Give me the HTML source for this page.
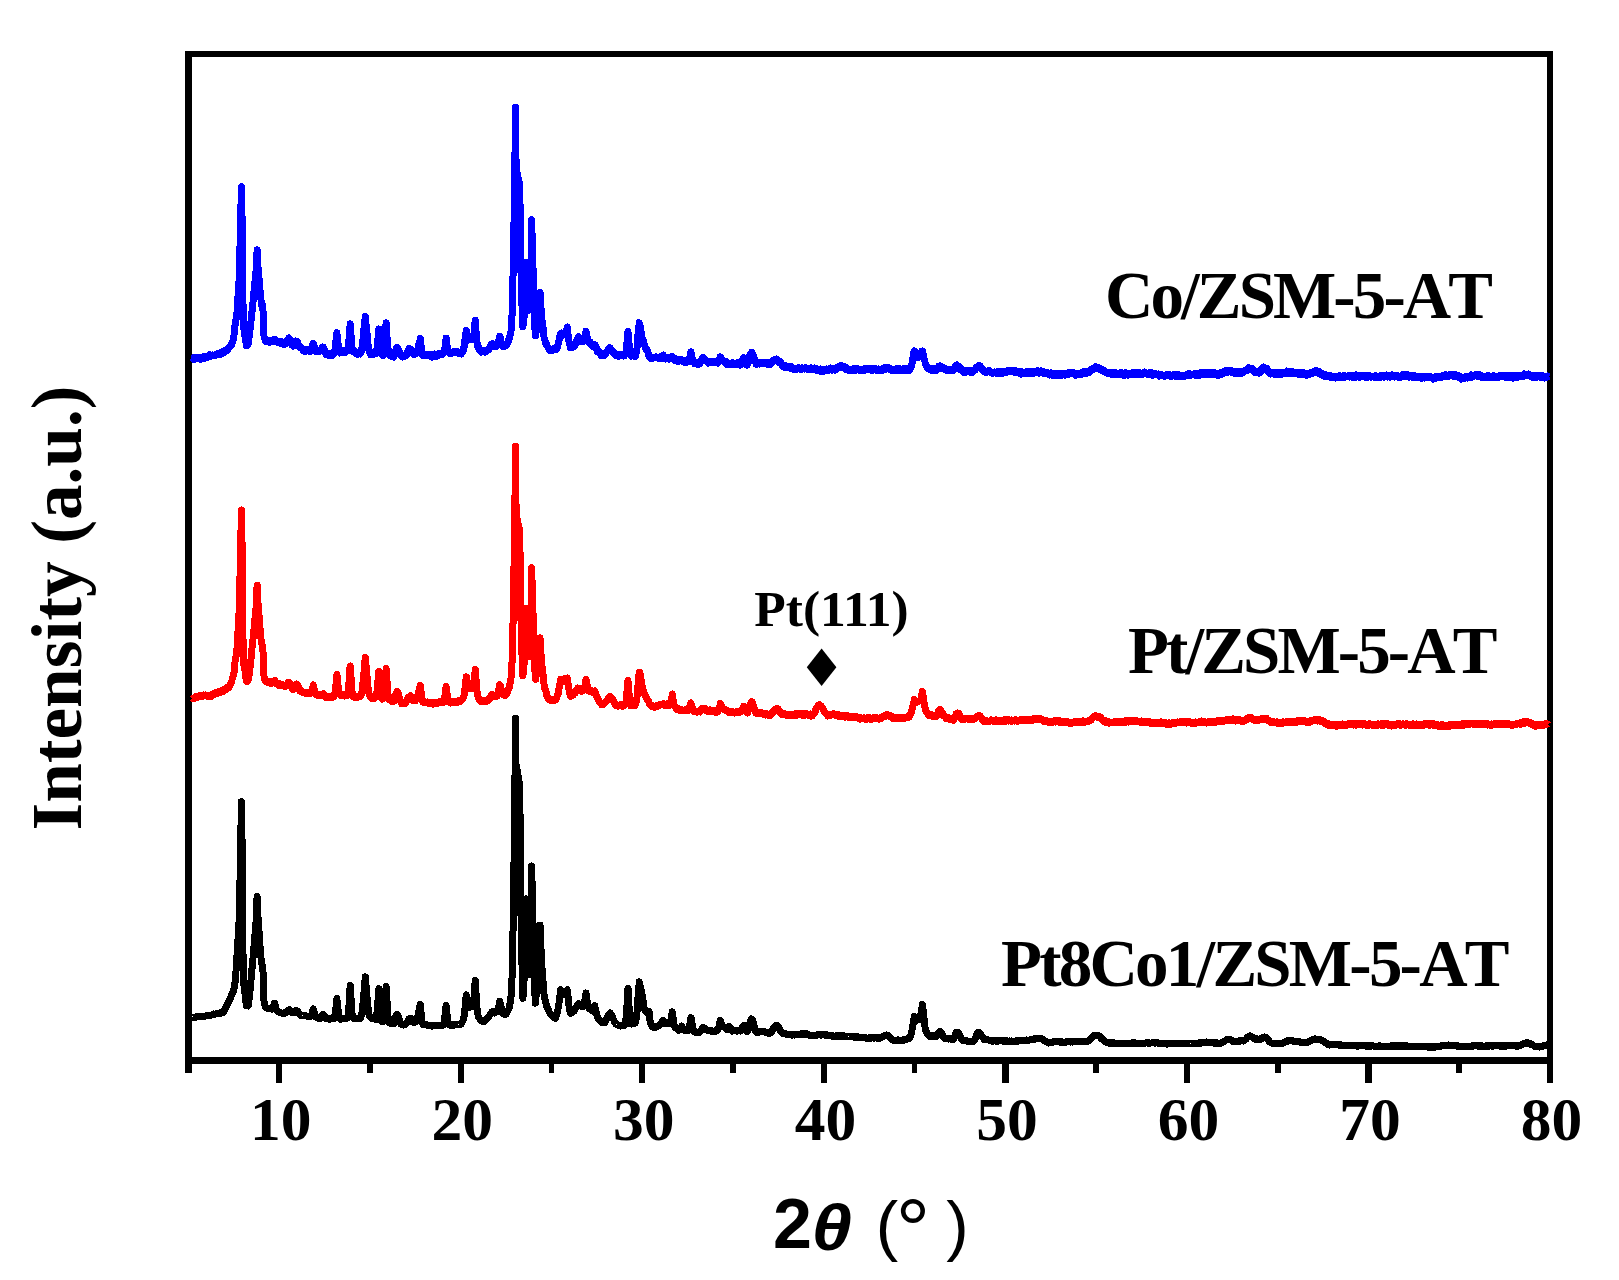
<!DOCTYPE html>
<html lang="en"><head><meta charset="utf-8"><title>XRD patterns</title>
<style>html,body{margin:0;padding:0;background:#fff}svg{display:block}</style>
</head><body>
<svg width="1619" height="1280" viewBox="0 0 1619 1280">
<rect width="1619" height="1280" fill="#fff"/>
<g fill="#000" shape-rendering="crispEdges">
<rect x="185" y="51" width="7" height="1022"/>
<rect x="185" y="51" width="1368" height="6"/>
<rect x="1547" y="51" width="6" height="1032"/>
<rect x="185" y="1057" width="1368" height="7"/>
<rect x="276.2" y="1060" width="6.2" height="23"/>
<rect x="367.2" y="1060" width="5.6" height="13"/>
<rect x="457.7" y="1060" width="6.2" height="23"/>
<rect x="548.8" y="1060" width="5.6" height="13"/>
<rect x="639.2" y="1060" width="6.2" height="23"/>
<rect x="730.3" y="1060" width="5.6" height="13"/>
<rect x="820.8" y="1060" width="6.2" height="23"/>
<rect x="911.8" y="1060" width="5.6" height="13"/>
<rect x="1002.3" y="1060" width="6.2" height="23"/>
<rect x="1093.4" y="1060" width="5.6" height="13"/>
<rect x="1183.8" y="1060" width="6.2" height="23"/>
<rect x="1274.9" y="1060" width="5.6" height="13"/>
<rect x="1365.4" y="1060" width="6.2" height="23"/>
<rect x="1456.4" y="1060" width="5.6" height="13"/>
</g>
<path d="M192.5 358.5 L192.9 358.4 L193.3 358.0 L193.7 359.5 L194.1 359.5 L194.5 358.1 L194.9 357.8 L195.3 359.1 L195.7 358.5 L196.1 358.1 L196.5 358.0 L196.9 358.0 L197.3 358.5 L197.7 358.1 L198.1 358.6 L198.5 357.5 L198.9 358.2 L199.3 358.5 L199.7 358.0 L200.1 359.1 L200.5 359.5 L200.9 359.0 L201.3 358.3 L201.7 357.5 L202.1 358.2 L202.5 357.6 L202.9 357.1 L203.3 357.7 L203.7 357.1 L204.1 357.8 L204.5 358.2 L204.9 356.5 L205.3 357.3 L205.7 356.4 L206.1 356.4 L206.5 357.1 L206.9 357.8 L207.3 356.4 L207.7 356.9 L208.1 356.0 L208.5 357.0 L208.9 355.5 L209.3 356.0 L209.7 354.8 L210.1 355.5 L210.5 356.0 L210.9 356.4 L211.3 356.2 L211.7 355.5 L212.1 355.0 L212.5 355.2 L212.9 355.3 L213.3 355.2 L213.7 355.3 L214.1 355.4 L214.5 355.7 L214.9 355.1 L215.3 355.4 L215.7 355.1 L216.1 354.2 L216.5 354.7 L216.9 353.9 L217.3 354.5 L217.7 354.8 L218.1 354.9 L218.5 354.8 L218.9 354.3 L219.3 353.7 L219.7 353.0 L220.1 353.5 L220.5 354.2 L220.9 353.1 L221.3 352.4 L221.7 353.4 L222.1 353.9 L222.5 352.5 L222.9 351.9 L223.3 351.5 L223.7 352.2 L224.1 352.9 L224.5 351.5 L224.9 352.1 L225.3 350.5 L225.7 350.1 L226.1 350.5 L226.5 350.9 L226.9 350.2 L227.3 350.3 L227.7 349.3 L228.1 348.9 L228.5 348.8 L228.9 347.4 L229.3 346.9 L229.7 346.7 L230.1 346.9 L230.5 345.6 L230.9 344.8 L231.3 345.8 L231.7 344.5 L232.1 342.5 L232.5 341.7 L232.9 340.4 L233.3 339.2 L233.7 337.3 L234.1 334.3 L234.5 329.4 L234.9 326.0 L235.3 323.7 L235.7 321.1 L236.1 319.0 L236.5 317.9 L236.9 314.6 L237.3 307.6 L237.7 301.4 L238.1 294.7 L238.5 287.9 L238.9 283.3 L239.3 275.3 L239.7 258.3 L240.1 243.2 L240.5 226.9 L240.9 209.1 L241.3 191.2 L241.4 186.8 L241.7 200.0 L242.1 219.6 L242.5 263.4 L242.9 298.2 L243.3 317.6 L243.7 327.5 L244.1 330.2 L244.5 332.6 L244.9 335.7 L245.3 337.1 L245.7 339.9 L246.1 343.3 L246.5 345.6 L246.9 345.5 L247.3 345.5 L247.7 344.3 L248.1 343.9 L248.5 341.9 L248.9 337.9 L249.3 335.5 L249.7 333.0 L250.1 328.9 L250.5 324.9 L250.9 322.1 L251.3 317.8 L251.7 313.3 L252.1 310.9 L252.5 307.9 L252.9 302.7 L253.3 299.5 L253.7 294.4 L254.1 290.2 L254.5 285.8 L254.9 282.7 L255.3 278.6 L255.7 275.0 L256.1 270.6 L256.5 262.6 L256.9 254.6 L257.1 249.9 L257.3 253.9 L257.7 261.9 L258.1 268.0 L258.5 272.9 L258.9 276.9 L259.3 281.8 L259.7 287.0 L260.1 291.3 L260.5 295.9 L260.9 298.8 L261.3 302.4 L261.7 305.2 L262.1 304.7 L262.5 304.8 L262.9 306.4 L263.3 323.2 L263.7 331.7 L264.1 337.4 L264.5 337.3 L264.9 338.3 L265.3 340.5 L265.7 340.3 L266.1 340.1 L266.5 341.6 L266.9 340.0 L267.3 340.6 L267.7 341.6 L268.1 341.5 L268.5 341.9 L268.9 340.7 L269.3 341.0 L269.7 342.0 L270.1 340.5 L270.5 340.7 L270.9 342.0 L271.3 340.6 L271.7 341.5 L272.1 341.7 L272.5 340.6 L272.9 341.7 L273.3 341.3 L273.7 339.6 L274.1 340.7 L274.5 340.6 L274.9 340.1 L275.3 339.3 L275.7 340.9 L276.1 341.2 L276.5 341.9 L276.9 340.8 L277.3 341.5 L277.7 342.5 L278.1 342.7 L278.5 341.6 L278.9 341.6 L279.3 341.9 L279.7 342.0 L280.1 343.3 L280.5 343.6 L280.9 341.6 L281.3 342.5 L281.7 341.7 L282.1 343.2 L282.5 343.0 L282.9 343.9 L283.3 344.3 L283.7 344.6 L284.1 343.1 L284.5 342.5 L284.9 344.0 L285.3 343.7 L285.7 343.9 L286.1 342.8 L286.5 342.1 L286.9 342.0 L287.3 340.7 L287.7 339.7 L288.1 338.9 L288.5 339.3 L288.9 337.9 L289.2 338.3 L289.3 338.8 L289.7 339.7 L290.1 340.8 L290.5 341.1 L290.9 343.3 L291.3 344.1 L291.7 344.2 L292.1 345.3 L292.5 345.2 L292.9 345.9 L293.3 344.8 L293.7 346.1 L294.1 344.8 L294.5 343.2 L294.9 342.2 L295.3 341.7 L295.7 341.1 L296.1 342.1 L296.5 341.3 L296.9 342.7 L297.3 342.0 L297.7 342.2 L298.1 344.2 L298.5 345.3 L298.9 346.4 L299.3 345.5 L299.7 345.6 L300.1 347.5 L300.5 347.8 L300.9 347.3 L301.3 347.3 L301.7 347.9 L302.1 348.2 L302.5 349.2 L302.9 350.3 L303.3 348.9 L303.7 350.0 L304.1 350.0 L304.5 350.8 L304.9 351.4 L305.3 351.4 L305.7 349.7 L306.1 350.6 L306.5 350.9 L306.9 350.2 L307.3 349.2 L307.7 350.6 L308.1 350.7 L308.5 351.0 L308.9 351.2 L309.3 351.2 L309.7 349.7 L310.1 351.3 L310.5 351.6 L310.9 350.1 L311.3 350.1 L311.7 349.5 L312.1 347.3 L312.5 345.2 L312.9 344.2 L313.3 343.3 L313.7 344.2 L314.1 346.1 L314.5 348.5 L314.9 348.8 L315.3 350.8 L315.7 350.0 L316.1 350.9 L316.5 351.9 L316.9 351.2 L317.3 350.7 L317.7 350.5 L318.1 350.6 L318.5 350.7 L318.9 350.8 L319.3 350.6 L319.7 351.3 L320.1 350.8 L320.5 350.2 L320.9 350.2 L321.3 350.7 L321.7 348.9 L322.1 347.6 L322.5 348.4 L322.9 348.2 L323.1 347.0 L323.3 348.8 L323.7 348.0 L324.1 349.4 L324.5 349.8 L324.9 351.9 L325.3 352.2 L325.7 353.3 L326.1 354.6 L326.5 354.7 L326.9 354.0 L327.3 353.9 L327.7 354.5 L328.1 354.7 L328.5 355.2 L328.9 354.0 L329.3 353.8 L329.7 353.5 L330.1 355.1 L330.5 354.1 L330.9 355.0 L331.3 354.6 L331.7 355.5 L332.1 354.9 L332.5 355.2 L332.9 353.5 L333.3 354.7 L333.7 353.9 L334.1 352.2 L334.5 352.7 L334.9 350.0 L335.3 347.4 L335.7 343.0 L336.1 339.8 L336.5 336.4 L336.9 332.7 L337.3 337.0 L337.7 339.6 L338.1 344.1 L338.5 345.9 L338.9 350.1 L339.3 350.6 L339.7 351.8 L340.1 353.0 L340.5 352.6 L340.9 352.7 L341.3 351.0 L341.7 352.3 L342.1 350.6 L342.5 351.4 L342.9 351.8 L343.3 351.8 L343.7 351.8 L344.1 351.6 L344.5 352.4 L344.9 351.0 L345.3 352.1 L345.7 352.3 L346.1 351.1 L346.5 351.4 L346.9 351.4 L347.3 350.9 L347.7 350.9 L348.1 350.1 L348.5 346.1 L348.9 340.1 L349.3 335.5 L349.7 330.6 L350.1 324.8 L350.2 323.8 L350.5 328.3 L350.9 333.5 L351.3 339.2 L351.7 343.3 L352.1 348.5 L352.5 350.1 L352.9 351.2 L353.3 351.9 L353.7 352.0 L354.1 351.4 L354.5 351.6 L354.9 352.0 L355.3 352.0 L355.7 351.6 L356.1 353.1 L356.5 353.8 L356.9 353.0 L357.3 353.6 L357.7 354.2 L358.1 352.5 L358.5 353.2 L358.9 353.4 L359.3 352.5 L359.7 353.9 L360.1 354.0 L360.5 353.0 L360.9 351.8 L361.3 351.4 L361.7 348.9 L362.1 347.5 L362.5 343.9 L362.9 340.1 L363.3 336.0 L363.7 332.3 L364.1 327.3 L364.5 324.5 L364.9 319.8 L365.3 316.6 L365.7 321.2 L366.1 325.1 L366.5 327.7 L366.9 331.8 L367.3 336.8 L367.7 341.6 L368.1 344.4 L368.5 346.9 L368.9 350.7 L369.3 351.2 L369.7 352.3 L370.1 353.0 L370.5 354.6 L370.9 354.1 L371.3 352.9 L371.7 353.7 L372.1 353.4 L372.5 352.8 L372.9 353.3 L373.3 352.9 L373.7 354.3 L374.1 353.1 L374.5 353.5 L374.9 352.4 L375.3 352.7 L375.7 353.6 L376.1 352.5 L376.5 351.9 L376.9 349.2 L377.3 345.9 L377.7 341.1 L378.1 338.0 L378.5 333.5 L378.8 328.9 L378.9 331.4 L379.3 335.2 L379.7 340.3 L380.1 345.6 L380.5 350.1 L380.9 351.7 L381.3 352.7 L381.7 354.1 L382.1 354.6 L382.5 354.3 L382.9 354.8 L383.3 355.6 L383.7 352.3 L384.1 351.1 L384.5 347.5 L384.9 342.8 L385.3 337.0 L385.7 329.6 L386.1 322.9 L386.5 329.3 L386.9 335.6 L387.3 341.4 L387.7 345.9 L388.1 349.3 L388.5 353.5 L388.9 354.3 L389.3 354.7 L389.7 354.6 L390.1 355.3 L390.5 355.7 L390.9 356.2 L391.3 356.2 L391.7 356.3 L392.1 356.7 L392.5 355.7 L392.9 356.8 L393.3 356.8 L393.7 357.1 L394.1 356.3 L394.5 355.1 L394.9 354.6 L395.3 353.0 L395.7 350.1 L396.1 349.7 L396.5 348.0 L396.9 347.3 L397.0 348.4 L397.3 348.2 L397.7 347.8 L398.1 349.6 L398.5 350.3 L398.9 350.1 L399.3 351.7 L399.7 352.9 L400.1 353.5 L400.5 355.3 L400.9 355.3 L401.3 354.9 L401.7 356.4 L402.1 356.3 L402.5 356.0 L402.9 356.9 L403.3 356.7 L403.7 356.9 L404.1 355.7 L404.5 355.2 L404.9 355.1 L405.3 355.2 L405.7 355.4 L406.1 354.5 L406.5 354.4 L406.9 354.7 L407.3 353.9 L407.7 351.4 L408.1 351.0 L408.5 350.6 L408.9 348.7 L409.3 350.1 L409.7 349.8 L410.0 349.0 L410.1 348.8 L410.5 349.4 L410.9 349.2 L411.3 350.8 L411.7 351.8 L412.1 352.4 L412.5 353.3 L412.9 353.1 L413.3 354.2 L413.7 353.5 L414.1 353.3 L414.5 352.9 L414.9 354.2 L415.3 354.0 L415.7 353.8 L416.1 353.4 L416.5 353.1 L416.9 352.1 L417.3 350.4 L417.7 350.0 L418.1 348.9 L418.5 346.0 L418.9 344.0 L419.3 342.6 L419.7 342.0 L420.1 339.6 L420.3 338.4 L420.5 340.5 L420.9 344.2 L421.3 348.1 L421.7 350.6 L422.1 353.0 L422.5 355.1 L422.9 355.6 L423.3 354.4 L423.7 354.7 L424.1 353.9 L424.5 355.6 L424.9 354.5 L425.3 355.6 L425.7 354.4 L426.1 354.1 L426.5 354.4 L426.9 354.4 L427.3 354.6 L427.7 354.8 L428.1 354.9 L428.5 354.4 L428.9 355.4 L429.3 355.9 L429.7 355.1 L430.1 354.7 L430.5 354.5 L430.9 354.8 L431.3 355.6 L431.7 356.2 L432.1 357.1 L432.5 357.0 L432.9 355.4 L433.3 355.1 L433.7 354.9 L434.1 354.4 L434.5 354.1 L434.9 355.1 L435.3 356.2 L435.7 356.5 L436.1 354.5 L436.5 354.3 L436.9 354.4 L437.3 355.4 L437.7 354.0 L438.1 354.3 L438.5 355.2 L438.9 355.2 L439.3 353.9 L439.7 354.1 L440.1 354.5 L440.5 353.3 L440.9 354.5 L441.3 354.4 L441.7 353.7 L442.1 353.3 L442.5 352.6 L442.9 354.2 L443.3 352.8 L443.7 352.6 L444.1 352.1 L444.5 349.8 L444.9 348.3 L445.3 344.3 L445.7 341.9 L446.1 338.1 L446.5 341.7 L446.9 344.9 L447.3 347.3 L447.7 349.6 L448.1 351.8 L448.5 351.1 L448.9 351.8 L449.3 351.9 L449.7 352.9 L450.1 353.5 L450.5 352.3 L450.9 353.4 L451.3 352.1 L451.7 352.2 L452.1 353.1 L452.5 352.1 L452.9 353.0 L453.3 351.5 L453.7 351.5 L454.1 352.7 L454.5 352.7 L454.9 351.5 L455.3 351.9 L455.7 352.1 L456.1 351.1 L456.5 352.8 L456.9 351.4 L457.3 353.1 L457.7 353.1 L458.1 353.1 L458.5 352.5 L458.9 352.1 L459.3 352.6 L459.7 353.8 L460.1 352.3 L460.5 352.7 L460.9 353.1 L461.3 354.0 L461.7 353.1 L462.1 352.8 L462.5 351.8 L462.9 350.4 L463.3 350.4 L463.7 347.4 L464.1 347.1 L464.5 343.1 L464.9 340.1 L465.3 336.6 L465.7 334.1 L466.1 331.7 L466.3 330.4 L466.5 331.2 L466.9 332.9 L467.3 334.9 L467.7 337.3 L468.1 338.5 L468.5 339.5 L468.9 339.9 L469.3 338.5 L469.7 339.4 L470.1 337.4 L470.5 338.0 L470.9 336.8 L471.3 336.8 L471.7 339.3 L472.1 339.1 L472.5 339.2 L472.9 339.5 L473.3 337.3 L473.7 335.6 L474.1 333.0 L474.5 328.4 L474.9 323.2 L475.2 320.1 L475.3 322.9 L475.7 326.5 L476.1 332.0 L476.5 336.8 L476.9 341.0 L477.3 344.1 L477.7 345.7 L478.1 347.7 L478.5 348.7 L478.9 348.1 L479.3 348.0 L479.7 349.5 L480.1 350.2 L480.5 351.0 L480.9 350.7 L481.3 352.1 L481.7 351.7 L482.1 351.2 L482.5 350.5 L482.9 350.4 L483.3 350.6 L483.7 351.6 L484.1 351.3 L484.5 351.9 L484.9 350.9 L485.3 351.5 L485.7 351.9 L486.1 351.2 L486.5 351.1 L486.9 349.8 L487.3 349.7 L487.7 349.3 L488.1 349.1 L488.5 350.1 L488.9 348.5 L489.3 348.9 L489.7 348.1 L490.1 346.2 L490.5 345.4 L490.9 344.6 L491.3 344.2 L491.7 344.8 L492.0 344.2 L492.1 343.8 L492.5 343.9 L492.9 343.7 L493.3 343.7 L493.7 344.7 L494.1 346.1 L494.5 346.8 L494.9 345.0 L495.3 345.6 L495.7 345.9 L496.1 345.6 L496.5 346.3 L496.9 345.0 L497.3 344.0 L497.7 343.9 L498.1 342.0 L498.5 342.1 L498.9 340.5 L499.3 338.9 L499.7 336.7 L499.8 336.2 L500.1 337.1 L500.5 339.4 L500.9 341.5 L501.3 343.1 L501.7 343.6 L502.1 344.4 L502.5 345.2 L502.9 346.5 L503.3 345.8 L503.7 344.7 L504.1 345.5 L504.5 346.4 L504.9 345.2 L505.3 345.2 L505.7 345.8 L506.1 345.8 L506.5 344.4 L506.9 344.3 L507.3 343.9 L507.7 342.9 L508.1 342.4 L508.5 340.1 L508.9 339.4 L509.3 338.7 L509.7 337.2 L510.1 335.3 L510.5 334.3 L510.9 332.0 L511.3 328.6 L511.7 321.7 L512.1 313.9 L512.5 300.2 L512.9 282.5 L513.3 261.6 L513.7 239.2 L514.1 217.1 L514.5 190.6 L514.9 163.4 L515.3 125.9 L515.5 107.1 L515.7 136.8 L516.1 164.6 L516.5 168.6 L516.9 171.0 L517.3 173.7 L517.7 176.1 L518.1 177.4 L518.5 179.8 L518.9 180.4 L519.3 182.7 L519.7 184.0 L520.1 209.5 L520.5 242.0 L520.9 266.6 L521.3 288.6 L521.7 297.7 L522.1 308.7 L522.5 318.9 L522.9 326.8 L523.3 323.9 L523.7 320.8 L524.1 317.2 L524.5 310.2 L524.9 300.9 L525.3 294.0 L525.7 278.5 L526.1 262.7 L526.5 273.0 L526.9 282.8 L527.3 292.3 L527.7 302.2 L528.1 309.0 L528.5 310.0 L528.9 309.2 L529.3 310.2 L529.7 303.7 L530.1 294.8 L530.5 284.3 L530.9 265.0 L531.3 242.6 L531.6 219.8 L531.7 222.6 L532.1 236.7 L532.5 248.8 L532.9 263.7 L533.3 279.0 L533.7 294.6 L534.1 307.3 L534.5 316.8 L534.9 327.4 L535.3 335.6 L535.7 335.6 L536.1 332.1 L536.5 327.5 L536.9 323.7 L537.3 319.5 L537.7 314.9 L538.1 311.0 L538.5 307.8 L538.9 302.5 L539.3 299.1 L539.7 296.0 L540.0 292.4 L540.1 293.5 L540.5 300.3 L540.9 306.3 L541.3 311.5 L541.7 315.9 L542.1 321.0 L542.5 323.9 L542.9 326.9 L543.3 329.4 L543.7 333.1 L544.1 337.7 L544.5 339.5 L544.9 339.7 L545.3 341.9 L545.7 343.4 L546.1 343.2 L546.5 344.8 L546.9 345.6 L547.3 346.4 L547.7 346.8 L548.1 347.9 L548.5 347.4 L548.9 349.5 L549.3 348.5 L549.7 350.3 L550.1 348.9 L550.5 349.3 L550.9 349.1 L551.3 350.7 L551.7 349.7 L552.1 350.9 L552.5 349.9 L552.9 349.1 L553.3 349.4 L553.7 348.9 L554.1 349.7 L554.5 349.2 L554.9 349.3 L555.3 349.1 L555.7 349.1 L556.1 349.9 L556.5 348.6 L556.9 347.8 L557.3 347.2 L557.7 345.4 L558.1 344.6 L558.5 341.6 L558.9 340.7 L559.3 339.8 L559.7 337.7 L560.1 335.1 L560.5 334.7 L560.7 334.0 L560.9 333.2 L561.3 333.0 L561.7 333.3 L562.1 334.1 L562.5 333.9 L562.9 335.2 L563.3 334.4 L563.7 334.3 L564.1 333.5 L564.5 334.8 L564.9 334.7 L565.3 334.0 L565.7 333.5 L566.1 333.0 L566.5 331.2 L566.9 329.4 L567.3 327.0 L567.7 331.6 L568.1 334.9 L568.5 338.9 L568.9 340.9 L569.3 342.4 L569.7 343.9 L570.1 345.8 L570.5 347.7 L570.9 347.0 L571.3 347.7 L571.7 346.5 L572.1 347.6 L572.5 346.1 L572.9 345.5 L573.3 345.0 L573.7 346.2 L574.1 346.5 L574.5 345.8 L574.9 344.0 L575.3 344.2 L575.7 343.4 L576.1 341.5 L576.5 341.6 L576.9 340.8 L577.3 339.0 L577.7 338.8 L578.1 337.2 L578.3 336.8 L578.5 336.7 L578.9 338.4 L579.3 338.4 L579.7 339.4 L580.1 341.0 L580.5 340.4 L580.9 340.2 L581.3 340.7 L581.7 341.9 L582.1 341.0 L582.5 340.2 L582.9 340.0 L583.3 340.4 L583.7 341.3 L584.1 339.5 L584.5 339.0 L584.9 336.6 L585.3 335.8 L585.7 333.5 L586.0 331.1 L586.1 331.5 L586.5 333.9 L586.9 335.8 L587.3 337.9 L587.7 340.6 L588.1 340.3 L588.5 341.1 L588.9 342.5 L589.3 343.2 L589.7 343.4 L590.1 342.4 L590.5 342.3 L590.9 343.9 L591.3 344.0 L591.7 345.2 L592.1 344.0 L592.5 345.3 L592.9 345.7 L593.3 346.4 L593.7 345.0 L594.1 345.3 L594.5 345.9 L594.7 345.3 L594.9 344.7 L595.3 346.5 L595.7 346.5 L596.1 347.1 L596.5 349.6 L596.9 349.7 L597.3 351.3 L597.7 352.1 L598.1 350.9 L598.5 351.1 L598.9 352.6 L599.3 352.0 L599.7 352.0 L600.1 352.3 L600.5 354.4 L600.9 355.3 L601.3 355.8 L601.7 354.7 L602.1 354.0 L602.5 354.5 L602.9 353.5 L603.3 353.6 L603.7 355.2 L604.1 355.8 L604.5 354.7 L604.9 353.5 L605.3 353.7 L605.7 354.1 L606.1 353.2 L606.5 352.4 L606.9 352.0 L607.3 351.5 L607.7 350.4 L608.1 349.6 L608.5 349.3 L608.9 349.2 L609.3 350.1 L609.7 348.5 L610.0 347.6 L610.1 348.6 L610.5 350.0 L610.9 350.6 L611.3 349.2 L611.7 350.8 L612.1 351.6 L612.5 350.9 L612.9 350.9 L613.3 351.3 L613.7 352.5 L614.1 353.5 L614.5 353.3 L614.9 354.2 L615.3 354.8 L615.7 354.6 L616.1 355.8 L616.5 354.9 L616.9 355.3 L617.3 354.9 L617.7 354.6 L618.1 355.5 L618.5 356.2 L618.9 355.8 L619.3 354.8 L619.7 354.6 L620.1 356.0 L620.5 355.7 L620.9 354.9 L621.3 354.9 L621.7 354.4 L622.1 355.2 L622.5 354.1 L622.9 355.5 L623.3 354.6 L623.7 354.7 L624.1 356.0 L624.5 354.4 L624.9 354.6 L625.3 354.2 L625.7 353.3 L626.1 351.7 L626.5 348.4 L626.9 343.5 L627.3 339.5 L627.7 334.0 L628.0 331.6 L628.1 333.1 L628.5 336.1 L628.9 342.1 L629.3 346.3 L629.7 349.3 L630.1 351.8 L630.5 353.2 L630.9 355.6 L631.3 356.2 L631.7 355.9 L632.1 355.2 L632.5 354.9 L632.9 354.7 L633.3 354.4 L633.7 355.3 L634.1 356.0 L634.5 356.6 L634.9 356.8 L635.3 356.7 L635.7 354.5 L636.1 353.2 L636.5 351.4 L636.9 349.1 L637.3 345.0 L637.7 339.2 L638.1 332.9 L638.5 329.7 L638.9 326.8 L639.2 323.2 L639.3 322.7 L639.7 324.7 L640.1 326.0 L640.5 327.1 L640.9 330.7 L641.3 332.1 L641.7 334.4 L642.1 338.2 L642.5 338.6 L642.9 339.4 L643.3 340.2 L643.7 342.1 L644.1 344.0 L644.5 344.9 L644.9 346.1 L645.3 347.2 L645.7 347.9 L646.1 349.6 L646.5 349.9 L646.9 348.9 L647.3 350.9 L647.7 351.5 L648.1 352.8 L648.5 354.1 L648.9 355.9 L649.3 355.7 L649.7 356.6 L650.1 357.4 L650.5 357.5 L650.9 358.2 L651.3 357.9 L651.7 358.5 L652.1 358.1 L652.5 357.9 L652.9 358.4 L653.3 358.1 L653.7 357.8 L654.1 357.8 L654.5 357.7 L654.9 357.5 L655.3 357.5 L655.7 357.8 L656.1 356.9 L656.5 357.2 L656.9 357.8 L657.3 357.4 L657.7 358.1 L658.1 357.3 L658.5 357.4 L658.9 357.5 L659.3 357.3 L659.7 357.5 L660.1 358.2 L660.5 358.4 L660.9 356.4 L661.3 357.1 L661.7 356.7 L662.1 356.2 L662.5 355.4 L662.9 355.2 L663.0 355.5 L663.3 355.1 L663.7 356.8 L664.1 357.8 L664.5 358.7 L664.9 357.2 L665.3 357.2 L665.7 359.0 L666.1 358.6 L666.5 357.7 L666.9 358.3 L667.3 358.2 L667.7 358.5 L668.1 358.9 L668.5 357.6 L668.9 357.4 L669.3 358.1 L669.7 359.0 L670.1 358.3 L670.5 358.3 L670.9 357.9 L671.3 356.7 L671.7 358.2 L672.1 357.8 L672.3 356.9 L672.5 356.6 L672.9 357.5 L673.3 358.9 L673.7 359.6 L674.1 359.9 L674.5 360.5 L674.9 360.2 L675.3 359.3 L675.7 359.0 L676.1 359.9 L676.5 360.0 L676.9 359.6 L677.3 361.2 L677.7 359.8 L678.1 359.7 L678.5 359.8 L678.9 360.5 L679.3 361.2 L679.7 360.2 L680.1 359.7 L680.5 360.4 L680.9 360.6 L681.3 359.4 L681.7 359.6 L682.1 359.8 L682.5 360.0 L682.9 360.0 L683.3 360.2 L683.7 360.7 L684.1 362.2 L684.5 362.1 L684.9 362.3 L685.3 362.7 L685.7 362.8 L686.1 361.7 L686.5 361.1 L686.9 360.6 L687.3 361.8 L687.7 361.0 L688.1 361.8 L688.5 361.9 L688.9 359.5 L689.3 359.4 L689.7 357.4 L690.1 356.1 L690.5 355.4 L690.9 352.4 L691.0 351.9 L691.3 353.2 L691.7 356.1 L692.1 358.2 L692.5 358.5 L692.9 358.9 L693.3 361.4 L693.7 361.3 L694.1 362.2 L694.5 363.6 L694.9 363.6 L695.3 363.3 L695.7 363.3 L696.1 363.2 L696.5 363.3 L696.9 363.2 L697.3 363.7 L697.7 364.4 L698.1 362.6 L698.5 362.5 L698.9 363.4 L699.3 364.0 L699.7 363.6 L700.1 362.9 L700.5 361.8 L700.9 361.9 L701.3 360.0 L701.7 359.2 L702.1 359.6 L702.5 359.1 L702.9 358.9 L703.0 357.9 L703.3 357.5 L703.7 359.1 L704.1 358.2 L704.5 358.9 L704.9 359.7 L705.3 359.9 L705.7 360.1 L706.1 361.1 L706.5 361.6 L706.9 361.0 L707.3 361.6 L707.7 362.7 L708.1 363.0 L708.5 362.2 L708.9 362.5 L709.3 362.4 L709.7 361.5 L710.1 361.3 L710.5 362.7 L710.9 362.8 L711.3 362.1 L711.7 362.1 L712.1 361.7 L712.5 361.2 L712.9 361.5 L713.3 361.8 L713.7 362.0 L714.1 361.4 L714.5 362.8 L714.9 362.5 L715.3 361.5 L715.7 362.7 L716.1 361.8 L716.5 362.9 L716.9 362.8 L717.3 362.9 L717.7 362.2 L718.1 363.0 L718.5 361.5 L718.9 360.0 L719.3 360.0 L719.7 358.8 L720.1 356.7 L720.2 356.7 L720.5 357.7 L720.9 357.2 L721.3 359.1 L721.7 359.5 L722.1 360.2 L722.5 360.0 L722.9 361.2 L723.3 361.4 L723.7 361.2 L724.1 361.1 L724.5 362.2 L724.9 361.7 L725.3 361.5 L725.7 361.2 L726.1 363.1 L726.5 363.8 L726.9 364.0 L727.3 364.6 L727.7 363.7 L728.1 364.6 L728.5 364.3 L728.9 363.6 L729.3 363.6 L729.7 363.5 L730.1 363.4 L730.5 363.2 L730.9 363.3 L731.3 364.6 L731.7 363.0 L732.1 363.4 L732.5 364.1 L732.9 364.4 L733.3 362.8 L733.7 364.0 L734.1 363.3 L734.5 363.8 L734.9 363.8 L735.3 364.4 L735.7 364.8 L736.1 364.5 L736.5 363.2 L736.9 363.1 L737.3 363.1 L737.7 362.6 L738.1 362.9 L738.5 362.9 L738.9 364.6 L739.3 364.3 L739.7 364.8 L740.1 365.2 L740.5 365.0 L740.9 364.5 L741.3 362.9 L741.7 361.8 L742.1 361.1 L742.5 361.1 L742.9 359.0 L743.3 358.9 L743.7 359.2 L743.8 357.8 L744.1 358.9 L744.5 358.2 L744.9 359.3 L745.3 361.3 L745.7 362.6 L746.1 364.1 L746.5 364.4 L746.9 365.3 L747.3 365.2 L747.7 363.4 L748.1 363.4 L748.5 360.6 L748.9 360.0 L749.3 357.9 L749.7 355.7 L750.1 354.1 L750.5 353.9 L750.9 353.9 L751.3 352.6 L751.5 352.9 L751.7 352.2 L752.1 353.5 L752.5 354.5 L752.9 354.7 L753.3 355.3 L753.7 356.3 L754.1 357.4 L754.5 360.4 L754.9 361.8 L755.3 361.6 L755.7 362.1 L756.1 364.4 L756.5 364.6 L756.9 364.0 L757.3 362.7 L757.7 364.0 L758.1 363.1 L758.5 363.4 L758.9 362.8 L759.3 364.0 L759.7 363.8 L760.1 362.4 L760.5 363.4 L760.9 362.7 L761.3 363.7 L761.7 362.8 L762.1 363.1 L762.5 363.5 L762.9 363.0 L763.3 362.3 L763.7 362.8 L764.1 362.2 L764.5 363.8 L764.9 363.1 L765.3 362.3 L765.7 363.1 L766.1 363.3 L766.5 363.9 L766.9 363.6 L767.3 362.7 L767.7 362.3 L768.1 364.4 L768.5 364.2 L768.9 363.7 L769.3 363.2 L769.7 364.2 L770.1 364.7 L770.5 364.1 L770.9 362.8 L771.3 362.4 L771.7 363.3 L772.1 362.3 L772.5 362.4 L772.9 360.6 L773.3 361.0 L773.7 361.4 L774.1 361.3 L774.5 360.9 L774.9 359.6 L775.3 359.1 L775.7 359.2 L776.1 359.0 L776.5 359.3 L776.6 358.9 L776.9 360.1 L777.3 360.8 L777.7 360.0 L778.1 360.5 L778.5 361.4 L778.9 362.3 L779.3 361.8 L779.7 361.8 L780.1 361.5 L780.5 362.0 L780.9 363.4 L781.3 363.3 L781.7 364.3 L782.1 365.8 L782.5 365.4 L782.9 365.7 L783.3 366.8 L783.7 366.1 L784.1 366.7 L784.5 367.3 L784.9 366.1 L785.3 365.7 L785.7 366.8 L786.1 366.6 L786.5 366.1 L786.9 366.2 L787.3 367.1 L787.7 366.8 L788.1 367.5 L788.5 366.9 L788.9 366.8 L789.3 366.9 L789.7 368.1 L790.1 367.2 L790.5 366.9 L790.9 366.7 L791.3 367.9 L791.7 368.8 L792.1 367.8 L792.5 369.1 L792.9 368.9 L793.3 368.4 L793.7 368.3 L794.1 369.2 L794.5 368.9 L794.9 369.2 L795.3 368.1 L795.7 368.7 L796.1 369.4 L796.5 368.5 L796.9 368.3 L797.3 368.2 L797.7 368.0 L798.1 368.3 L798.5 368.2 L798.9 367.7 L799.3 368.4 L799.7 368.6 L800.1 369.1 L800.5 368.5 L800.9 369.7 L801.3 368.3 L801.7 368.6 L802.1 367.8 L802.5 368.4 L802.9 368.3 L803.3 368.5 L803.7 368.1 L804.1 368.3 L804.5 369.0 L804.9 368.4 L805.3 368.2 L805.7 367.8 L806.1 368.3 L806.5 368.0 L806.9 369.0 L807.3 368.8 L807.7 368.2 L808.1 368.9 L808.5 369.8 L808.9 369.0 L809.3 368.7 L809.7 368.9 L810.1 368.9 L810.5 369.8 L810.9 369.1 L811.3 367.9 L811.7 368.8 L812.1 369.0 L812.5 368.7 L812.9 369.1 L813.3 369.7 L813.7 369.1 L814.1 368.6 L814.5 368.0 L814.9 368.6 L815.3 369.4 L815.7 368.3 L816.1 370.1 L816.5 369.9 L816.9 369.2 L817.3 369.5 L817.7 370.1 L818.1 369.9 L818.5 369.4 L818.9 370.4 L819.3 370.5 L819.7 371.1 L820.1 370.0 L820.5 370.1 L820.9 369.1 L821.3 369.3 L821.7 370.5 L822.1 371.1 L822.5 371.2 L822.9 369.7 L823.3 369.6 L823.7 370.4 L824.1 371.1 L824.5 369.9 L824.9 369.3 L825.3 369.5 L825.7 369.6 L826.1 369.3 L826.5 368.9 L826.9 369.1 L827.3 370.5 L827.7 370.7 L828.1 370.7 L828.5 370.2 L828.9 369.9 L829.3 369.5 L829.7 369.1 L830.1 368.6 L830.5 368.1 L830.9 369.0 L831.3 369.0 L831.7 368.9 L832.1 370.1 L832.5 368.5 L832.9 368.2 L833.3 369.5 L833.7 369.2 L834.1 369.5 L834.5 369.5 L834.9 369.9 L835.3 370.2 L835.7 369.9 L836.1 369.4 L836.5 368.9 L836.9 367.7 L837.3 368.3 L837.7 368.0 L838.1 368.2 L838.5 366.6 L838.9 367.7 L839.3 367.8 L839.7 366.0 L840.1 367.2 L840.5 367.5 L840.9 365.6 L841.3 365.5 L841.7 366.1 L842.1 367.1 L842.5 367.4 L842.9 366.1 L843.3 367.3 L843.7 367.8 L844.1 366.6 L844.5 368.3 L844.9 367.7 L845.3 367.2 L845.7 368.5 L846.1 369.0 L846.5 369.9 L846.9 368.6 L847.3 368.3 L847.7 368.4 L848.1 369.9 L848.5 370.1 L848.9 370.6 L849.3 370.4 L849.7 370.7 L850.1 370.5 L850.5 369.9 L850.9 370.2 L851.3 369.8 L851.7 370.4 L852.1 368.9 L852.5 368.9 L852.9 368.8 L853.3 370.0 L853.7 368.7 L854.1 369.5 L854.5 370.6 L854.9 370.4 L855.3 370.4 L855.7 369.1 L856.1 369.4 L856.5 368.5 L856.9 369.2 L857.3 368.4 L857.7 368.8 L858.1 369.3 L858.5 369.9 L858.9 369.1 L859.3 369.9 L859.7 369.6 L860.1 369.8 L860.5 370.0 L860.9 370.6 L861.3 370.4 L861.7 370.6 L862.1 370.3 L862.5 370.2 L862.9 370.2 L863.3 368.8 L863.7 368.8 L864.1 368.9 L864.5 370.0 L864.9 370.1 L865.3 370.0 L865.7 369.1 L866.1 369.6 L866.5 369.5 L866.9 369.3 L867.3 368.4 L867.7 369.6 L868.1 368.2 L868.5 368.7 L868.9 369.3 L869.3 369.5 L869.7 369.0 L870.1 368.6 L870.5 368.7 L870.9 369.7 L871.3 370.4 L871.7 370.7 L872.1 369.7 L872.5 369.6 L872.9 368.8 L873.3 368.8 L873.7 368.5 L874.1 369.6 L874.5 369.3 L874.9 368.8 L875.3 369.3 L875.7 369.5 L876.1 368.8 L876.5 370.5 L876.9 369.2 L877.3 369.8 L877.7 370.9 L878.1 369.3 L878.5 369.1 L878.9 370.3 L879.3 370.7 L879.7 370.4 L880.1 370.5 L880.5 370.2 L880.9 370.3 L881.3 369.1 L881.7 369.9 L882.1 370.3 L882.5 368.8 L882.9 369.3 L883.3 368.0 L883.7 368.2 L884.1 369.5 L884.5 369.0 L884.9 367.9 L885.3 368.9 L885.7 368.8 L886.1 369.0 L886.5 369.1 L886.9 367.8 L887.0 367.5 L887.3 368.0 L887.7 367.2 L888.1 367.6 L888.5 368.7 L888.9 368.2 L889.3 368.3 L889.7 368.4 L890.1 369.7 L890.5 368.9 L890.9 370.2 L891.3 370.4 L891.7 369.3 L892.1 369.7 L892.5 369.8 L892.9 370.3 L893.3 370.5 L893.7 370.6 L894.1 369.2 L894.5 370.2 L894.9 369.5 L895.3 369.9 L895.7 369.0 L896.1 370.7 L896.5 369.2 L896.9 368.8 L897.3 368.6 L897.7 368.5 L898.1 368.3 L898.5 370.3 L898.9 369.7 L899.3 369.6 L899.7 370.5 L900.1 368.7 L900.5 369.6 L900.9 369.1 L901.3 369.7 L901.7 369.4 L902.1 370.0 L902.5 370.0 L902.9 370.5 L903.3 369.1 L903.7 370.1 L904.1 369.7 L904.5 368.4 L904.9 370.1 L905.3 369.2 L905.7 368.8 L906.1 369.0 L906.5 369.8 L906.9 369.5 L907.3 369.3 L907.7 370.3 L908.1 369.5 L908.5 369.1 L908.9 369.9 L909.3 370.4 L909.7 368.6 L910.1 369.0 L910.5 367.0 L910.9 367.2 L911.3 366.1 L911.7 364.8 L912.1 363.1 L912.5 361.0 L912.9 358.0 L913.3 355.8 L913.7 353.1 L914.1 351.3 L914.3 351.5 L914.5 350.9 L914.9 353.2 L915.3 353.8 L915.7 354.2 L916.1 355.6 L916.5 356.0 L916.9 357.5 L917.3 356.0 L917.7 356.9 L918.1 356.2 L918.5 356.1 L918.9 356.9 L919.3 355.4 L919.7 357.0 L920.1 355.3 L920.5 354.8 L920.9 353.4 L921.3 352.4 L921.7 351.3 L922.1 351.9 L922.5 351.0 L922.9 352.4 L923.3 355.3 L923.7 356.4 L924.1 358.8 L924.5 359.5 L924.9 361.4 L925.3 363.2 L925.7 363.6 L926.1 365.7 L926.5 365.8 L926.9 367.4 L927.3 366.5 L927.7 367.4 L928.1 368.5 L928.5 368.6 L928.9 368.8 L929.3 368.6 L929.7 368.5 L930.1 368.4 L930.5 369.4 L930.9 370.1 L931.3 368.7 L931.7 370.2 L932.1 369.5 L932.5 368.6 L932.9 368.8 L933.3 368.4 L933.7 370.1 L934.1 370.2 L934.5 369.1 L934.9 368.7 L935.3 368.7 L935.7 369.6 L936.1 369.8 L936.5 370.4 L936.9 370.2 L937.3 368.2 L937.7 368.3 L938.1 368.1 L938.5 367.4 L938.9 366.1 L939.3 366.3 L939.7 366.0 L940.0 367.4 L940.1 367.7 L940.5 366.9 L940.9 366.6 L941.3 367.9 L941.7 367.8 L942.1 368.7 L942.5 368.3 L942.9 368.1 L943.3 368.4 L943.7 367.7 L944.1 368.3 L944.5 368.2 L944.9 369.0 L945.3 369.9 L945.7 369.9 L946.1 369.8 L946.5 369.4 L946.9 370.5 L947.3 370.0 L947.7 370.3 L948.1 369.9 L948.5 370.7 L948.9 369.7 L949.3 369.9 L949.7 369.6 L950.1 370.3 L950.5 370.1 L950.9 369.4 L951.3 370.1 L951.7 370.4 L952.1 369.8 L952.5 369.1 L952.9 369.2 L953.3 370.5 L953.7 368.7 L954.1 368.2 L954.5 369.1 L954.9 367.3 L955.3 366.9 L955.7 365.7 L956.1 366.6 L956.5 365.5 L956.9 365.0 L957.3 366.2 L957.7 366.9 L958.1 366.9 L958.5 366.0 L958.9 366.8 L959.3 366.2 L959.7 367.6 L960.1 368.9 L960.5 369.9 L960.9 369.0 L961.3 369.0 L961.7 370.1 L962.1 371.0 L962.5 370.2 L962.9 370.5 L963.3 371.0 L963.7 372.3 L964.1 371.5 L964.5 370.7 L964.9 371.1 L965.3 370.7 L965.7 372.5 L966.1 371.1 L966.5 371.8 L966.9 371.9 L967.3 371.8 L967.7 370.9 L968.1 371.9 L968.5 371.8 L968.9 371.2 L969.3 371.5 L969.7 371.9 L970.1 371.5 L970.5 372.3 L970.9 370.6 L971.3 370.8 L971.7 370.8 L972.1 372.1 L972.5 371.1 L972.9 372.2 L973.3 370.9 L973.7 371.1 L974.1 369.8 L974.5 369.6 L974.9 370.3 L975.3 370.2 L975.7 369.0 L976.1 367.8 L976.5 367.3 L976.9 367.8 L977.3 367.2 L977.7 366.9 L978.1 366.0 L978.5 365.7 L978.9 366.5 L979.3 365.4 L979.7 365.8 L980.1 367.0 L980.5 366.3 L980.9 367.2 L981.3 367.7 L981.7 368.0 L982.1 369.7 L982.5 369.1 L982.9 369.1 L983.3 370.8 L983.7 371.4 L984.1 371.1 L984.5 371.5 L984.9 371.6 L985.3 372.2 L985.7 371.5 L986.1 371.6 L986.5 372.6 L986.9 371.9 L987.3 372.1 L987.7 372.0 L988.1 370.7 L988.5 370.4 L988.9 371.2 L989.3 371.2 L989.7 370.9 L990.1 371.1 L990.5 372.2 L990.9 372.1 L991.3 372.8 L991.7 372.8 L992.1 373.2 L992.5 373.3 L992.9 373.4 L993.3 373.3 L993.7 372.1 L994.1 372.9 L994.5 372.1 L994.9 373.0 L995.3 373.0 L995.7 372.7 L996.1 372.8 L996.5 372.1 L996.9 373.6 L997.3 373.6 L997.7 373.1 L998.1 373.8 L998.5 372.5 L998.9 371.7 L999.3 372.5 L999.7 371.7 L1000.1 371.9 L1000.5 372.7 L1000.9 373.3 L1001.3 372.0 L1001.7 373.5 L1002.1 371.9 L1002.5 371.6 L1002.9 373.1 L1003.3 372.4 L1003.7 371.3 L1004.1 372.3 L1004.5 372.1 L1004.9 371.6 L1005.3 372.8 L1005.7 372.6 L1006.1 372.0 L1006.5 372.4 L1006.9 371.3 L1007.3 370.8 L1007.7 371.4 L1008.1 371.5 L1008.5 370.4 L1008.9 370.8 L1009.3 371.8 L1009.7 371.6 L1010.1 370.6 L1010.5 370.5 L1010.9 371.8 L1011.3 370.8 L1011.7 370.6 L1012.1 370.3 L1012.5 370.5 L1012.9 371.4 L1013.3 371.3 L1013.7 371.3 L1014.1 372.0 L1014.5 370.8 L1014.9 371.3 L1015.3 371.0 L1015.7 372.0 L1016.1 371.7 L1016.5 371.0 L1016.9 372.2 L1017.3 372.1 L1017.7 372.8 L1018.1 372.0 L1018.5 371.3 L1018.9 371.7 L1019.3 373.2 L1019.7 373.8 L1020.1 372.7 L1020.5 373.5 L1020.9 373.4 L1021.3 374.0 L1021.7 372.8 L1022.1 372.0 L1022.5 372.4 L1022.9 373.4 L1023.3 373.1 L1023.7 372.8 L1024.1 372.7 L1024.5 372.1 L1024.9 372.1 L1025.3 372.0 L1025.7 373.2 L1026.1 371.9 L1026.5 373.3 L1026.9 372.8 L1027.3 373.3 L1027.7 372.5 L1028.1 373.4 L1028.5 372.4 L1028.9 371.4 L1029.3 372.0 L1029.7 372.8 L1030.1 373.3 L1030.5 373.2 L1030.9 372.0 L1031.3 372.5 L1031.7 371.9 L1032.1 372.8 L1032.5 373.4 L1032.9 373.6 L1033.3 373.2 L1033.7 373.1 L1034.1 371.7 L1034.5 372.1 L1034.9 372.7 L1035.3 372.9 L1035.7 372.6 L1036.1 372.8 L1036.5 371.6 L1036.9 372.7 L1037.3 371.1 L1037.7 370.5 L1038.0 372.2 L1038.1 371.1 L1038.5 371.4 L1038.9 372.5 L1039.3 373.0 L1039.7 372.5 L1040.1 371.7 L1040.5 371.6 L1040.9 370.9 L1041.3 372.5 L1041.7 372.5 L1042.1 371.5 L1042.5 371.2 L1042.9 371.7 L1043.3 373.1 L1043.7 372.9 L1044.1 372.1 L1044.5 373.1 L1044.9 372.6 L1045.3 373.2 L1045.7 372.3 L1046.1 374.0 L1046.5 373.4 L1046.9 373.1 L1047.3 373.0 L1047.7 373.6 L1048.1 374.0 L1048.5 373.6 L1048.9 373.1 L1049.3 374.5 L1049.7 375.0 L1050.1 374.5 L1050.5 373.3 L1050.9 373.4 L1051.3 372.9 L1051.7 373.8 L1052.1 375.0 L1052.5 374.0 L1052.9 374.0 L1053.3 375.2 L1053.7 373.9 L1054.1 375.1 L1054.5 375.5 L1054.9 374.4 L1055.3 375.3 L1055.7 373.8 L1056.1 373.5 L1056.5 374.4 L1056.9 373.5 L1057.3 373.3 L1057.7 374.3 L1058.1 374.9 L1058.5 375.2 L1058.9 374.8 L1059.3 373.7 L1059.7 373.8 L1060.1 373.1 L1060.5 373.7 L1060.9 375.1 L1061.3 374.3 L1061.7 374.2 L1062.1 374.7 L1062.5 375.0 L1062.9 374.5 L1063.3 374.5 L1063.7 373.2 L1064.1 373.5 L1064.5 374.7 L1064.9 375.0 L1065.3 373.4 L1065.7 374.4 L1066.1 374.7 L1066.5 374.0 L1066.9 373.4 L1067.3 374.6 L1067.7 374.6 L1068.1 372.8 L1068.5 373.2 L1068.9 372.8 L1069.3 373.2 L1069.7 373.8 L1070.1 372.6 L1070.5 372.4 L1070.9 373.7 L1071.3 372.8 L1071.7 373.2 L1072.1 373.3 L1072.5 372.7 L1072.9 373.5 L1073.3 373.0 L1073.7 372.5 L1074.1 373.5 L1074.5 373.3 L1074.9 374.4 L1075.3 375.1 L1075.7 375.5 L1076.1 374.4 L1076.5 374.9 L1076.9 373.6 L1077.3 374.4 L1077.7 373.6 L1078.1 374.5 L1078.5 373.8 L1078.9 373.9 L1079.3 374.3 L1079.7 374.1 L1080.1 374.1 L1080.5 374.8 L1080.9 372.9 L1081.3 372.5 L1081.7 372.7 L1082.1 373.1 L1082.5 373.7 L1082.9 372.6 L1083.3 371.9 L1083.7 372.6 L1084.1 372.4 L1084.5 372.1 L1084.9 372.5 L1085.3 371.7 L1085.7 373.0 L1086.1 372.8 L1086.5 372.5 L1086.9 373.1 L1087.3 372.5 L1087.7 371.7 L1088.1 371.7 L1088.5 371.2 L1088.9 371.3 L1089.3 372.3 L1089.7 371.3 L1090.1 371.1 L1090.5 370.3 L1090.9 369.5 L1091.3 369.8 L1091.7 369.3 L1092.1 369.1 L1092.5 368.7 L1092.9 369.5 L1093.3 369.3 L1093.7 368.5 L1094.1 367.7 L1094.5 367.6 L1094.9 367.6 L1095.3 366.7 L1095.7 367.5 L1096.0 368.4 L1096.1 367.1 L1096.5 367.1 L1096.9 367.3 L1097.3 367.4 L1097.7 367.2 L1098.1 367.8 L1098.5 368.2 L1098.9 369.2 L1099.3 368.5 L1099.7 368.4 L1100.1 368.6 L1100.5 369.9 L1100.9 368.8 L1101.3 368.9 L1101.7 369.0 L1102.1 369.7 L1102.5 370.8 L1102.9 371.2 L1103.3 370.1 L1103.7 371.2 L1104.1 370.6 L1104.5 370.9 L1104.9 371.2 L1105.3 371.9 L1105.7 371.5 L1106.1 372.8 L1106.5 373.0 L1106.9 373.0 L1107.3 372.6 L1107.7 373.4 L1108.1 373.7 L1108.5 373.2 L1108.9 372.7 L1109.3 372.3 L1109.7 372.4 L1110.1 372.8 L1110.5 373.6 L1110.9 373.8 L1111.3 374.3 L1111.7 374.6 L1112.1 373.3 L1112.5 374.0 L1112.9 373.2 L1113.3 372.9 L1113.7 373.0 L1114.1 372.8 L1114.5 372.7 L1114.9 372.9 L1115.3 374.1 L1115.7 372.6 L1116.1 373.7 L1116.5 373.9 L1116.9 374.4 L1117.3 373.7 L1117.7 373.6 L1118.1 374.0 L1118.5 373.7 L1118.9 373.4 L1119.3 374.2 L1119.7 373.3 L1120.1 374.0 L1120.5 373.6 L1120.9 372.7 L1121.3 373.5 L1121.7 372.9 L1122.1 373.8 L1122.5 374.8 L1122.9 374.9 L1123.3 375.0 L1123.7 375.3 L1124.1 373.4 L1124.5 374.8 L1124.9 375.1 L1125.3 373.5 L1125.7 372.9 L1126.1 374.4 L1126.5 374.1 L1126.9 373.4 L1127.3 373.8 L1127.7 374.5 L1128.1 375.0 L1128.5 373.9 L1128.9 374.6 L1129.3 374.3 L1129.7 373.6 L1130.1 374.6 L1130.5 374.6 L1130.9 374.3 L1131.3 373.5 L1131.7 374.3 L1132.1 373.1 L1132.5 372.5 L1132.9 373.0 L1133.3 373.7 L1133.7 374.1 L1134.1 374.9 L1134.5 374.4 L1134.9 373.7 L1135.3 372.7 L1135.7 372.9 L1136.1 373.0 L1136.5 374.3 L1136.9 373.7 L1137.3 374.5 L1137.7 374.2 L1138.1 372.6 L1138.5 372.3 L1138.9 372.7 L1139.3 373.2 L1139.7 373.9 L1140.1 374.5 L1140.5 373.1 L1140.9 374.2 L1141.3 374.7 L1141.7 374.6 L1142.1 374.0 L1142.5 373.1 L1142.9 373.1 L1143.3 372.6 L1143.7 372.8 L1144.1 372.6 L1144.5 372.2 L1144.9 373.1 L1145.3 373.9 L1145.7 372.7 L1146.1 373.6 L1146.5 373.3 L1146.9 373.1 L1147.3 373.9 L1147.7 373.7 L1148.1 374.6 L1148.5 374.4 L1148.9 373.6 L1149.3 374.1 L1149.7 372.8 L1150.1 372.4 L1150.5 374.0 L1150.9 373.2 L1151.3 373.0 L1151.7 372.6 L1152.1 374.3 L1152.5 375.1 L1152.9 373.7 L1153.3 374.5 L1153.7 374.9 L1154.1 373.8 L1154.5 373.8 L1154.9 373.5 L1155.3 374.7 L1155.7 374.9 L1156.1 374.1 L1156.5 374.8 L1156.9 374.8 L1157.3 374.9 L1157.7 375.2 L1158.1 375.3 L1158.5 374.0 L1158.9 375.7 L1159.3 376.2 L1159.7 376.1 L1160.1 374.5 L1160.5 375.7 L1160.9 374.7 L1161.3 374.7 L1161.7 375.2 L1162.1 374.7 L1162.5 375.0 L1162.9 375.6 L1163.3 375.2 L1163.7 375.7 L1164.1 375.8 L1164.5 376.4 L1164.9 375.2 L1165.3 375.8 L1165.7 375.0 L1166.1 375.9 L1166.5 374.9 L1166.9 375.5 L1167.3 374.5 L1167.7 375.7 L1168.1 374.9 L1168.5 375.4 L1168.9 374.2 L1169.3 374.7 L1169.7 375.1 L1170.1 375.8 L1170.5 376.4 L1170.9 376.6 L1171.3 375.3 L1171.7 375.9 L1172.1 375.3 L1172.5 375.9 L1172.9 375.3 L1173.3 374.6 L1173.7 374.3 L1174.1 374.6 L1174.5 375.7 L1174.9 375.7 L1175.3 376.3 L1175.7 376.1 L1176.1 376.2 L1176.5 376.2 L1176.9 375.0 L1177.3 376.4 L1177.7 375.5 L1178.1 374.6 L1178.5 374.7 L1178.9 375.0 L1179.3 375.3 L1179.7 375.2 L1180.1 376.2 L1180.5 375.4 L1180.9 375.1 L1181.3 375.2 L1181.7 376.4 L1182.1 376.8 L1182.5 375.1 L1182.9 376.3 L1183.3 375.6 L1183.7 375.3 L1184.1 376.2 L1184.5 376.4 L1184.9 376.3 L1185.3 375.0 L1185.7 374.9 L1186.1 375.1 L1186.5 375.6 L1186.9 374.1 L1187.3 374.0 L1187.7 374.8 L1188.1 375.0 L1188.5 375.0 L1188.9 373.9 L1189.3 374.0 L1189.7 373.8 L1190.1 374.8 L1190.5 375.4 L1190.9 375.1 L1191.3 374.2 L1191.7 375.0 L1192.1 374.7 L1192.5 374.2 L1192.9 374.3 L1193.3 374.4 L1193.7 374.8 L1194.1 374.9 L1194.5 373.7 L1194.9 374.0 L1195.3 375.1 L1195.7 374.6 L1196.1 374.4 L1196.5 373.9 L1196.9 374.6 L1197.3 374.9 L1197.7 375.4 L1198.1 373.9 L1198.5 374.2 L1198.9 373.8 L1199.3 373.1 L1199.7 374.2 L1200.1 375.1 L1200.5 373.2 L1200.9 372.7 L1201.3 372.3 L1201.7 373.5 L1202.1 373.9 L1202.5 374.3 L1202.9 373.0 L1203.3 373.6 L1203.7 372.7 L1204.1 373.6 L1204.5 374.5 L1204.9 372.6 L1205.3 373.3 L1205.7 374.0 L1206.1 373.8 L1206.5 373.8 L1206.9 374.1 L1207.3 374.5 L1207.7 373.2 L1208.1 374.2 L1208.5 372.4 L1208.9 373.0 L1209.3 373.4 L1209.7 374.2 L1210.1 374.4 L1210.5 372.9 L1210.9 373.4 L1211.3 373.7 L1211.7 373.6 L1212.1 372.4 L1212.5 374.1 L1212.9 373.4 L1213.3 374.2 L1213.7 374.6 L1214.1 373.3 L1214.5 372.7 L1214.9 374.2 L1215.3 374.6 L1215.7 373.9 L1216.1 374.8 L1216.5 373.3 L1216.9 374.0 L1217.3 375.0 L1217.7 375.2 L1218.1 375.5 L1218.5 375.5 L1218.9 374.1 L1219.3 374.2 L1219.7 373.6 L1220.1 372.9 L1220.5 373.8 L1220.9 374.5 L1221.3 374.0 L1221.7 372.6 L1222.1 373.6 L1222.5 374.0 L1222.9 372.5 L1223.3 372.6 L1223.7 371.9 L1224.1 371.2 L1224.5 371.0 L1224.9 372.5 L1225.3 371.1 L1225.7 372.6 L1226.1 371.6 L1226.5 371.6 L1226.9 370.8 L1227.3 371.2 L1227.7 372.3 L1228.0 370.9 L1228.1 371.8 L1228.5 371.1 L1228.9 370.9 L1229.3 371.3 L1229.7 371.7 L1230.1 370.7 L1230.5 370.3 L1230.9 370.7 L1231.3 372.4 L1231.7 372.4 L1232.1 371.6 L1232.5 372.2 L1232.9 371.7 L1233.3 372.8 L1233.7 371.7 L1234.1 371.9 L1234.5 372.2 L1234.9 373.4 L1235.3 372.3 L1235.7 371.9 L1236.1 371.7 L1236.5 371.7 L1236.9 373.1 L1237.3 372.0 L1237.7 371.9 L1238.1 373.2 L1238.5 373.5 L1238.9 371.5 L1239.3 371.8 L1239.7 372.2 L1240.1 372.8 L1240.5 371.5 L1240.9 371.6 L1241.3 372.9 L1241.7 373.4 L1242.1 371.5 L1242.5 373.0 L1242.9 371.9 L1243.3 371.9 L1243.7 371.2 L1244.1 371.7 L1244.5 371.1 L1244.9 370.8 L1245.3 370.7 L1245.7 370.0 L1246.1 370.0 L1246.5 369.5 L1246.9 369.4 L1247.3 370.4 L1247.7 368.6 L1248.1 368.3 L1248.5 367.7 L1248.9 368.5 L1249.3 367.9 L1249.7 368.2 L1250.0 368.5 L1250.1 368.8 L1250.5 369.5 L1250.9 369.0 L1251.3 370.0 L1251.7 368.4 L1252.1 368.4 L1252.5 369.4 L1252.9 369.3 L1253.3 369.8 L1253.7 371.1 L1254.1 372.1 L1254.5 371.7 L1254.9 371.3 L1255.3 372.9 L1255.7 372.6 L1256.1 371.9 L1256.5 371.8 L1256.9 371.4 L1257.3 371.4 L1257.7 371.9 L1258.1 372.9 L1258.5 373.1 L1258.9 371.5 L1259.3 371.0 L1259.7 372.6 L1260.1 371.7 L1260.5 372.4 L1260.9 370.7 L1261.3 371.0 L1261.7 370.2 L1262.1 368.9 L1262.5 368.3 L1262.9 367.6 L1263.3 367.1 L1263.7 368.9 L1264.1 368.3 L1264.5 369.4 L1264.9 369.6 L1265.3 369.9 L1265.7 368.2 L1266.1 368.7 L1266.5 368.2 L1266.9 368.8 L1267.3 369.9 L1267.7 371.1 L1268.1 371.8 L1268.5 371.0 L1268.9 371.7 L1269.3 372.0 L1269.7 372.1 L1270.1 373.4 L1270.5 374.0 L1270.9 373.2 L1271.3 372.4 L1271.7 373.4 L1272.1 373.6 L1272.5 372.8 L1272.9 373.2 L1273.3 373.4 L1273.7 372.7 L1274.1 374.3 L1274.5 374.3 L1274.9 373.5 L1275.3 373.5 L1275.7 372.9 L1276.1 373.6 L1276.5 374.2 L1276.9 373.7 L1277.3 374.6 L1277.7 373.3 L1278.1 373.0 L1278.5 374.4 L1278.9 373.9 L1279.3 372.8 L1279.7 372.9 L1280.1 372.8 L1280.5 372.5 L1280.9 373.6 L1281.3 373.5 L1281.7 374.3 L1282.1 373.9 L1282.5 373.8 L1282.9 372.8 L1283.3 372.3 L1283.7 372.4 L1284.1 373.8 L1284.5 373.0 L1284.9 373.8 L1285.3 373.2 L1285.7 372.6 L1286.1 372.7 L1286.5 371.7 L1286.9 371.1 L1287.3 372.3 L1287.7 373.0 L1288.0 371.5 L1288.1 371.6 L1288.5 372.6 L1288.9 371.5 L1289.3 372.2 L1289.7 373.2 L1290.1 372.9 L1290.5 371.9 L1290.9 371.7 L1291.3 371.5 L1291.7 371.4 L1292.1 372.5 L1292.5 373.8 L1292.9 373.2 L1293.3 373.5 L1293.7 372.2 L1294.1 373.1 L1294.5 372.5 L1294.9 373.6 L1295.3 372.7 L1295.7 373.8 L1296.1 373.7 L1296.5 373.2 L1296.9 373.1 L1297.3 373.0 L1297.7 374.2 L1298.1 374.3 L1298.5 373.7 L1298.9 374.3 L1299.3 372.5 L1299.7 373.7 L1300.1 374.2 L1300.5 372.9 L1300.9 374.1 L1301.3 373.0 L1301.7 373.9 L1302.1 372.8 L1302.5 373.1 L1302.9 374.1 L1303.3 373.5 L1303.7 372.7 L1304.1 372.9 L1304.5 373.6 L1304.9 373.3 L1305.3 373.3 L1305.7 374.7 L1306.1 374.7 L1306.5 375.2 L1306.9 373.8 L1307.3 374.8 L1307.7 374.8 L1308.1 374.7 L1308.5 374.8 L1308.9 374.0 L1309.3 373.3 L1309.7 374.4 L1310.1 372.7 L1310.5 373.8 L1310.9 372.3 L1311.3 373.2 L1311.7 372.8 L1312.1 372.5 L1312.5 372.7 L1312.9 373.1 L1313.3 372.4 L1313.7 372.3 L1314.1 371.4 L1314.5 371.9 L1314.9 371.5 L1315.3 371.7 L1315.7 370.8 L1316.0 372.2 L1316.1 371.4 L1316.5 370.9 L1316.9 372.1 L1317.3 372.1 L1317.7 373.1 L1318.1 372.5 L1318.5 372.6 L1318.9 371.9 L1319.3 371.7 L1319.7 372.5 L1320.1 372.8 L1320.5 374.4 L1320.9 373.8 L1321.3 374.3 L1321.7 375.1 L1322.1 374.5 L1322.5 374.2 L1322.9 373.6 L1323.3 373.9 L1323.7 374.9 L1324.1 375.7 L1324.5 375.9 L1324.9 376.5 L1325.3 375.1 L1325.7 375.9 L1326.1 375.0 L1326.5 376.3 L1326.9 375.4 L1327.3 375.8 L1327.7 376.1 L1328.1 376.9 L1328.5 376.6 L1328.9 376.9 L1329.3 376.8 L1329.7 375.8 L1330.1 377.2 L1330.5 377.3 L1330.9 376.8 L1331.3 377.1 L1331.7 376.1 L1332.1 376.4 L1332.5 376.2 L1332.9 376.9 L1333.3 376.2 L1333.7 377.3 L1334.1 377.0 L1334.5 377.5 L1334.9 377.0 L1335.3 377.2 L1335.7 377.9 L1336.1 377.7 L1336.5 376.2 L1336.9 376.2 L1337.3 377.4 L1337.7 376.2 L1338.1 377.4 L1338.5 376.6 L1338.9 376.0 L1339.3 376.2 L1339.7 375.8 L1340.1 377.2 L1340.5 375.9 L1340.9 377.4 L1341.3 377.8 L1341.7 377.3 L1342.1 377.3 L1342.5 375.9 L1342.9 376.4 L1343.3 376.8 L1343.7 375.8 L1344.1 376.9 L1344.5 376.0 L1344.9 377.4 L1345.3 375.8 L1345.7 376.9 L1346.1 376.9 L1346.5 376.3 L1346.9 376.2 L1347.3 376.9 L1347.7 376.2 L1348.1 375.9 L1348.5 376.2 L1348.9 376.1 L1349.3 377.0 L1349.7 375.9 L1350.1 376.2 L1350.5 376.8 L1350.9 375.4 L1351.3 375.5 L1351.7 375.9 L1352.1 375.3 L1352.5 376.1 L1352.9 377.3 L1353.3 376.1 L1353.7 375.2 L1354.1 377.0 L1354.5 377.3 L1354.9 377.5 L1355.3 376.7 L1355.7 375.5 L1356.1 375.0 L1356.5 375.5 L1356.9 376.2 L1357.3 375.4 L1357.7 375.8 L1358.1 376.8 L1358.5 376.4 L1358.9 376.7 L1359.3 377.2 L1359.7 375.9 L1360.1 375.4 L1360.5 377.0 L1360.9 376.3 L1361.3 375.3 L1361.7 375.7 L1362.1 376.2 L1362.5 375.9 L1362.9 375.3 L1363.3 375.4 L1363.7 376.6 L1364.1 376.6 L1364.5 376.6 L1364.9 377.0 L1365.3 376.2 L1365.7 375.2 L1366.1 375.5 L1366.5 376.8 L1366.9 377.0 L1367.3 376.8 L1367.7 377.4 L1368.1 375.8 L1368.5 375.2 L1368.9 375.5 L1369.3 375.5 L1369.7 376.8 L1370.1 376.9 L1370.5 376.6 L1370.9 376.5 L1371.3 377.1 L1371.7 376.6 L1372.1 376.2 L1372.5 376.4 L1372.9 376.4 L1373.3 376.3 L1373.7 376.9 L1374.1 376.1 L1374.5 376.3 L1374.9 376.5 L1375.3 377.1 L1375.7 375.5 L1376.1 376.5 L1376.5 376.8 L1376.9 376.7 L1377.3 377.3 L1377.7 376.5 L1378.1 376.5 L1378.5 376.4 L1378.9 376.4 L1379.3 377.3 L1379.7 376.9 L1380.1 376.9 L1380.5 377.2 L1380.9 375.4 L1381.3 376.4 L1381.7 375.2 L1382.1 376.6 L1382.5 376.8 L1382.9 375.9 L1383.3 375.7 L1383.7 376.4 L1384.1 377.0 L1384.5 375.3 L1384.9 376.2 L1385.3 375.2 L1385.7 375.8 L1386.1 375.5 L1386.5 375.0 L1386.9 375.6 L1387.3 375.7 L1387.7 375.8 L1388.1 377.0 L1388.5 376.6 L1388.9 375.7 L1389.3 375.9 L1389.7 376.2 L1390.1 377.1 L1390.5 376.0 L1390.9 376.3 L1391.3 376.1 L1391.7 376.7 L1392.1 375.6 L1392.5 374.9 L1392.9 375.4 L1393.3 376.4 L1393.7 376.3 L1394.1 375.3 L1394.5 376.0 L1394.9 376.9 L1395.3 376.0 L1395.7 375.3 L1396.1 375.1 L1396.5 375.6 L1396.9 376.2 L1397.3 375.9 L1397.7 376.5 L1398.1 376.1 L1398.5 377.0 L1398.9 377.6 L1399.3 377.8 L1399.7 376.7 L1400.1 376.1 L1400.5 375.9 L1400.9 376.5 L1401.3 375.8 L1401.7 375.4 L1402.1 375.0 L1402.5 376.1 L1402.9 375.7 L1403.3 375.6 L1403.7 374.9 L1404.1 374.5 L1404.5 376.3 L1404.9 375.8 L1405.3 376.4 L1405.7 375.4 L1406.1 376.4 L1406.5 375.3 L1406.9 374.6 L1407.3 375.5 L1407.7 376.3 L1408.1 376.9 L1408.5 377.1 L1408.9 375.2 L1409.3 376.0 L1409.7 376.5 L1410.1 376.4 L1410.5 375.9 L1410.9 375.8 L1411.3 375.8 L1411.7 375.4 L1412.1 376.8 L1412.5 377.2 L1412.9 376.4 L1413.3 376.7 L1413.7 376.4 L1414.1 375.7 L1414.5 377.3 L1414.9 376.3 L1415.3 376.0 L1415.7 377.4 L1416.1 377.8 L1416.5 376.8 L1416.9 377.8 L1417.3 377.0 L1417.7 376.6 L1418.1 376.0 L1418.5 376.0 L1418.9 376.9 L1419.3 377.5 L1419.7 376.3 L1420.1 377.1 L1420.5 377.5 L1420.9 377.6 L1421.3 377.9 L1421.7 378.2 L1422.1 377.1 L1422.5 377.9 L1422.9 377.1 L1423.3 377.5 L1423.7 376.8 L1424.1 377.3 L1424.5 376.7 L1424.9 378.0 L1425.3 376.8 L1425.7 377.1 L1426.1 377.9 L1426.5 377.2 L1426.9 376.5 L1427.3 376.8 L1427.7 377.1 L1428.1 376.3 L1428.5 376.1 L1428.9 376.5 L1429.3 377.3 L1429.7 376.6 L1430.1 376.2 L1430.5 377.7 L1430.9 377.3 L1431.3 377.4 L1431.7 377.6 L1432.1 378.0 L1432.5 377.7 L1432.9 378.6 L1433.3 379.0 L1433.7 378.2 L1434.1 378.3 L1434.5 378.1 L1434.9 378.8 L1435.3 376.9 L1435.7 377.8 L1436.1 377.9 L1436.5 377.6 L1436.9 377.8 L1437.3 376.5 L1437.7 376.9 L1438.1 376.7 L1438.5 376.5 L1438.9 377.1 L1439.3 377.1 L1439.7 377.4 L1440.1 376.8 L1440.5 377.3 L1440.9 377.7 L1441.3 376.6 L1441.7 376.7 L1442.1 375.9 L1442.5 375.7 L1442.9 376.5 L1443.3 376.0 L1443.7 376.8 L1444.1 375.8 L1444.5 375.3 L1444.9 375.3 L1445.3 375.2 L1445.7 374.5 L1446.1 375.2 L1446.5 375.9 L1446.9 376.1 L1447.3 376.6 L1447.7 375.6 L1448.1 376.1 L1448.5 376.4 L1448.9 375.9 L1449.3 375.3 L1449.7 375.8 L1450.1 374.7 L1450.5 375.6 L1450.9 375.3 L1451.3 374.4 L1451.7 374.3 L1452.1 375.3 L1452.5 375.2 L1452.9 374.7 L1453.3 375.5 L1453.7 376.5 L1454.1 375.4 L1454.5 374.9 L1454.9 374.9 L1455.3 374.9 L1455.7 374.7 L1456.1 375.8 L1456.5 376.1 L1456.9 376.5 L1457.3 376.5 L1457.7 376.1 L1458.1 375.7 L1458.5 377.3 L1458.9 376.5 L1459.3 376.0 L1459.7 376.8 L1460.1 377.2 L1460.5 376.9 L1460.9 378.4 L1461.3 379.0 L1461.7 377.7 L1462.1 378.5 L1462.5 377.9 L1462.9 378.1 L1463.3 377.2 L1463.7 377.4 L1464.1 377.5 L1464.5 378.2 L1464.9 377.8 L1465.3 377.1 L1465.7 377.6 L1466.1 376.3 L1466.5 377.7 L1466.9 377.4 L1467.3 377.9 L1467.7 376.7 L1468.1 377.0 L1468.5 376.3 L1468.9 376.9 L1469.3 377.6 L1469.7 376.5 L1470.1 377.0 L1470.5 377.6 L1470.9 375.6 L1471.3 375.0 L1471.7 376.7 L1472.1 376.5 L1472.5 377.1 L1472.9 376.1 L1473.3 376.7 L1473.7 376.0 L1474.1 375.5 L1474.5 376.1 L1474.9 375.6 L1475.3 375.1 L1475.7 375.5 L1476.1 375.6 L1476.5 374.4 L1476.9 375.6 L1477.3 375.0 L1477.7 376.1 L1478.1 376.6 L1478.5 375.1 L1478.9 374.8 L1479.3 375.4 L1479.7 376.3 L1480.1 375.5 L1480.5 375.6 L1480.9 375.1 L1481.3 376.6 L1481.7 375.6 L1482.1 377.0 L1482.5 377.8 L1482.9 376.5 L1483.3 376.7 L1483.7 377.5 L1484.1 376.0 L1484.5 376.0 L1484.9 377.3 L1485.3 377.2 L1485.7 376.7 L1486.1 377.3 L1486.5 377.9 L1486.9 377.7 L1487.3 376.0 L1487.7 375.5 L1488.1 377.0 L1488.5 376.4 L1488.9 375.9 L1489.3 376.3 L1489.7 376.8 L1490.1 377.7 L1490.5 376.8 L1490.9 376.8 L1491.3 377.0 L1491.7 377.7 L1492.1 376.1 L1492.5 376.1 L1492.9 375.9 L1493.3 377.2 L1493.7 377.5 L1494.1 376.1 L1494.5 376.0 L1494.9 376.6 L1495.3 376.7 L1495.7 377.0 L1496.1 377.1 L1496.5 377.2 L1496.9 377.5 L1497.3 376.5 L1497.7 376.9 L1498.1 376.9 L1498.5 376.5 L1498.9 376.0 L1499.3 377.2 L1499.7 376.6 L1500.1 376.2 L1500.5 375.5 L1500.9 375.5 L1501.3 376.1 L1501.7 376.4 L1502.1 376.8 L1502.5 375.4 L1502.9 375.7 L1503.3 375.6 L1503.7 376.4 L1504.1 375.4 L1504.5 377.0 L1504.9 377.3 L1505.3 377.3 L1505.7 375.9 L1506.1 376.5 L1506.5 376.8 L1506.9 376.1 L1507.3 376.4 L1507.7 377.3 L1508.1 377.0 L1508.5 377.1 L1508.9 375.7 L1509.3 377.0 L1509.7 377.2 L1510.1 375.9 L1510.5 375.5 L1510.9 376.9 L1511.3 377.0 L1511.7 376.5 L1512.1 377.7 L1512.5 377.3 L1512.9 377.5 L1513.3 378.0 L1513.7 376.1 L1514.1 375.6 L1514.5 376.5 L1514.9 376.9 L1515.3 377.3 L1515.7 376.3 L1516.1 376.8 L1516.5 376.1 L1516.9 376.5 L1517.3 376.7 L1517.7 376.3 L1518.1 377.3 L1518.5 375.8 L1518.9 376.7 L1519.3 376.4 L1519.7 376.3 L1520.1 375.4 L1520.5 375.5 L1520.9 376.8 L1521.3 375.3 L1521.7 376.3 L1522.1 376.4 L1522.5 376.5 L1522.9 376.7 L1523.3 375.0 L1523.7 375.0 L1524.1 374.0 L1524.5 374.6 L1524.9 375.2 L1525.3 374.7 L1525.7 375.2 L1526.1 375.4 L1526.5 374.5 L1526.9 374.3 L1527.0 375.4 L1527.3 374.5 L1527.7 374.2 L1528.1 374.8 L1528.5 374.1 L1528.9 375.3 L1529.3 375.2 L1529.7 375.0 L1530.1 376.0 L1530.5 375.7 L1530.9 376.9 L1531.3 376.9 L1531.7 376.2 L1532.1 375.5 L1532.5 376.0 L1532.9 377.3 L1533.3 377.6 L1533.7 376.5 L1534.1 375.7 L1534.5 375.5 L1534.9 377.2 L1535.3 377.2 L1535.7 377.8 L1536.1 377.4 L1536.5 377.1 L1536.9 376.2 L1537.3 376.3 L1537.7 376.0 L1538.1 375.5 L1538.5 376.7 L1538.9 375.6 L1539.3 375.8 L1539.7 376.5 L1540.1 376.0 L1540.5 377.3 L1540.9 376.8 L1541.3 375.8 L1541.7 376.1 L1542.1 375.6 L1542.5 376.5 L1542.9 376.8 L1543.3 377.4 L1543.7 377.8 L1544.1 378.1 L1544.5 378.1 L1544.9 377.4 L1545.3 377.5 L1545.7 377.4 L1546.1 377.5 L1546.5 376.7 L1546.9 377.4 L1547.3 376.0 L1547.7 376.7" fill="none" stroke="#0000ff" stroke-width="7.0" stroke-linejoin="round" stroke-linecap="butt" shape-rendering="crispEdges"/>
<path d="M192.5 698.3 L192.9 698.7 L193.3 698.1 L193.7 698.8 L194.1 698.2 L194.5 697.4 L194.9 697.4 L195.3 696.8 L195.7 697.6 L196.1 696.7 L196.5 697.2 L196.9 696.8 L197.3 697.4 L197.7 696.5 L198.1 697.0 L198.5 697.1 L198.9 696.4 L199.3 695.9 L199.7 696.1 L200.1 696.5 L200.5 695.9 L200.9 695.3 L201.3 695.8 L201.7 696.4 L202.1 695.5 L202.5 696.5 L202.9 696.0 L203.3 695.3 L203.7 695.0 L204.1 695.4 L204.5 695.7 L204.9 695.3 L205.3 695.1 L205.7 695.7 L206.1 695.6 L206.5 695.9 L206.9 696.0 L207.3 696.5 L207.7 696.4 L208.1 695.9 L208.5 695.6 L208.9 696.6 L209.3 695.6 L209.7 695.4 L210.1 695.1 L210.5 696.2 L210.9 695.9 L211.3 696.3 L211.7 695.8 L212.1 695.0 L212.5 694.8 L212.9 695.0 L213.3 694.2 L213.7 694.6 L214.1 694.0 L214.5 693.1 L214.9 693.2 L215.3 693.4 L215.7 692.7 L216.1 693.6 L216.5 693.8 L216.9 693.2 L217.3 693.5 L217.7 693.1 L218.1 692.7 L218.5 691.9 L218.9 692.8 L219.3 692.9 L219.7 692.1 L220.1 691.7 L220.5 691.0 L220.9 691.5 L221.3 692.0 L221.7 691.3 L222.1 690.8 L222.5 691.1 L222.9 691.4 L223.3 690.4 L223.7 690.1 L224.1 690.3 L224.5 689.2 L224.9 690.0 L225.3 689.2 L225.7 689.6 L226.1 688.9 L226.5 688.1 L226.9 687.4 L227.3 687.2 L227.7 687.2 L228.1 687.8 L228.5 687.9 L228.9 687.4 L229.3 686.2 L229.7 686.0 L230.1 685.6 L230.5 684.0 L230.9 682.8 L231.3 682.6 L231.7 681.3 L232.1 679.6 L232.5 678.4 L232.9 676.5 L233.3 676.2 L233.7 674.0 L234.1 671.7 L234.5 667.6 L234.9 662.4 L235.3 661.0 L235.7 658.7 L236.1 655.8 L236.5 653.8 L236.9 650.9 L237.3 643.0 L237.7 636.0 L238.1 629.2 L238.5 623.2 L238.9 616.5 L239.3 606.9 L239.7 589.9 L240.1 572.5 L240.5 555.5 L240.9 535.9 L241.3 515.4 L241.4 509.9 L241.7 526.0 L242.1 546.2 L242.5 594.9 L242.9 633.2 L243.3 653.5 L243.7 663.5 L244.1 665.7 L244.5 668.0 L244.9 670.4 L245.3 673.3 L245.7 675.9 L246.1 679.4 L246.5 681.1 L246.9 681.5 L247.3 680.8 L247.7 680.3 L248.1 680.4 L248.5 678.1 L248.9 676.9 L249.3 673.5 L249.7 670.5 L250.1 666.4 L250.5 662.6 L250.9 659.9 L251.3 656.3 L251.7 651.4 L252.1 647.0 L252.5 643.6 L252.9 640.1 L253.3 635.6 L253.7 631.9 L254.1 628.4 L254.5 623.1 L254.9 619.7 L255.3 615.7 L255.7 611.7 L256.1 607.0 L256.5 598.5 L256.9 590.0 L257.1 585.1 L257.3 590.9 L257.7 599.4 L258.1 604.4 L258.5 608.9 L258.9 613.5 L259.3 617.9 L259.7 624.2 L260.1 629.6 L260.5 635.6 L260.9 638.4 L261.3 640.6 L261.7 642.9 L262.1 645.0 L262.5 646.1 L262.9 647.1 L263.3 663.1 L263.7 671.7 L264.1 676.9 L264.5 677.8 L264.9 680.0 L265.3 680.6 L265.7 680.4 L266.1 681.0 L266.5 682.1 L266.9 681.3 L267.3 681.1 L267.7 681.7 L268.1 682.6 L268.5 682.1 L268.9 681.9 L269.3 682.7 L269.7 681.9 L270.1 682.1 L270.5 682.7 L270.9 683.3 L271.3 683.6 L271.7 682.8 L272.1 682.4 L272.5 682.3 L272.9 681.6 L273.3 681.3 L273.7 681.7 L274.1 681.8 L274.5 680.4 L274.9 680.3 L275.3 681.8 L275.7 682.9 L276.1 683.4 L276.5 683.2 L276.9 684.0 L277.3 684.5 L277.7 684.7 L278.1 684.5 L278.5 685.3 L278.9 685.3 L279.3 684.4 L279.7 684.5 L280.1 684.0 L280.5 684.4 L280.9 685.2 L281.3 685.0 L281.7 685.0 L282.1 685.5 L282.5 684.6 L282.9 684.9 L283.3 685.2 L283.7 685.4 L284.1 685.9 L284.5 686.5 L284.9 686.5 L285.3 686.1 L285.7 685.8 L286.1 685.3 L286.5 685.6 L286.9 684.6 L287.3 683.9 L287.7 683.0 L288.1 682.4 L288.5 682.8 L288.9 682.2 L289.2 682.8 L289.3 682.9 L289.7 683.7 L290.1 683.9 L290.5 684.9 L290.9 685.7 L291.3 686.0 L291.7 687.6 L292.1 688.9 L292.5 689.3 L292.9 689.5 L293.3 688.5 L293.7 689.0 L294.1 688.0 L294.5 687.5 L294.9 687.5 L295.3 686.2 L295.7 685.1 L296.1 684.2 L296.5 684.0 L296.9 684.4 L297.3 684.8 L297.7 685.7 L298.1 686.2 L298.5 686.9 L298.9 687.7 L299.3 689.5 L299.7 690.8 L300.1 691.3 L300.5 691.5 L300.9 690.9 L301.3 691.9 L301.7 691.2 L302.1 691.0 L302.5 691.6 L302.9 692.5 L303.3 691.9 L303.7 692.6 L304.1 692.1 L304.5 692.9 L304.9 692.9 L305.3 693.1 L305.7 693.3 L306.1 693.2 L306.5 692.1 L306.9 692.4 L307.3 692.5 L307.7 692.9 L308.1 692.3 L308.5 692.8 L308.9 692.5 L309.3 692.4 L309.7 692.9 L310.1 693.7 L310.5 693.4 L310.9 692.8 L311.3 691.9 L311.7 691.1 L312.1 690.0 L312.5 687.8 L312.9 686.4 L313.3 684.9 L313.7 686.5 L314.1 688.7 L314.5 691.2 L314.9 692.6 L315.3 694.3 L315.7 694.7 L316.1 694.2 L316.5 694.6 L316.9 694.9 L317.3 695.4 L317.7 695.2 L318.1 694.4 L318.5 694.8 L318.9 695.3 L319.3 695.7 L319.7 695.4 L320.1 695.0 L320.5 694.4 L320.9 694.8 L321.3 695.2 L321.7 694.1 L322.1 694.3 L322.5 694.5 L322.9 694.5 L323.1 693.9 L323.3 693.7 L323.7 693.7 L324.1 694.3 L324.5 695.8 L324.9 695.8 L325.3 697.0 L325.7 697.3 L326.1 697.2 L326.5 696.9 L326.9 697.1 L327.3 697.7 L327.7 697.1 L328.1 696.7 L328.5 697.8 L328.9 697.8 L329.3 697.4 L329.7 697.3 L330.1 696.7 L330.5 697.1 L330.9 697.5 L331.3 697.1 L331.7 697.2 L332.1 697.2 L332.5 696.4 L332.9 696.6 L333.3 697.1 L333.7 696.7 L334.1 695.0 L334.5 694.5 L334.9 692.7 L335.3 690.2 L335.7 686.7 L336.1 683.1 L336.5 679.5 L336.9 674.4 L337.3 678.2 L337.7 681.3 L338.1 686.4 L338.5 688.7 L338.9 691.7 L339.3 693.8 L339.7 694.5 L340.1 694.7 L340.5 695.1 L340.9 694.8 L341.3 695.1 L341.7 695.5 L342.1 694.9 L342.5 694.9 L342.9 695.2 L343.3 695.0 L343.7 695.5 L344.1 695.8 L344.5 696.0 L344.9 694.8 L345.3 695.0 L345.7 694.5 L346.1 695.3 L346.5 695.0 L346.9 695.7 L347.3 695.3 L347.7 694.4 L348.1 692.0 L348.5 688.6 L348.9 684.1 L349.3 679.1 L349.7 672.4 L350.1 666.5 L350.2 666.0 L350.5 669.9 L350.9 675.7 L351.3 681.5 L351.7 687.5 L352.1 691.7 L352.5 694.6 L352.9 696.2 L353.3 697.0 L353.7 696.4 L354.1 696.1 L354.5 696.4 L354.9 697.1 L355.3 697.4 L355.7 696.9 L356.1 697.4 L356.5 697.4 L356.9 696.3 L357.3 696.9 L357.7 697.4 L358.1 696.3 L358.5 696.5 L358.9 697.0 L359.3 696.9 L359.7 697.0 L360.1 696.3 L360.5 695.8 L360.9 695.7 L361.3 694.2 L361.7 693.2 L362.1 690.1 L362.5 686.3 L362.9 683.0 L363.3 679.1 L363.7 675.3 L364.1 671.1 L364.5 665.6 L364.9 661.5 L365.3 657.6 L365.7 662.4 L366.1 666.3 L366.5 670.8 L366.9 675.2 L367.3 679.8 L367.7 684.2 L368.1 687.9 L368.5 691.4 L368.9 693.5 L369.3 695.1 L369.7 695.8 L370.1 696.6 L370.5 696.7 L370.9 697.9 L371.3 698.2 L371.7 697.7 L372.1 697.5 L372.5 697.0 L372.9 698.0 L373.3 698.0 L373.7 697.1 L374.1 697.5 L374.5 698.2 L374.9 697.3 L375.3 697.2 L375.7 697.1 L376.1 696.0 L376.5 694.5 L376.9 692.2 L377.3 688.2 L377.7 684.2 L378.1 679.3 L378.5 675.1 L378.8 671.5 L378.9 673.1 L379.3 677.4 L379.7 683.5 L380.1 689.0 L380.5 692.5 L380.9 695.0 L381.3 696.3 L381.7 698.4 L382.1 699.1 L382.5 697.9 L382.9 697.9 L383.3 698.2 L383.7 696.3 L384.1 695.7 L384.5 691.9 L384.9 687.1 L385.3 679.9 L385.7 674.7 L386.1 668.6 L386.5 673.3 L386.9 679.8 L387.3 685.9 L387.7 691.0 L388.1 695.2 L388.5 698.0 L388.9 699.1 L389.3 699.2 L389.7 700.1 L390.1 700.1 L390.5 699.7 L390.9 699.6 L391.3 700.9 L391.7 701.3 L392.1 700.2 L392.5 699.9 L392.9 700.9 L393.3 700.6 L393.7 701.5 L394.1 700.9 L394.5 700.0 L394.9 697.8 L395.3 696.9 L395.7 694.5 L396.1 693.0 L396.5 692.6 L396.9 691.8 L397.0 691.5 L397.3 692.2 L397.7 692.1 L398.1 692.7 L398.5 693.8 L398.9 696.3 L399.3 697.1 L399.7 699.7 L400.1 700.9 L400.5 700.8 L400.9 702.6 L401.3 703.4 L401.7 702.8 L402.1 702.8 L402.5 703.2 L402.9 703.2 L403.3 702.9 L403.7 703.5 L404.1 702.8 L404.5 702.9 L404.9 702.2 L405.3 702.4 L405.7 703.2 L406.1 702.1 L406.5 701.3 L406.9 701.0 L407.3 700.2 L407.7 698.9 L408.1 697.9 L408.5 697.2 L408.9 696.8 L409.3 696.7 L409.7 696.5 L410.0 696.0 L410.1 696.5 L410.5 695.7 L410.9 696.3 L411.3 697.2 L411.7 698.7 L412.1 698.8 L412.5 699.6 L412.9 700.4 L413.3 700.8 L413.7 700.5 L414.1 699.7 L414.5 699.9 L414.9 700.3 L415.3 700.8 L415.7 699.5 L416.1 699.7 L416.5 699.5 L416.9 698.1 L417.3 696.6 L417.7 695.3 L418.1 694.2 L418.5 692.2 L418.9 690.9 L419.3 688.6 L419.7 687.4 L420.1 685.8 L420.3 685.5 L420.5 687.2 L420.9 689.7 L421.3 693.8 L421.7 696.9 L422.1 699.9 L422.5 701.2 L422.9 702.1 L423.3 701.1 L423.7 701.7 L424.1 701.4 L424.5 701.9 L424.9 702.1 L425.3 702.2 L425.7 702.7 L426.1 702.2 L426.5 702.4 L426.9 702.1 L427.3 702.0 L427.7 702.7 L428.1 702.2 L428.5 703.1 L428.9 702.7 L429.3 702.2 L429.7 703.2 L430.1 702.3 L430.5 702.5 L430.9 703.1 L431.3 702.4 L431.7 703.3 L432.1 703.3 L432.5 704.0 L432.9 703.1 L433.3 703.6 L433.7 704.0 L434.1 703.3 L434.5 702.4 L434.9 702.6 L435.3 703.3 L435.7 702.2 L436.1 702.8 L436.5 702.8 L436.9 703.1 L437.3 702.5 L437.7 703.2 L438.1 702.0 L438.5 702.1 L438.9 701.9 L439.3 702.2 L439.7 701.8 L440.1 701.9 L440.5 702.0 L440.9 702.8 L441.3 701.6 L441.7 701.7 L442.1 701.5 L442.5 702.4 L442.9 702.8 L443.3 701.5 L443.7 701.8 L444.1 701.4 L444.5 698.2 L444.9 695.8 L445.3 693.1 L445.7 690.4 L446.1 686.4 L446.5 689.9 L446.9 691.9 L447.3 695.1 L447.7 698.5 L448.1 701.3 L448.5 701.9 L448.9 702.3 L449.3 702.4 L449.7 701.7 L450.1 702.3 L450.5 703.0 L450.9 701.9 L451.3 701.4 L451.7 702.1 L452.1 702.6 L452.5 702.1 L452.9 701.4 L453.3 702.0 L453.7 702.2 L454.1 701.6 L454.5 702.3 L454.9 702.1 L455.3 702.3 L455.7 701.5 L456.1 701.4 L456.5 701.8 L456.9 701.9 L457.3 702.2 L457.7 702.4 L458.1 702.0 L458.5 700.8 L458.9 701.1 L459.3 701.4 L459.7 701.7 L460.1 701.0 L460.5 700.4 L460.9 701.0 L461.3 700.6 L461.7 700.3 L462.1 699.3 L462.5 699.6 L462.9 697.8 L463.3 697.5 L463.7 696.8 L464.1 695.2 L464.5 691.4 L464.9 688.9 L465.3 685.7 L465.7 681.8 L466.1 678.5 L466.3 676.7 L466.5 677.3 L466.9 679.4 L467.3 682.9 L467.7 685.2 L468.1 687.5 L468.5 688.0 L468.9 688.4 L469.3 687.4 L469.7 687.5 L470.1 687.2 L470.5 686.7 L470.9 686.9 L471.3 687.4 L471.7 687.2 L472.1 687.9 L472.5 688.2 L472.9 687.8 L473.3 687.4 L473.7 684.1 L474.1 681.1 L474.5 677.5 L474.9 673.8 L475.2 669.3 L475.3 671.0 L475.7 675.9 L476.1 680.5 L476.5 685.8 L476.9 690.2 L477.3 693.2 L477.7 695.5 L478.1 696.4 L478.5 697.7 L478.9 698.1 L479.3 699.4 L479.7 700.3 L480.1 700.8 L480.5 700.8 L480.9 701.4 L481.3 701.4 L481.7 701.3 L482.1 700.6 L482.5 700.7 L482.9 701.9 L483.3 701.8 L483.7 701.1 L484.1 701.4 L484.5 700.9 L484.9 700.6 L485.3 700.9 L485.7 700.7 L486.1 700.2 L486.5 700.7 L486.9 701.4 L487.3 700.8 L487.7 700.5 L488.1 700.2 L488.5 699.8 L488.9 699.3 L489.3 698.4 L489.7 698.1 L490.1 698.2 L490.5 696.7 L490.9 696.5 L491.3 695.6 L491.7 695.2 L492.0 694.7 L492.1 694.4 L492.5 695.2 L492.9 695.2 L493.3 695.0 L493.7 695.5 L494.1 696.0 L494.5 696.6 L494.9 696.1 L495.3 695.6 L495.7 695.4 L496.1 696.3 L496.5 696.2 L496.9 696.3 L497.3 696.0 L497.7 694.2 L498.1 693.2 L498.5 691.8 L498.9 689.5 L499.3 687.2 L499.7 685.1 L499.8 684.6 L500.1 685.2 L500.5 686.5 L500.9 688.5 L501.3 689.9 L501.7 691.5 L502.1 692.5 L502.5 693.2 L502.9 694.5 L503.3 694.4 L503.7 695.1 L504.1 694.7 L504.5 695.3 L504.9 695.0 L505.3 695.3 L505.7 694.7 L506.1 694.3 L506.5 694.1 L506.9 693.1 L507.3 691.8 L507.7 691.5 L508.1 690.6 L508.5 689.5 L508.9 687.6 L509.3 687.8 L509.7 685.7 L510.1 683.0 L510.5 681.1 L510.9 678.7 L511.3 676.4 L511.7 668.9 L512.1 660.8 L512.5 647.8 L512.9 629.9 L513.3 608.7 L513.7 585.2 L514.1 560.8 L514.5 533.3 L514.9 506.2 L515.3 468.2 L515.5 446.1 L515.7 478.4 L516.1 510.7 L516.5 517.0 L516.9 517.8 L517.3 520.1 L517.7 522.0 L518.1 523.8 L518.5 526.3 L518.9 527.1 L519.3 529.1 L519.7 532.1 L520.1 557.7 L520.5 589.2 L520.9 614.9 L521.3 636.4 L521.7 646.9 L522.1 656.9 L522.5 667.0 L522.9 675.9 L523.3 671.6 L523.7 668.1 L524.1 663.6 L524.5 656.2 L524.9 647.2 L525.3 638.8 L525.7 623.6 L526.1 608.1 L526.5 617.6 L526.9 627.3 L527.3 638.0 L527.7 648.3 L528.1 655.4 L528.5 656.0 L528.9 656.3 L529.3 656.5 L529.7 649.7 L530.1 640.2 L530.5 630.6 L530.9 612.4 L531.3 588.3 L531.6 567.8 L531.7 570.4 L532.1 583.1 L532.5 595.0 L532.9 609.5 L533.3 624.1 L533.7 639.3 L534.1 652.3 L534.5 660.5 L534.9 669.3 L535.3 678.8 L535.7 679.5 L536.1 676.3 L536.5 671.5 L536.9 668.8 L537.3 664.9 L537.7 659.9 L538.1 656.6 L538.5 652.5 L538.9 648.4 L539.3 645.1 L539.7 642.0 L540.0 637.9 L540.1 640.2 L540.5 646.8 L540.9 651.8 L541.3 658.8 L541.7 663.2 L542.1 666.9 L542.5 670.0 L542.9 673.7 L543.3 677.2 L543.7 681.4 L544.1 684.9 L544.5 687.7 L544.9 688.9 L545.3 689.1 L545.7 690.1 L546.1 691.7 L546.5 694.4 L546.9 695.9 L547.3 697.1 L547.7 698.0 L548.1 698.5 L548.5 698.6 L548.9 699.3 L549.3 699.7 L549.7 700.1 L550.1 700.4 L550.5 699.9 L550.9 699.1 L551.3 699.7 L551.7 700.0 L552.1 700.6 L552.5 700.4 L552.9 700.6 L553.3 700.8 L553.7 699.9 L554.1 700.6 L554.5 700.3 L554.9 700.0 L555.3 700.0 L555.7 699.6 L556.1 698.6 L556.5 698.1 L556.9 696.5 L557.3 695.4 L557.7 694.5 L558.1 693.8 L558.5 691.7 L558.9 689.4 L559.3 686.9 L559.7 685.1 L560.1 683.4 L560.5 680.0 L560.7 679.1 L560.9 679.3 L561.3 680.5 L561.7 681.1 L562.1 680.5 L562.5 681.8 L562.9 681.5 L563.3 680.3 L563.7 679.5 L564.1 679.0 L564.5 679.9 L564.9 680.3 L565.3 681.4 L565.7 680.4 L566.1 680.3 L566.5 680.0 L566.9 679.1 L567.3 678.0 L567.7 680.9 L568.1 683.6 L568.5 686.6 L568.9 688.9 L569.3 690.8 L569.7 693.0 L570.1 694.8 L570.5 696.3 L570.9 695.7 L571.3 694.8 L571.7 694.0 L572.1 694.3 L572.5 695.2 L572.9 695.3 L573.3 694.8 L573.7 693.7 L574.1 693.3 L574.5 692.8 L574.9 692.6 L575.3 693.0 L575.7 691.6 L576.1 691.5 L576.5 690.6 L576.9 689.3 L577.3 689.0 L577.7 688.0 L578.1 688.9 L578.3 689.4 L578.5 688.7 L578.9 689.3 L579.3 688.7 L579.7 689.3 L580.1 690.4 L580.5 690.3 L580.9 690.3 L581.3 691.3 L581.7 691.4 L582.1 690.8 L582.5 690.7 L582.9 690.5 L583.3 690.2 L583.7 689.6 L584.1 689.3 L584.5 688.0 L584.9 685.9 L585.3 682.7 L585.7 680.6 L586.0 679.5 L586.1 679.4 L586.5 682.1 L586.9 683.4 L587.3 686.7 L587.7 688.7 L588.1 689.9 L588.5 690.9 L588.9 691.1 L589.3 691.2 L589.7 690.7 L590.1 690.3 L590.5 690.2 L590.9 691.1 L591.3 691.9 L591.7 691.3 L592.1 692.3 L592.5 691.6 L592.9 692.3 L593.3 692.3 L593.7 692.2 L594.1 691.3 L594.5 691.3 L594.7 691.0 L594.9 691.6 L595.3 692.9 L595.7 693.6 L596.1 695.2 L596.5 695.7 L596.9 697.6 L597.3 697.8 L597.7 698.0 L598.1 698.6 L598.5 700.1 L598.9 701.4 L599.3 701.0 L599.7 702.5 L600.1 702.6 L600.5 703.3 L600.9 703.1 L601.3 704.5 L601.7 704.0 L602.1 703.5 L602.5 704.0 L602.9 703.2 L603.3 703.9 L603.7 704.4 L604.1 703.4 L604.5 703.3 L604.9 702.7 L605.3 702.0 L605.7 702.1 L606.1 702.0 L606.5 701.0 L606.9 700.5 L607.3 700.7 L607.7 699.9 L608.1 698.5 L608.5 698.6 L608.9 697.4 L609.3 697.9 L609.7 696.8 L610.0 696.7 L610.1 696.4 L610.5 697.4 L610.9 697.2 L611.3 698.1 L611.7 697.9 L612.1 699.2 L612.5 699.8 L612.9 700.3 L613.3 700.3 L613.7 701.9 L614.1 701.9 L614.5 702.5 L614.9 704.0 L615.3 704.8 L615.7 705.2 L616.1 705.4 L616.5 705.8 L616.9 705.9 L617.3 706.0 L617.7 706.0 L618.1 705.5 L618.5 705.9 L618.9 705.5 L619.3 705.7 L619.7 704.9 L620.1 704.9 L620.5 705.7 L620.9 705.0 L621.3 704.8 L621.7 705.9 L622.1 706.3 L622.5 706.5 L622.9 706.3 L623.3 705.4 L623.7 705.7 L624.1 705.6 L624.5 704.9 L624.9 704.8 L625.3 704.5 L625.7 703.4 L626.1 700.9 L626.5 698.1 L626.9 692.8 L627.3 688.2 L627.7 685.0 L628.0 680.7 L628.1 682.0 L628.5 686.9 L628.9 691.3 L629.3 696.1 L629.7 699.4 L630.1 703.7 L630.5 704.1 L630.9 705.8 L631.3 705.5 L631.7 705.5 L632.1 704.8 L632.5 705.8 L632.9 704.7 L633.3 705.8 L633.7 704.8 L634.1 705.1 L634.5 705.3 L634.9 705.7 L635.3 704.8 L635.7 704.2 L636.1 701.8 L636.5 699.5 L636.9 697.9 L637.3 693.5 L637.7 688.9 L638.1 683.5 L638.5 680.0 L638.9 675.6 L639.2 672.4 L639.3 672.8 L639.7 672.5 L640.1 673.9 L640.5 676.3 L640.9 678.3 L641.3 680.6 L641.7 683.3 L642.1 686.5 L642.5 687.0 L642.9 689.0 L643.3 690.6 L643.7 692.4 L644.1 693.4 L644.5 693.9 L644.9 695.1 L645.3 696.2 L645.7 696.2 L646.1 697.7 L646.5 698.2 L646.9 698.8 L647.3 699.4 L647.7 700.1 L648.1 700.5 L648.5 701.4 L648.9 701.8 L649.3 703.4 L649.7 704.3 L650.1 705.1 L650.5 704.7 L650.9 704.9 L651.3 705.7 L651.7 706.5 L652.1 706.4 L652.5 705.7 L652.9 706.9 L653.3 706.7 L653.7 707.2 L654.1 707.1 L654.5 707.3 L654.9 707.2 L655.3 707.0 L655.7 707.0 L656.1 706.6 L656.5 706.9 L656.9 706.8 L657.3 705.5 L657.7 705.6 L658.1 706.3 L658.5 706.0 L658.9 705.8 L659.3 705.4 L659.7 704.7 L660.1 704.9 L660.5 704.2 L660.9 704.2 L661.3 704.5 L661.7 704.4 L662.1 704.6 L662.5 704.5 L662.9 704.7 L663.0 704.5 L663.3 704.8 L663.7 703.7 L664.1 704.3 L664.5 705.3 L664.9 705.4 L665.3 705.6 L665.7 705.8 L666.1 704.4 L666.5 704.4 L666.9 704.9 L667.3 704.0 L667.7 704.3 L668.1 703.9 L668.5 703.7 L668.9 705.0 L669.3 705.3 L669.7 705.2 L670.1 705.0 L670.5 703.6 L670.9 702.3 L671.3 700.5 L671.7 697.8 L672.1 695.6 L672.3 694.0 L672.5 695.5 L672.9 698.8 L673.3 700.4 L673.7 703.7 L674.1 704.9 L674.5 706.4 L674.9 707.0 L675.3 707.0 L675.7 708.0 L676.1 707.8 L676.5 708.3 L676.9 709.3 L677.3 709.1 L677.7 709.0 L678.1 708.8 L678.5 708.7 L678.9 710.1 L679.3 710.0 L679.7 709.7 L680.1 710.4 L680.5 710.2 L680.9 709.7 L681.3 710.8 L681.7 710.2 L682.1 709.9 L682.5 710.9 L682.9 710.3 L683.3 710.3 L683.7 710.9 L684.1 710.8 L684.5 710.1 L684.9 709.7 L685.3 709.6 L685.7 709.7 L686.1 710.7 L686.5 710.5 L686.9 710.7 L687.3 710.4 L687.7 709.8 L688.1 710.9 L688.5 710.5 L688.9 709.6 L689.3 708.5 L689.7 706.5 L690.1 706.1 L690.5 705.2 L690.9 702.9 L691.0 703.3 L691.3 704.8 L691.7 705.1 L692.1 707.4 L692.5 707.4 L692.9 709.4 L693.3 711.1 L693.7 710.6 L694.1 711.1 L694.5 710.9 L694.9 711.5 L695.3 711.0 L695.7 711.6 L696.1 711.3 L696.5 711.3 L696.9 712.1 L697.3 711.6 L697.7 711.3 L698.1 711.4 L698.5 711.5 L698.9 712.0 L699.3 712.0 L699.7 711.9 L700.1 712.0 L700.5 710.9 L700.9 711.0 L701.3 709.6 L701.7 708.8 L702.1 709.0 L702.5 709.1 L702.9 708.3 L703.0 709.3 L703.3 708.2 L703.7 709.1 L704.1 709.0 L704.5 709.1 L704.9 709.1 L705.3 708.8 L705.7 709.5 L706.1 710.3 L706.5 710.8 L706.9 711.2 L707.3 710.6 L707.7 710.9 L708.1 710.5 L708.5 710.8 L708.9 710.8 L709.3 711.4 L709.7 710.4 L710.1 710.0 L710.5 710.9 L710.9 711.4 L711.3 710.4 L711.7 711.1 L712.1 710.5 L712.5 711.5 L712.9 711.4 L713.3 710.7 L713.7 710.8 L714.1 711.6 L714.5 712.0 L714.9 710.7 L715.3 711.0 L715.7 710.6 L716.1 711.9 L716.5 712.3 L716.9 711.6 L717.3 712.0 L717.7 710.9 L718.1 711.2 L718.5 709.6 L718.9 708.6 L719.3 708.0 L719.7 706.7 L720.1 704.8 L720.2 703.7 L720.5 703.9 L720.9 704.8 L721.3 705.7 L721.7 707.1 L722.1 707.3 L722.5 708.5 L722.9 708.7 L723.3 708.4 L723.7 708.9 L724.1 709.7 L724.5 709.2 L724.9 709.8 L725.3 710.1 L725.7 710.7 L726.1 710.8 L726.5 710.0 L726.9 711.2 L727.3 710.7 L727.7 711.3 L728.1 710.8 L728.5 711.9 L728.9 712.5 L729.3 712.7 L729.7 712.5 L730.1 712.8 L730.5 712.3 L730.9 712.7 L731.3 711.9 L731.7 711.4 L732.1 711.5 L732.5 711.7 L732.9 712.5 L733.3 712.7 L733.7 712.0 L734.1 712.6 L734.5 713.0 L734.9 712.3 L735.3 712.6 L735.7 712.1 L736.1 712.1 L736.5 711.8 L736.9 711.8 L737.3 711.5 L737.7 711.8 L738.1 712.6 L738.5 711.8 L738.9 711.6 L739.3 712.7 L739.7 712.1 L740.1 711.7 L740.5 711.5 L740.9 711.0 L741.3 711.5 L741.7 710.8 L742.1 710.2 L742.5 709.3 L742.9 707.7 L743.3 707.8 L743.7 706.4 L743.8 706.7 L744.1 707.4 L744.5 706.8 L744.9 708.6 L745.3 710.2 L745.7 710.3 L746.1 710.8 L746.5 711.5 L746.9 712.2 L747.3 712.6 L747.7 712.9 L748.1 711.2 L748.5 710.0 L748.9 709.6 L749.3 708.2 L749.7 705.6 L750.1 705.0 L750.5 704.0 L750.9 703.0 L751.3 702.5 L751.5 701.6 L751.7 702.2 L752.1 702.1 L752.5 703.6 L752.9 704.1 L753.3 704.9 L753.7 706.1 L754.1 708.0 L754.5 709.0 L754.9 710.6 L755.3 711.4 L755.7 712.6 L756.1 712.4 L756.5 712.3 L756.9 713.5 L757.3 713.5 L757.7 713.1 L758.1 713.9 L758.5 712.7 L758.9 713.2 L759.3 712.7 L759.7 712.8 L760.1 712.8 L760.5 713.1 L760.9 712.6 L761.3 712.7 L761.7 713.6 L762.1 713.1 L762.5 713.4 L762.9 714.3 L763.3 714.3 L763.7 713.3 L764.1 714.0 L764.5 714.1 L764.9 714.1 L765.3 714.5 L765.7 715.0 L766.1 714.2 L766.5 714.8 L766.9 714.0 L767.3 714.4 L767.7 715.1 L768.1 715.2 L768.5 714.6 L768.9 715.3 L769.3 715.0 L769.7 715.5 L770.1 715.5 L770.5 714.6 L770.9 714.0 L771.3 713.2 L771.7 714.0 L772.1 712.8 L772.5 712.1 L772.9 712.0 L773.3 711.3 L773.7 711.0 L774.1 711.3 L774.5 709.7 L774.9 710.1 L775.3 709.5 L775.7 709.9 L776.1 709.9 L776.5 708.9 L776.6 709.1 L776.9 709.5 L777.3 708.9 L777.7 708.7 L778.1 710.1 L778.5 709.3 L778.9 710.4 L779.3 710.7 L779.7 712.3 L780.1 712.7 L780.5 713.0 L780.9 713.2 L781.3 714.2 L781.7 713.5 L782.1 714.5 L782.5 714.2 L782.9 714.0 L783.3 714.6 L783.7 714.3 L784.1 714.5 L784.5 714.7 L784.9 713.8 L785.3 714.1 L785.7 714.2 L786.1 715.0 L786.5 715.2 L786.9 714.7 L787.3 714.6 L787.7 715.2 L788.1 715.4 L788.5 714.3 L788.9 715.3 L789.3 715.7 L789.7 714.9 L790.1 715.3 L790.5 715.2 L790.9 714.8 L791.3 714.3 L791.7 715.0 L792.1 715.4 L792.5 715.1 L792.9 715.3 L793.3 714.6 L793.7 715.4 L794.1 715.5 L794.5 715.1 L794.9 714.3 L795.3 713.9 L795.7 714.3 L796.1 714.2 L796.5 713.8 L796.9 714.1 L797.3 715.1 L797.7 714.8 L798.1 714.9 L798.5 714.5 L798.9 714.2 L799.3 713.9 L799.7 714.4 L800.1 714.7 L800.5 714.6 L800.9 714.4 L801.3 714.6 L801.7 714.0 L802.1 715.0 L802.5 715.2 L802.9 714.1 L803.3 714.9 L803.7 714.9 L804.1 713.8 L804.5 714.7 L804.9 715.0 L805.3 714.3 L805.7 714.0 L806.1 714.4 L806.5 713.8 L806.9 713.8 L807.3 714.8 L807.7 714.6 L808.1 714.6 L808.5 715.4 L808.9 715.6 L809.3 714.8 L809.7 714.3 L810.1 714.1 L810.5 715.1 L810.9 715.3 L811.3 716.1 L811.7 715.6 L812.1 715.7 L812.5 715.7 L812.9 714.9 L813.3 714.2 L813.7 713.5 L814.1 713.1 L814.5 713.0 L814.9 712.2 L815.3 711.2 L815.7 709.9 L816.1 709.3 L816.5 708.3 L816.9 707.6 L817.3 707.3 L817.7 706.1 L818.1 705.4 L818.5 705.3 L818.9 705.1 L819.3 704.6 L819.7 705.5 L820.1 705.7 L820.5 706.0 L820.9 706.7 L821.3 706.0 L821.7 707.3 L822.1 708.0 L822.5 707.9 L822.9 709.1 L823.3 710.2 L823.7 709.6 L824.1 710.4 L824.5 712.3 L824.9 712.3 L825.3 712.4 L825.7 712.9 L826.1 713.4 L826.5 714.6 L826.9 714.9 L827.3 715.0 L827.7 715.9 L828.1 715.0 L828.5 715.1 L828.9 715.6 L829.3 715.8 L829.7 715.0 L830.1 714.6 L830.5 714.8 L830.9 714.7 L831.3 714.7 L831.7 714.6 L832.1 714.1 L832.5 713.9 L832.9 714.5 L833.3 714.2 L833.7 714.6 L834.1 714.0 L834.5 714.5 L834.9 714.3 L835.3 714.9 L835.7 715.7 L836.1 714.9 L836.5 714.8 L836.9 715.0 L837.3 715.0 L837.7 714.8 L838.1 714.7 L838.5 715.7 L838.9 716.3 L839.3 715.2 L839.7 716.0 L840.1 716.4 L840.5 716.4 L840.9 716.5 L841.3 715.5 L841.7 715.5 L842.1 716.4 L842.5 716.2 L842.9 716.5 L843.3 715.8 L843.7 716.6 L844.1 716.9 L844.5 715.9 L844.9 716.5 L845.3 717.1 L845.7 715.8 L846.1 715.8 L846.5 716.9 L846.9 716.9 L847.3 716.4 L847.7 716.0 L848.1 717.0 L848.5 716.0 L848.9 717.2 L849.3 716.1 L849.7 716.2 L850.1 716.6 L850.5 716.8 L850.9 717.3 L851.3 716.8 L851.7 717.5 L852.1 716.7 L852.5 716.6 L852.9 717.6 L853.3 716.9 L853.7 717.0 L854.1 716.4 L854.5 717.4 L854.9 717.3 L855.3 717.9 L855.7 717.9 L856.1 717.5 L856.5 716.9 L856.9 717.3 L857.3 717.7 L857.7 717.7 L858.1 717.9 L858.5 717.7 L858.9 717.6 L859.3 718.8 L859.7 719.0 L860.1 718.4 L860.5 719.0 L860.9 717.9 L861.3 718.5 L861.7 718.1 L862.1 718.0 L862.5 718.3 L862.9 718.5 L863.3 718.1 L863.7 717.9 L864.1 718.1 L864.5 718.8 L864.9 719.2 L865.3 719.3 L865.7 719.0 L866.1 719.3 L866.5 718.0 L866.9 718.9 L867.3 718.3 L867.7 717.7 L868.1 717.7 L868.5 718.8 L868.9 718.8 L869.3 717.8 L869.7 717.9 L870.1 718.9 L870.5 719.3 L870.9 719.3 L871.3 719.2 L871.7 719.2 L872.1 719.1 L872.5 718.4 L872.9 717.9 L873.3 718.2 L873.7 717.4 L874.1 718.0 L874.5 717.8 L874.9 717.6 L875.3 717.9 L875.7 718.4 L876.1 718.3 L876.5 717.7 L876.9 718.9 L877.3 718.1 L877.7 718.4 L878.1 719.0 L878.5 718.9 L878.9 718.5 L879.3 719.1 L879.7 717.9 L880.1 718.1 L880.5 717.5 L880.9 717.8 L881.3 717.5 L881.7 718.2 L882.1 717.6 L882.5 716.9 L882.9 716.5 L883.3 716.1 L883.7 716.4 L884.1 716.8 L884.5 716.9 L884.9 716.5 L885.3 715.2 L885.7 715.6 L886.1 714.9 L886.5 714.4 L886.9 714.2 L887.0 715.2 L887.3 714.3 L887.7 715.4 L888.1 714.9 L888.5 714.9 L888.9 715.8 L889.3 715.2 L889.7 715.6 L890.1 716.6 L890.5 716.7 L890.9 716.3 L891.3 716.1 L891.7 717.3 L892.1 717.6 L892.5 718.3 L892.9 717.4 L893.3 717.4 L893.7 718.0 L894.1 717.7 L894.5 718.6 L894.9 717.8 L895.3 717.3 L895.7 717.7 L896.1 717.2 L896.5 717.5 L896.9 718.5 L897.3 718.3 L897.7 717.9 L898.1 718.2 L898.5 718.5 L898.9 717.4 L899.3 718.5 L899.7 718.7 L900.1 718.0 L900.5 717.4 L900.9 718.1 L901.3 718.0 L901.7 717.3 L902.1 717.8 L902.5 717.8 L902.9 718.0 L903.3 717.1 L903.7 717.6 L904.1 717.6 L904.5 718.2 L904.9 718.1 L905.3 718.0 L905.7 717.7 L906.1 717.1 L906.5 717.8 L906.9 717.1 L907.3 717.9 L907.7 717.5 L908.1 717.1 L908.5 717.0 L908.9 717.0 L909.3 717.1 L909.7 715.8 L910.1 715.3 L910.5 714.1 L910.9 713.7 L911.3 712.1 L911.7 711.0 L912.1 709.0 L912.5 707.9 L912.9 706.0 L913.3 704.5 L913.7 702.9 L914.1 700.2 L914.3 699.3 L914.5 699.6 L914.9 700.3 L915.3 700.7 L915.7 701.3 L916.1 701.9 L916.5 701.0 L916.9 702.3 L917.3 702.3 L917.7 701.6 L918.1 701.3 L918.5 701.2 L918.9 701.0 L919.3 700.5 L919.7 700.3 L920.1 700.3 L920.5 700.0 L920.9 698.8 L921.3 697.6 L921.7 694.9 L922.1 693.5 L922.5 691.4 L922.9 694.9 L923.3 696.5 L923.7 699.8 L924.1 703.2 L924.5 704.7 L924.9 707.5 L925.3 708.7 L925.7 710.5 L926.1 710.6 L926.5 712.1 L926.9 712.0 L927.3 713.0 L927.7 713.9 L928.1 714.0 L928.5 714.7 L928.9 715.3 L929.3 715.7 L929.7 715.8 L930.1 715.6 L930.5 715.7 L930.9 715.6 L931.3 715.2 L931.7 714.7 L932.1 716.1 L932.5 715.3 L932.9 715.6 L933.3 715.4 L933.7 715.5 L934.1 715.5 L934.5 716.1 L934.9 715.7 L935.3 716.8 L935.7 716.8 L936.1 715.9 L936.5 715.2 L936.9 715.4 L937.3 715.4 L937.7 713.8 L938.1 711.8 L938.5 711.0 L938.9 710.7 L939.3 710.3 L939.7 710.5 L940.0 709.4 L940.1 710.7 L940.5 709.9 L940.9 710.8 L941.3 711.0 L941.7 712.1 L942.1 712.4 L942.5 713.1 L942.9 713.8 L943.3 715.5 L943.7 715.9 L944.1 715.9 L944.5 716.4 L944.9 716.9 L945.3 716.7 L945.7 718.0 L946.1 718.3 L946.5 718.7 L946.9 718.2 L947.3 717.4 L947.7 717.3 L948.1 717.6 L948.5 718.2 L948.9 718.2 L949.3 719.4 L949.7 719.7 L950.1 719.2 L950.5 718.9 L950.9 718.9 L951.3 719.1 L951.7 719.2 L952.1 718.7 L952.5 719.7 L952.9 719.9 L953.3 720.4 L953.7 718.8 L954.1 718.1 L954.5 718.0 L954.9 716.8 L955.3 716.6 L955.7 715.2 L956.1 713.7 L956.5 713.8 L956.9 713.3 L957.3 713.7 L957.7 713.0 L958.1 713.1 L958.5 713.4 L958.9 713.4 L959.3 714.1 L959.7 715.9 L960.1 716.4 L960.5 717.5 L960.9 718.0 L961.3 718.3 L961.7 718.3 L962.1 719.4 L962.5 718.9 L962.9 719.6 L963.3 718.5 L963.7 719.0 L964.1 719.8 L964.5 719.3 L964.9 718.9 L965.3 719.0 L965.7 718.9 L966.1 718.5 L966.5 718.8 L966.9 718.6 L967.3 718.9 L967.7 719.1 L968.1 719.2 L968.5 719.5 L968.9 718.5 L969.3 718.3 L969.7 718.7 L970.1 718.4 L970.5 719.4 L970.9 719.7 L971.3 719.0 L971.7 719.3 L972.1 719.0 L972.5 719.0 L972.9 719.6 L973.3 719.5 L973.7 718.7 L974.1 718.1 L974.5 718.6 L974.9 718.9 L975.3 718.4 L975.7 717.8 L976.1 717.3 L976.5 716.8 L976.9 716.7 L977.3 716.3 L977.7 715.9 L978.1 715.7 L978.5 715.7 L978.9 716.0 L979.3 716.0 L979.7 715.5 L980.1 716.0 L980.5 717.3 L980.9 717.2 L981.3 718.1 L981.7 718.5 L982.1 719.5 L982.5 719.4 L982.9 718.9 L983.3 719.7 L983.7 720.9 L984.1 721.5 L984.5 721.4 L984.9 720.9 L985.3 721.2 L985.7 720.5 L986.1 721.4 L986.5 721.7 L986.9 721.0 L987.3 721.6 L987.7 721.9 L988.1 722.0 L988.5 721.9 L988.9 721.6 L989.3 721.1 L989.7 721.0 L990.1 720.8 L990.5 720.5 L990.9 720.6 L991.3 720.0 L991.7 720.4 L992.1 720.9 L992.5 720.4 L992.9 721.2 L993.3 721.4 L993.7 721.6 L994.1 721.1 L994.5 721.4 L994.9 720.3 L995.3 720.1 L995.7 720.0 L996.1 720.4 L996.5 720.0 L996.9 720.4 L997.3 721.4 L997.7 721.1 L998.1 720.4 L998.5 720.9 L998.9 721.1 L999.3 721.3 L999.7 720.6 L1000.1 720.5 L1000.5 720.7 L1000.9 720.9 L1001.3 721.5 L1001.7 721.1 L1002.1 721.3 L1002.5 721.1 L1002.9 720.7 L1003.3 720.1 L1003.7 721.3 L1004.1 721.5 L1004.5 721.3 L1004.9 721.0 L1005.3 721.2 L1005.7 720.3 L1006.1 719.7 L1006.5 720.3 L1006.9 720.2 L1007.3 719.8 L1007.7 719.9 L1008.1 721.0 L1008.5 721.0 L1008.9 719.9 L1009.3 719.9 L1009.7 720.7 L1010.1 720.8 L1010.5 720.2 L1010.9 720.6 L1011.3 721.2 L1011.7 720.0 L1012.1 721.2 L1012.5 720.5 L1012.9 720.2 L1013.3 720.5 L1013.7 720.7 L1014.1 720.1 L1014.5 720.2 L1014.9 720.9 L1015.3 720.4 L1015.7 719.9 L1016.1 720.4 L1016.5 720.6 L1016.9 721.1 L1017.3 720.9 L1017.7 720.8 L1018.1 721.1 L1018.5 720.7 L1018.9 720.5 L1019.3 720.5 L1019.7 720.1 L1020.1 720.5 L1020.5 720.1 L1020.9 720.8 L1021.3 720.4 L1021.7 720.8 L1022.1 719.6 L1022.5 720.2 L1022.9 719.6 L1023.3 719.9 L1023.7 719.7 L1024.1 719.1 L1024.5 720.2 L1024.9 720.2 L1025.3 719.7 L1025.7 720.1 L1026.1 720.6 L1026.5 719.6 L1026.9 719.5 L1027.3 720.4 L1027.7 720.9 L1028.1 720.9 L1028.5 720.0 L1028.9 719.7 L1029.3 719.4 L1029.7 719.1 L1030.1 719.1 L1030.5 719.6 L1030.9 720.0 L1031.3 719.0 L1031.7 719.0 L1032.1 719.9 L1032.5 720.1 L1032.9 719.2 L1033.3 720.0 L1033.7 719.0 L1034.1 718.6 L1034.5 718.7 L1034.9 718.8 L1035.3 719.5 L1035.7 718.5 L1036.1 719.2 L1036.5 719.0 L1036.9 719.4 L1037.3 719.5 L1037.7 719.6 L1038.0 719.2 L1038.1 719.1 L1038.5 718.9 L1038.9 718.7 L1039.3 719.2 L1039.7 718.6 L1040.1 718.6 L1040.5 719.9 L1040.9 719.5 L1041.3 719.5 L1041.7 719.9 L1042.1 719.7 L1042.5 719.6 L1042.9 720.5 L1043.3 720.3 L1043.7 721.2 L1044.1 721.0 L1044.5 720.7 L1044.9 720.7 L1045.3 721.3 L1045.7 720.6 L1046.1 721.8 L1046.5 721.0 L1046.9 721.7 L1047.3 720.9 L1047.7 721.7 L1048.1 721.3 L1048.5 722.0 L1048.9 721.8 L1049.3 722.6 L1049.7 721.7 L1050.1 722.5 L1050.5 722.5 L1050.9 721.9 L1051.3 722.3 L1051.7 721.8 L1052.1 721.5 L1052.5 721.9 L1052.9 722.1 L1053.3 721.4 L1053.7 721.7 L1054.1 720.8 L1054.5 721.6 L1054.9 722.0 L1055.3 722.1 L1055.7 721.2 L1056.1 721.4 L1056.5 721.5 L1056.9 720.6 L1057.3 720.3 L1057.7 721.1 L1058.1 721.9 L1058.5 721.7 L1058.9 721.5 L1059.3 722.1 L1059.7 721.1 L1060.1 722.1 L1060.5 721.0 L1060.9 721.9 L1061.3 721.3 L1061.7 722.0 L1062.1 721.6 L1062.5 722.4 L1062.9 722.1 L1063.3 722.3 L1063.7 721.5 L1064.1 722.4 L1064.5 721.8 L1064.9 722.4 L1065.3 721.8 L1065.7 721.4 L1066.1 721.5 L1066.5 722.1 L1066.9 721.6 L1067.3 721.9 L1067.7 721.8 L1068.1 722.1 L1068.5 722.6 L1068.9 722.3 L1069.3 723.1 L1069.7 722.7 L1070.1 722.8 L1070.5 723.0 L1070.9 723.3 L1071.3 723.1 L1071.7 722.4 L1072.1 723.1 L1072.5 723.0 L1072.9 722.4 L1073.3 722.8 L1073.7 721.9 L1074.1 722.6 L1074.5 722.2 L1074.9 722.6 L1075.3 721.7 L1075.7 722.2 L1076.1 722.0 L1076.5 721.3 L1076.9 721.8 L1077.3 721.3 L1077.7 722.3 L1078.1 721.8 L1078.5 721.4 L1078.9 721.6 L1079.3 722.1 L1079.7 722.0 L1080.1 722.3 L1080.5 722.3 L1080.9 722.8 L1081.3 722.4 L1081.7 721.8 L1082.1 722.6 L1082.5 722.0 L1082.9 721.6 L1083.3 721.0 L1083.7 721.9 L1084.1 722.0 L1084.5 721.3 L1084.9 722.4 L1085.3 721.4 L1085.7 721.8 L1086.1 722.0 L1086.5 721.8 L1086.9 721.6 L1087.3 721.8 L1087.7 721.6 L1088.1 721.0 L1088.5 720.7 L1088.9 720.7 L1089.3 720.4 L1089.7 720.0 L1090.1 720.6 L1090.5 720.2 L1090.9 720.3 L1091.3 718.8 L1091.7 719.0 L1092.1 718.6 L1092.5 717.7 L1092.9 717.4 L1093.3 717.6 L1093.7 717.2 L1094.1 716.5 L1094.5 716.2 L1094.9 716.9 L1095.3 715.9 L1095.7 715.5 L1096.0 716.2 L1096.1 716.4 L1096.5 716.9 L1096.9 716.5 L1097.3 716.2 L1097.7 717.3 L1098.1 716.6 L1098.5 717.1 L1098.9 716.3 L1099.3 716.7 L1099.7 717.2 L1100.1 717.6 L1100.5 717.2 L1100.9 718.5 L1101.3 719.4 L1101.7 719.5 L1102.1 719.9 L1102.5 720.4 L1102.9 720.9 L1103.3 721.1 L1103.7 720.6 L1104.1 720.1 L1104.5 720.6 L1104.9 720.3 L1105.3 721.2 L1105.7 722.2 L1106.1 722.6 L1106.5 721.8 L1106.9 722.4 L1107.3 722.0 L1107.7 722.7 L1108.1 721.9 L1108.5 721.6 L1108.9 722.2 L1109.3 723.1 L1109.7 722.5 L1110.1 722.4 L1110.5 722.9 L1110.9 722.7 L1111.3 722.9 L1111.7 722.6 L1112.1 722.3 L1112.5 722.3 L1112.9 722.4 L1113.3 721.9 L1113.7 721.9 L1114.1 721.7 L1114.5 722.5 L1114.9 722.3 L1115.3 722.5 L1115.7 722.2 L1116.1 722.7 L1116.5 722.9 L1116.9 721.8 L1117.3 721.4 L1117.7 722.5 L1118.1 721.9 L1118.5 722.9 L1118.9 722.2 L1119.3 721.8 L1119.7 721.4 L1120.1 722.1 L1120.5 722.3 L1120.9 721.5 L1121.3 722.3 L1121.7 721.4 L1122.1 721.8 L1122.5 722.6 L1122.9 721.3 L1123.3 722.3 L1123.7 722.3 L1124.1 721.6 L1124.5 721.8 L1124.9 721.1 L1125.3 721.7 L1125.7 722.3 L1126.1 721.4 L1126.5 720.6 L1126.9 720.4 L1127.3 720.8 L1127.7 721.4 L1128.1 722.1 L1128.5 722.1 L1128.9 722.0 L1129.3 721.6 L1129.7 721.6 L1130.1 721.5 L1130.5 720.6 L1130.9 721.4 L1131.3 720.9 L1131.7 720.4 L1132.1 721.6 L1132.5 721.7 L1132.9 720.5 L1133.3 720.9 L1133.7 720.2 L1134.1 721.3 L1134.5 720.8 L1134.9 720.9 L1135.3 721.3 L1135.7 721.5 L1136.1 720.5 L1136.5 721.1 L1136.9 721.0 L1137.3 720.9 L1137.7 721.7 L1138.1 721.8 L1138.5 721.9 L1138.9 721.2 L1139.3 721.2 L1139.7 721.5 L1140.1 721.6 L1140.5 721.6 L1140.9 722.2 L1141.3 721.4 L1141.7 721.1 L1142.1 721.6 L1142.5 721.9 L1142.9 722.4 L1143.3 721.7 L1143.7 722.6 L1144.1 721.6 L1144.5 721.7 L1144.9 721.6 L1145.3 721.3 L1145.7 721.4 L1146.1 721.6 L1146.5 721.4 L1146.9 721.4 L1147.3 722.2 L1147.7 721.8 L1148.1 722.6 L1148.5 722.0 L1148.9 721.4 L1149.3 721.4 L1149.7 722.6 L1150.1 722.5 L1150.5 723.1 L1150.9 722.6 L1151.3 722.3 L1151.7 722.4 L1152.1 722.6 L1152.5 723.2 L1152.9 723.7 L1153.3 723.5 L1153.7 723.6 L1154.1 722.9 L1154.5 722.9 L1154.9 722.2 L1155.3 723.4 L1155.7 723.8 L1156.1 723.6 L1156.5 722.9 L1156.9 722.6 L1157.3 722.9 L1157.7 722.6 L1158.1 722.7 L1158.5 722.2 L1158.9 723.0 L1159.3 723.4 L1159.7 723.1 L1160.1 723.3 L1160.5 723.4 L1160.9 722.8 L1161.3 721.8 L1161.7 722.6 L1162.1 722.5 L1162.5 722.3 L1162.9 722.2 L1163.3 722.7 L1163.7 723.3 L1164.1 722.7 L1164.5 723.0 L1164.9 723.0 L1165.3 723.6 L1165.7 723.4 L1166.1 724.1 L1166.5 722.9 L1166.9 724.0 L1167.3 723.4 L1167.7 723.9 L1168.1 723.6 L1168.5 723.2 L1168.9 724.0 L1169.3 723.8 L1169.7 723.1 L1170.1 723.5 L1170.5 723.5 L1170.9 724.2 L1171.3 723.6 L1171.7 723.6 L1172.1 723.7 L1172.5 722.6 L1172.9 723.0 L1173.3 723.8 L1173.7 723.4 L1174.1 722.8 L1174.5 722.6 L1174.9 722.7 L1175.3 722.9 L1175.7 722.7 L1176.1 723.0 L1176.5 722.5 L1176.9 722.2 L1177.3 722.0 L1177.7 722.5 L1178.1 722.2 L1178.5 722.2 L1178.9 722.1 L1179.3 722.3 L1179.7 722.8 L1180.1 721.8 L1180.5 721.9 L1180.9 722.8 L1181.3 721.7 L1181.7 722.8 L1182.1 721.8 L1182.5 721.8 L1182.9 722.8 L1183.3 722.8 L1183.7 722.0 L1184.1 722.1 L1184.5 722.0 L1184.9 722.3 L1185.3 721.6 L1185.7 722.6 L1186.1 722.4 L1186.5 723.0 L1186.9 722.0 L1187.3 721.8 L1187.7 722.8 L1188.1 722.9 L1188.5 722.5 L1188.9 722.8 L1189.3 721.9 L1189.7 721.9 L1190.1 721.8 L1190.5 723.1 L1190.9 723.3 L1191.3 723.4 L1191.7 723.0 L1192.1 723.5 L1192.5 722.5 L1192.9 722.2 L1193.3 723.1 L1193.7 723.3 L1194.1 723.3 L1194.5 723.1 L1194.9 723.0 L1195.3 722.0 L1195.7 722.1 L1196.1 722.3 L1196.5 723.1 L1196.9 722.4 L1197.3 722.8 L1197.7 722.9 L1198.1 722.5 L1198.5 722.3 L1198.9 722.1 L1199.3 722.2 L1199.7 722.3 L1200.1 721.7 L1200.5 722.5 L1200.9 721.8 L1201.3 721.8 L1201.7 721.1 L1202.1 721.3 L1202.5 722.0 L1202.9 722.0 L1203.3 722.4 L1203.7 722.2 L1204.1 721.7 L1204.5 722.5 L1204.9 722.6 L1205.3 722.5 L1205.7 722.8 L1206.1 722.7 L1206.5 722.2 L1206.9 722.9 L1207.3 722.3 L1207.7 722.1 L1208.1 721.7 L1208.5 721.6 L1208.9 722.1 L1209.3 722.7 L1209.7 722.3 L1210.1 722.8 L1210.5 722.0 L1210.9 721.5 L1211.3 722.9 L1211.7 721.9 L1212.1 722.3 L1212.5 722.0 L1212.9 721.7 L1213.3 721.3 L1213.7 722.0 L1214.1 721.9 L1214.5 721.6 L1214.9 721.9 L1215.3 722.4 L1215.7 721.5 L1216.1 721.7 L1216.5 721.9 L1216.9 720.8 L1217.3 721.5 L1217.7 721.7 L1218.1 721.8 L1218.5 720.6 L1218.9 721.7 L1219.3 721.4 L1219.7 721.2 L1220.1 721.3 L1220.5 721.8 L1220.9 721.1 L1221.3 720.7 L1221.7 720.4 L1222.1 720.9 L1222.5 720.4 L1222.9 721.3 L1223.3 720.9 L1223.7 721.4 L1224.1 720.9 L1224.5 720.6 L1224.9 720.6 L1225.3 720.1 L1225.7 720.5 L1226.1 720.0 L1226.5 720.3 L1226.9 719.8 L1227.3 719.6 L1227.7 720.0 L1228.0 720.4 L1228.1 720.2 L1228.5 719.3 L1228.9 719.6 L1229.3 720.0 L1229.7 720.0 L1230.1 720.3 L1230.5 720.2 L1230.9 720.5 L1231.3 719.5 L1231.7 719.6 L1232.1 719.8 L1232.5 719.1 L1232.9 718.9 L1233.3 719.2 L1233.7 719.5 L1234.1 720.5 L1234.5 719.9 L1234.9 720.3 L1235.3 720.3 L1235.7 720.9 L1236.1 720.0 L1236.5 719.8 L1236.9 719.7 L1237.3 719.9 L1237.7 720.0 L1238.1 720.0 L1238.5 720.1 L1238.9 719.7 L1239.3 719.5 L1239.7 719.6 L1240.1 720.7 L1240.5 720.7 L1240.9 720.8 L1241.3 721.2 L1241.7 721.0 L1242.1 720.2 L1242.5 720.6 L1242.9 720.6 L1243.3 721.2 L1243.7 721.4 L1244.1 721.3 L1244.5 720.8 L1244.9 720.4 L1245.3 719.9 L1245.7 719.8 L1246.1 719.0 L1246.5 719.3 L1246.9 718.8 L1247.3 719.4 L1247.7 719.4 L1248.1 717.9 L1248.5 718.1 L1248.9 717.7 L1249.3 718.1 L1249.7 718.5 L1250.0 718.5 L1250.1 717.5 L1250.5 717.4 L1250.9 717.8 L1251.3 718.3 L1251.7 717.6 L1252.1 718.2 L1252.5 718.8 L1252.9 719.6 L1253.3 720.1 L1253.7 720.1 L1254.1 720.2 L1254.5 720.0 L1254.9 720.5 L1255.3 720.2 L1255.7 719.9 L1256.1 720.2 L1256.5 720.5 L1256.9 720.7 L1257.3 720.2 L1257.7 720.1 L1258.1 719.2 L1258.5 720.3 L1258.9 719.3 L1259.3 720.2 L1259.7 719.2 L1260.1 719.6 L1260.5 719.3 L1260.9 719.8 L1261.3 718.7 L1261.7 718.9 L1262.1 719.0 L1262.5 718.4 L1262.9 718.1 L1263.3 718.8 L1263.7 719.1 L1264.1 718.9 L1264.5 718.8 L1264.9 718.6 L1265.3 719.0 L1265.7 719.4 L1266.1 718.5 L1266.5 718.3 L1266.9 720.0 L1267.3 719.9 L1267.7 719.8 L1268.1 719.9 L1268.5 720.0 L1268.9 720.7 L1269.3 720.3 L1269.7 720.5 L1270.1 722.0 L1270.5 722.4 L1270.9 722.5 L1271.3 721.5 L1271.7 721.3 L1272.1 722.2 L1272.5 722.4 L1272.9 721.6 L1273.3 722.3 L1273.7 721.5 L1274.1 722.7 L1274.5 722.6 L1274.9 722.1 L1275.3 722.7 L1275.7 722.7 L1276.1 722.8 L1276.5 722.8 L1276.9 721.8 L1277.3 722.8 L1277.7 723.3 L1278.1 722.1 L1278.5 723.1 L1278.9 723.4 L1279.3 723.5 L1279.7 723.4 L1280.1 723.2 L1280.5 722.2 L1280.9 723.2 L1281.3 722.7 L1281.7 723.1 L1282.1 722.3 L1282.5 723.0 L1282.9 721.8 L1283.3 722.3 L1283.7 723.0 L1284.1 722.8 L1284.5 722.5 L1284.9 722.9 L1285.3 722.9 L1285.7 722.1 L1286.1 722.2 L1286.5 722.4 L1286.9 722.6 L1287.3 721.5 L1287.7 721.6 L1288.0 722.5 L1288.1 721.3 L1288.5 721.7 L1288.9 721.9 L1289.3 721.8 L1289.7 721.3 L1290.1 721.3 L1290.5 721.6 L1290.9 722.6 L1291.3 722.4 L1291.7 721.4 L1292.1 721.9 L1292.5 722.0 L1292.9 722.8 L1293.3 723.0 L1293.7 722.9 L1294.1 723.0 L1294.5 722.7 L1294.9 722.9 L1295.3 723.0 L1295.7 722.8 L1296.1 721.8 L1296.5 722.0 L1296.9 721.0 L1297.3 721.4 L1297.7 721.4 L1298.1 721.8 L1298.5 721.2 L1298.9 720.6 L1299.3 720.5 L1299.7 721.5 L1300.1 721.5 L1300.5 721.3 L1300.9 720.4 L1301.3 721.1 L1301.7 720.7 L1302.1 721.3 L1302.5 721.7 L1302.9 721.9 L1303.3 721.4 L1303.7 720.6 L1304.1 721.8 L1304.5 721.2 L1304.9 721.7 L1305.3 721.1 L1305.7 721.9 L1306.1 721.5 L1306.5 721.4 L1306.9 721.9 L1307.3 721.9 L1307.7 722.3 L1308.1 722.7 L1308.5 721.8 L1308.9 721.2 L1309.3 722.0 L1309.7 722.3 L1310.1 721.2 L1310.5 720.8 L1310.9 720.8 L1311.3 720.9 L1311.7 721.2 L1312.1 720.7 L1312.5 720.8 L1312.9 720.5 L1313.3 720.2 L1313.7 720.2 L1314.1 720.8 L1314.5 719.7 L1314.9 719.2 L1315.3 719.5 L1315.7 720.3 L1316.0 720.2 L1316.1 719.6 L1316.5 720.2 L1316.9 720.8 L1317.3 721.0 L1317.7 720.2 L1318.1 720.9 L1318.5 719.9 L1318.9 719.4 L1319.3 720.8 L1319.7 720.6 L1320.1 721.0 L1320.5 720.5 L1320.9 720.0 L1321.3 720.0 L1321.7 720.4 L1322.1 721.5 L1322.5 721.3 L1322.9 720.8 L1323.3 721.1 L1323.7 722.4 L1324.1 721.9 L1324.5 723.0 L1324.9 723.0 L1325.3 723.7 L1325.7 722.9 L1326.1 723.2 L1326.5 724.1 L1326.9 724.7 L1327.3 723.7 L1327.7 723.5 L1328.1 724.8 L1328.5 725.1 L1328.9 724.4 L1329.3 725.0 L1329.7 724.7 L1330.1 724.9 L1330.5 725.0 L1330.9 725.6 L1331.3 725.2 L1331.7 724.5 L1332.1 724.4 L1332.5 724.6 L1332.9 724.2 L1333.3 724.1 L1333.7 724.3 L1334.1 724.4 L1334.5 725.2 L1334.9 724.6 L1335.3 725.2 L1335.7 725.9 L1336.1 724.8 L1336.5 724.5 L1336.9 725.4 L1337.3 726.1 L1337.7 725.2 L1338.1 725.3 L1338.5 725.5 L1338.9 724.6 L1339.3 724.4 L1339.7 725.4 L1340.1 725.1 L1340.5 725.6 L1340.9 725.2 L1341.3 724.5 L1341.7 724.5 L1342.1 724.1 L1342.5 724.0 L1342.9 724.5 L1343.3 725.5 L1343.7 725.3 L1344.1 725.0 L1344.5 725.7 L1344.9 725.1 L1345.3 724.6 L1345.7 724.9 L1346.1 725.5 L1346.5 724.7 L1346.9 724.5 L1347.3 725.0 L1347.7 724.7 L1348.1 724.9 L1348.5 724.6 L1348.9 723.8 L1349.3 724.5 L1349.7 724.5 L1350.1 724.6 L1350.5 723.9 L1350.9 723.6 L1351.3 723.5 L1351.7 723.9 L1352.1 723.4 L1352.5 723.6 L1352.9 724.5 L1353.3 724.9 L1353.7 723.6 L1354.1 724.3 L1354.5 724.1 L1354.9 724.7 L1355.3 724.4 L1355.7 724.4 L1356.1 725.0 L1356.5 724.0 L1356.9 723.4 L1357.3 723.8 L1357.7 724.6 L1358.1 723.7 L1358.5 724.2 L1358.9 724.2 L1359.3 724.7 L1359.7 723.9 L1360.1 723.7 L1360.5 723.6 L1360.9 723.8 L1361.3 724.4 L1361.7 724.6 L1362.1 725.0 L1362.5 724.7 L1362.9 724.5 L1363.3 724.6 L1363.7 723.8 L1364.1 724.1 L1364.5 723.7 L1364.9 724.7 L1365.3 724.9 L1365.7 724.6 L1366.1 725.0 L1366.5 725.3 L1366.9 724.2 L1367.3 725.2 L1367.7 725.4 L1368.1 725.6 L1368.5 724.3 L1368.9 724.2 L1369.3 724.0 L1369.7 723.7 L1370.1 724.3 L1370.5 724.2 L1370.9 724.8 L1371.3 724.8 L1371.7 724.9 L1372.1 725.2 L1372.5 724.6 L1372.9 725.1 L1373.3 724.8 L1373.7 724.3 L1374.1 725.0 L1374.5 725.5 L1374.9 724.7 L1375.3 724.7 L1375.7 724.8 L1376.1 724.7 L1376.5 724.1 L1376.9 724.2 L1377.3 725.4 L1377.7 724.4 L1378.1 724.0 L1378.5 725.0 L1378.9 724.9 L1379.3 724.9 L1379.7 724.6 L1380.1 724.1 L1380.5 724.2 L1380.9 723.9 L1381.3 725.1 L1381.7 724.0 L1382.1 723.8 L1382.5 724.0 L1382.9 725.1 L1383.3 725.3 L1383.7 724.5 L1384.1 724.4 L1384.5 723.8 L1384.9 723.9 L1385.3 723.5 L1385.7 724.6 L1386.1 724.8 L1386.5 724.3 L1386.9 724.3 L1387.3 723.9 L1387.7 725.0 L1388.1 724.4 L1388.5 724.1 L1388.9 724.3 L1389.3 725.2 L1389.7 725.7 L1390.1 725.4 L1390.5 724.7 L1390.9 725.5 L1391.3 725.9 L1391.7 725.3 L1392.1 725.5 L1392.5 725.3 L1392.9 725.1 L1393.3 725.5 L1393.7 724.8 L1394.1 725.3 L1394.5 724.8 L1394.9 724.8 L1395.3 724.6 L1395.7 725.2 L1396.1 724.2 L1396.5 724.0 L1396.9 724.8 L1397.3 724.1 L1397.7 724.7 L1398.1 724.5 L1398.5 724.5 L1398.9 724.0 L1399.3 723.4 L1399.7 724.8 L1400.1 725.1 L1400.5 723.9 L1400.9 724.4 L1401.3 724.3 L1401.7 725.0 L1402.1 724.3 L1402.5 724.7 L1402.9 724.5 L1403.3 724.0 L1403.7 724.4 L1404.1 724.3 L1404.5 724.7 L1404.9 725.2 L1405.3 725.3 L1405.7 724.0 L1406.1 724.2 L1406.5 723.6 L1406.9 724.6 L1407.3 723.9 L1407.7 724.7 L1408.1 724.8 L1408.5 724.2 L1408.9 725.0 L1409.3 725.4 L1409.7 725.3 L1410.1 725.5 L1410.5 725.2 L1410.9 724.9 L1411.3 725.3 L1411.7 725.1 L1412.1 724.5 L1412.5 724.4 L1412.9 724.0 L1413.3 724.8 L1413.7 724.2 L1414.1 725.3 L1414.5 724.7 L1414.9 724.9 L1415.3 725.1 L1415.7 725.3 L1416.1 724.6 L1416.5 724.1 L1416.9 725.0 L1417.3 724.3 L1417.7 724.7 L1418.1 724.1 L1418.5 724.1 L1418.9 724.4 L1419.3 725.4 L1419.7 724.9 L1420.1 724.9 L1420.5 725.6 L1420.9 725.1 L1421.3 724.1 L1421.7 725.3 L1422.1 725.5 L1422.5 724.4 L1422.9 725.2 L1423.3 725.2 L1423.7 724.8 L1424.1 725.1 L1424.5 724.2 L1424.9 723.6 L1425.3 724.8 L1425.7 724.7 L1426.1 723.9 L1426.5 724.2 L1426.9 723.8 L1427.3 724.3 L1427.7 724.4 L1428.1 723.6 L1428.5 724.2 L1428.9 724.6 L1429.3 725.2 L1429.7 724.8 L1430.1 725.2 L1430.5 724.0 L1430.9 723.9 L1431.3 723.9 L1431.7 724.1 L1432.1 724.9 L1432.5 724.4 L1432.9 724.2 L1433.3 723.9 L1433.7 724.8 L1434.1 725.3 L1434.5 724.3 L1434.9 724.6 L1435.3 725.2 L1435.7 724.8 L1436.1 724.8 L1436.5 725.4 L1436.9 724.5 L1437.3 725.5 L1437.7 724.7 L1438.1 725.5 L1438.5 726.2 L1438.9 725.7 L1439.3 725.9 L1439.7 726.0 L1440.1 726.4 L1440.5 726.0 L1440.9 725.5 L1441.3 724.9 L1441.7 724.8 L1442.1 725.5 L1442.5 726.4 L1442.9 725.4 L1443.3 725.5 L1443.7 725.1 L1444.1 725.9 L1444.5 725.9 L1444.9 725.8 L1445.3 726.5 L1445.7 726.6 L1446.1 726.4 L1446.5 725.5 L1446.9 726.4 L1447.3 725.9 L1447.7 725.6 L1448.1 725.2 L1448.5 726.3 L1448.9 726.4 L1449.3 725.4 L1449.7 724.8 L1450.1 725.1 L1450.5 725.5 L1450.9 725.2 L1451.3 725.2 L1451.7 725.6 L1452.1 724.8 L1452.5 724.6 L1452.9 725.0 L1453.3 725.1 L1453.7 725.5 L1454.1 725.3 L1454.5 725.5 L1454.9 725.2 L1455.3 724.3 L1455.7 724.7 L1456.1 724.7 L1456.5 725.3 L1456.9 724.6 L1457.3 724.4 L1457.7 724.7 L1458.1 724.1 L1458.5 724.3 L1458.9 724.7 L1459.3 725.2 L1459.7 724.5 L1460.1 724.9 L1460.5 725.4 L1460.9 724.5 L1461.3 723.9 L1461.7 724.0 L1462.1 723.7 L1462.5 724.1 L1462.9 724.7 L1463.3 724.3 L1463.7 725.2 L1464.1 725.0 L1464.5 724.1 L1464.9 724.0 L1465.3 724.3 L1465.7 724.2 L1466.1 724.1 L1466.5 723.4 L1466.9 723.9 L1467.3 723.6 L1467.7 724.3 L1468.1 724.3 L1468.5 724.3 L1468.9 724.6 L1469.3 724.6 L1469.7 724.0 L1470.1 723.8 L1470.5 723.3 L1470.9 723.5 L1471.3 723.5 L1471.7 723.9 L1472.1 723.7 L1472.5 723.3 L1472.9 724.1 L1473.3 724.5 L1473.7 723.4 L1474.1 723.3 L1474.5 723.7 L1474.9 723.5 L1475.3 723.7 L1475.7 724.4 L1476.1 723.7 L1476.5 724.0 L1476.9 723.5 L1477.3 724.5 L1477.7 723.3 L1478.1 723.3 L1478.5 723.2 L1478.9 724.1 L1479.3 724.4 L1479.7 724.4 L1480.1 723.8 L1480.5 723.4 L1480.9 723.4 L1481.3 724.0 L1481.7 724.5 L1482.1 723.6 L1482.5 724.4 L1482.9 724.3 L1483.3 723.6 L1483.7 724.2 L1484.1 723.5 L1484.5 724.2 L1484.9 723.9 L1485.3 723.5 L1485.7 724.2 L1486.1 723.5 L1486.5 723.3 L1486.9 724.6 L1487.3 725.0 L1487.7 724.8 L1488.1 724.8 L1488.5 723.9 L1488.9 724.1 L1489.3 725.0 L1489.7 725.1 L1490.1 724.8 L1490.5 725.1 L1490.9 724.5 L1491.3 725.1 L1491.7 724.1 L1492.1 725.0 L1492.5 725.0 L1492.9 724.6 L1493.3 724.5 L1493.7 723.9 L1494.1 724.0 L1494.5 724.7 L1494.9 723.9 L1495.3 724.3 L1495.7 724.4 L1496.1 723.6 L1496.5 724.2 L1496.9 724.0 L1497.3 724.1 L1497.7 724.9 L1498.1 724.8 L1498.5 723.8 L1498.9 723.7 L1499.3 724.4 L1499.7 723.5 L1500.1 723.4 L1500.5 723.8 L1500.9 724.0 L1501.3 724.7 L1501.7 724.7 L1502.1 724.0 L1502.5 723.4 L1502.9 723.3 L1503.3 723.2 L1503.7 723.1 L1504.1 723.5 L1504.5 723.5 L1504.9 723.3 L1505.3 723.7 L1505.7 723.8 L1506.1 724.5 L1506.5 724.6 L1506.9 723.5 L1507.3 723.6 L1507.7 723.3 L1508.1 723.6 L1508.5 724.5 L1508.9 723.7 L1509.3 724.7 L1509.7 724.6 L1510.1 724.9 L1510.5 724.8 L1510.9 724.8 L1511.3 725.2 L1511.7 725.2 L1512.1 725.4 L1512.5 724.1 L1512.9 724.0 L1513.3 724.7 L1513.7 724.9 L1514.1 725.0 L1514.5 724.4 L1514.9 724.2 L1515.3 724.2 L1515.7 724.3 L1516.1 724.7 L1516.5 724.6 L1516.9 723.7 L1517.3 724.1 L1517.7 723.5 L1518.1 723.6 L1518.5 723.6 L1518.9 723.9 L1519.3 723.4 L1519.7 723.8 L1520.1 724.1 L1520.5 724.2 L1520.9 722.7 L1521.3 723.0 L1521.7 722.9 L1522.1 722.9 L1522.5 723.1 L1522.9 722.8 L1523.3 722.1 L1523.7 721.8 L1524.1 722.7 L1524.5 723.1 L1524.9 722.6 L1525.3 721.8 L1525.7 721.4 L1526.1 721.6 L1526.5 721.3 L1526.9 721.3 L1527.0 721.9 L1527.3 721.5 L1527.7 722.1 L1528.1 722.7 L1528.5 722.8 L1528.9 722.3 L1529.3 723.3 L1529.7 722.6 L1530.1 722.7 L1530.5 722.9 L1530.9 724.2 L1531.3 724.0 L1531.7 724.0 L1532.1 724.3 L1532.5 723.7 L1532.9 723.7 L1533.3 724.7 L1533.7 724.7 L1534.1 724.5 L1534.5 725.6 L1534.9 726.0 L1535.3 726.2 L1535.7 725.8 L1536.1 725.0 L1536.5 725.0 L1536.9 724.5 L1537.3 724.9 L1537.7 724.5 L1538.1 725.3 L1538.5 725.6 L1538.9 724.6 L1539.3 724.7 L1539.7 725.1 L1540.1 724.4 L1540.5 724.9 L1540.9 725.3 L1541.3 724.6 L1541.7 725.3 L1542.1 724.5 L1542.5 724.7 L1542.9 725.2 L1543.3 724.8 L1543.7 725.1 L1544.1 724.5 L1544.5 724.9 L1544.9 724.8 L1545.3 724.7 L1545.7 723.8 L1546.1 724.6 L1546.5 724.4 L1546.9 724.4 L1547.3 724.0 L1547.7 724.6" fill="none" stroke="#ff0000" stroke-width="7.0" stroke-linejoin="round" stroke-linecap="butt" shape-rendering="crispEdges"/>
<path d="M192.5 1017.1 L192.9 1017.4 L193.3 1017.5 L193.7 1017.5 L194.1 1017.2 L194.5 1017.3 L194.9 1017.0 L195.3 1017.2 L195.7 1017.2 L196.1 1016.9 L196.5 1016.6 L196.9 1016.7 L197.3 1016.8 L197.7 1017.0 L198.1 1016.9 L198.5 1016.5 L198.9 1016.9 L199.3 1016.6 L199.7 1016.9 L200.1 1016.7 L200.5 1016.7 L200.9 1016.9 L201.3 1016.6 L201.7 1016.5 L202.1 1016.7 L202.5 1016.8 L202.9 1016.9 L203.3 1016.8 L203.7 1016.9 L204.1 1016.6 L204.5 1016.7 L204.9 1016.2 L205.3 1016.0 L205.7 1016.1 L206.1 1015.9 L206.5 1016.0 L206.9 1015.9 L207.3 1015.8 L207.7 1015.9 L208.1 1015.7 L208.5 1015.4 L208.9 1015.3 L209.3 1015.5 L209.7 1015.6 L210.1 1015.1 L210.5 1015.3 L210.9 1015.3 L211.3 1015.0 L211.7 1014.9 L212.1 1014.6 L212.5 1014.6 L212.9 1014.5 L213.3 1014.5 L213.7 1014.1 L214.1 1014.4 L214.5 1014.2 L214.9 1014.0 L215.3 1014.1 L215.7 1013.9 L216.1 1013.8 L216.5 1013.8 L216.9 1013.3 L217.3 1013.4 L217.7 1013.3 L218.1 1013.6 L218.5 1013.6 L218.9 1013.1 L219.3 1013.0 L219.7 1012.8 L220.1 1012.8 L220.5 1013.0 L220.9 1013.1 L221.3 1012.8 L221.7 1012.6 L222.1 1012.4 L222.5 1012.6 L222.9 1012.8 L223.3 1012.3 L223.7 1012.0 L224.1 1010.9 L224.5 1010.1 L224.9 1009.4 L225.3 1008.8 L225.7 1007.9 L226.1 1007.1 L226.5 1006.5 L226.9 1005.4 L227.3 1004.9 L227.7 1003.8 L228.1 1003.2 L228.5 1002.3 L228.9 1001.4 L229.3 1000.7 L229.7 999.7 L230.1 998.7 L230.5 997.7 L230.9 996.8 L231.3 995.6 L231.7 994.6 L232.1 993.9 L232.5 993.0 L232.9 992.0 L233.3 991.2 L233.7 990.0 L234.1 987.9 L234.5 985.4 L234.9 983.4 L235.3 981.3 L235.7 976.5 L236.1 969.5 L236.5 962.8 L236.9 956.6 L237.3 950.0 L237.7 944.0 L238.1 937.8 L238.5 931.0 L238.9 924.6 L239.3 916.5 L239.7 896.1 L240.1 875.8 L240.5 856.0 L240.9 832.4 L241.3 808.1 L241.4 801.6 L241.7 820.1 L242.1 844.7 L242.5 901.2 L242.9 947.2 L243.3 971.9 L243.7 983.5 L244.1 986.9 L244.5 989.7 L244.9 993.0 L245.3 996.5 L245.7 999.6 L246.1 1003.2 L246.5 1005.6 L246.9 1005.5 L247.3 1005.5 L247.7 1005.5 L248.1 1005.9 L248.5 1003.1 L248.9 1000.2 L249.3 997.1 L249.7 994.0 L250.1 989.6 L250.5 985.6 L250.9 981.4 L251.3 977.0 L251.7 972.1 L252.1 967.6 L252.5 963.7 L252.9 959.1 L253.3 954.8 L253.7 950.1 L254.1 945.2 L254.5 940.4 L254.9 935.5 L255.3 930.7 L255.7 925.5 L256.1 920.9 L256.5 911.5 L256.9 901.4 L257.1 896.6 L257.3 902.8 L257.7 912.7 L258.1 918.3 L258.5 923.8 L258.9 929.2 L259.3 934.2 L259.7 941.1 L260.1 947.7 L260.5 954.1 L260.9 957.4 L261.3 960.3 L261.7 963.2 L262.1 964.9 L262.5 965.8 L262.9 967.2 L263.3 985.7 L263.7 995.2 L264.1 1002.5 L264.5 1004.0 L264.9 1005.6 L265.3 1006.9 L265.7 1007.0 L266.1 1007.6 L266.5 1008.0 L266.9 1008.1 L267.3 1008.2 L267.7 1008.3 L268.1 1008.2 L268.5 1008.4 L268.9 1008.2 L269.3 1008.3 L269.7 1008.5 L270.1 1008.4 L270.5 1008.6 L270.9 1009.0 L271.3 1009.1 L271.7 1008.8 L272.1 1009.0 L272.5 1008.5 L272.9 1007.4 L273.3 1006.6 L273.7 1005.4 L274.1 1004.3 L274.5 1003.1 L274.9 1004.6 L275.3 1005.6 L275.7 1007.1 L276.1 1008.4 L276.5 1009.6 L276.9 1010.1 L277.3 1011.1 L277.7 1011.6 L278.1 1011.8 L278.5 1012.1 L278.9 1012.0 L279.3 1012.2 L279.7 1012.4 L280.1 1012.4 L280.5 1012.5 L280.9 1013.0 L281.3 1013.0 L281.7 1013.0 L282.1 1013.3 L282.5 1013.1 L282.9 1013.4 L283.3 1013.2 L283.7 1013.3 L284.1 1012.9 L284.5 1013.1 L284.9 1013.2 L285.3 1012.8 L285.7 1012.9 L286.1 1012.3 L286.5 1012.0 L286.9 1011.5 L287.3 1011.1 L287.7 1010.8 L288.1 1010.1 L288.5 1010.3 L288.9 1009.9 L289.2 1009.8 L289.3 1009.9 L289.7 1009.9 L290.1 1010.0 L290.5 1010.8 L290.9 1011.4 L291.3 1011.7 L291.7 1012.3 L292.1 1012.6 L292.5 1012.5 L292.9 1012.6 L293.3 1012.5 L293.7 1012.4 L294.1 1012.4 L294.5 1012.0 L294.9 1011.7 L295.3 1011.2 L295.7 1010.4 L296.1 1010.8 L296.5 1010.8 L296.9 1010.7 L297.3 1011.4 L297.7 1011.5 L298.1 1012.2 L298.5 1013.1 L298.9 1013.4 L299.3 1014.0 L299.7 1014.7 L300.1 1015.1 L300.5 1015.3 L300.9 1015.6 L301.3 1015.6 L301.7 1015.6 L302.1 1015.3 L302.5 1015.5 L302.9 1015.5 L303.3 1015.4 L303.7 1015.3 L304.1 1015.6 L304.5 1015.5 L304.9 1015.7 L305.3 1015.9 L305.7 1015.9 L306.1 1015.9 L306.5 1016.1 L306.9 1016.1 L307.3 1016.4 L307.7 1016.3 L308.1 1016.7 L308.5 1016.8 L308.9 1016.7 L309.3 1016.4 L309.7 1016.3 L310.1 1016.8 L310.5 1016.6 L310.9 1016.2 L311.3 1015.3 L311.7 1014.1 L312.1 1012.9 L312.5 1011.7 L312.9 1010.2 L313.3 1008.8 L313.7 1010.5 L314.1 1011.8 L314.5 1013.1 L314.9 1015.0 L315.3 1016.4 L315.7 1017.2 L316.1 1017.2 L316.5 1017.4 L316.9 1017.6 L317.3 1017.8 L317.7 1018.1 L318.1 1017.9 L318.5 1018.2 L318.9 1018.0 L319.3 1018.0 L319.7 1018.3 L320.1 1018.4 L320.5 1017.9 L320.9 1017.3 L321.3 1016.6 L321.7 1015.7 L322.1 1014.9 L322.5 1014.8 L322.9 1014.8 L323.1 1014.2 L323.3 1014.3 L323.7 1014.8 L324.1 1015.2 L324.5 1016.1 L324.9 1016.6 L325.3 1017.3 L325.7 1017.8 L326.1 1018.7 L326.5 1018.5 L326.9 1018.7 L327.3 1018.9 L327.7 1018.6 L328.1 1018.7 L328.5 1018.9 L328.9 1019.1 L329.3 1018.9 L329.7 1018.8 L330.1 1018.6 L330.5 1019.0 L330.9 1018.6 L331.3 1018.5 L331.7 1018.8 L332.1 1018.8 L332.5 1018.9 L332.9 1018.7 L333.3 1018.9 L333.7 1018.5 L334.1 1017.8 L334.5 1017.2 L334.9 1015.2 L335.3 1012.8 L335.7 1009.8 L336.1 1006.2 L336.5 1002.4 L336.9 998.6 L337.3 1002.3 L337.7 1006.1 L338.1 1009.6 L338.5 1012.6 L338.9 1015.7 L339.3 1017.4 L339.7 1018.5 L340.1 1019.2 L340.5 1019.2 L340.9 1019.0 L341.3 1019.1 L341.7 1018.8 L342.1 1018.7 L342.5 1018.7 L342.9 1018.9 L343.3 1018.9 L343.7 1018.5 L344.1 1018.5 L344.5 1018.4 L344.9 1018.3 L345.3 1018.3 L345.7 1018.2 L346.1 1018.0 L346.5 1018.1 L346.9 1018.3 L347.3 1018.1 L347.7 1016.7 L348.1 1015.0 L348.5 1010.9 L348.9 1006.3 L349.3 1000.0 L349.7 993.3 L350.1 986.8 L350.2 985.4 L350.5 990.2 L350.9 996.7 L351.3 1003.3 L351.7 1008.9 L352.1 1013.9 L352.5 1015.5 L352.9 1017.2 L353.3 1018.2 L353.7 1017.9 L354.1 1017.8 L354.5 1018.2 L354.9 1018.4 L355.3 1018.0 L355.7 1018.3 L356.1 1018.1 L356.5 1018.4 L356.9 1018.4 L357.3 1018.2 L357.7 1018.1 L358.1 1018.4 L358.5 1018.3 L358.9 1018.5 L359.3 1018.3 L359.7 1018.2 L360.1 1018.5 L360.5 1017.9 L360.9 1016.6 L361.3 1015.5 L361.7 1014.5 L362.1 1012.0 L362.5 1008.5 L362.9 1004.6 L363.3 1000.4 L363.7 995.6 L364.1 990.9 L364.5 986.2 L364.9 981.5 L365.3 976.8 L365.7 981.5 L366.1 986.0 L366.5 990.6 L366.9 995.5 L367.3 1000.3 L367.7 1004.4 L368.1 1008.0 L368.5 1011.4 L368.9 1014.0 L369.3 1015.3 L369.7 1016.2 L370.1 1017.1 L370.5 1017.6 L370.9 1017.7 L371.3 1017.7 L371.7 1018.2 L372.1 1017.8 L372.5 1018.0 L372.9 1018.0 L373.3 1018.5 L373.7 1018.8 L374.1 1018.7 L374.5 1018.7 L374.9 1019.1 L375.3 1019.4 L375.7 1019.8 L376.1 1018.2 L376.5 1016.9 L376.9 1013.6 L377.3 1009.3 L377.7 1004.1 L378.1 998.7 L378.5 993.2 L378.8 988.8 L378.9 990.3 L379.3 996.7 L379.7 1003.0 L380.1 1009.6 L380.5 1014.4 L380.9 1018.6 L381.3 1020.3 L381.7 1021.4 L382.1 1021.3 L382.5 1021.7 L382.9 1021.9 L383.3 1021.7 L383.7 1020.1 L384.1 1018.7 L384.5 1013.1 L384.9 1007.2 L385.3 999.9 L385.7 993.3 L386.1 986.4 L386.5 992.6 L386.9 999.2 L387.3 1005.7 L387.7 1011.4 L388.1 1016.8 L388.5 1020.4 L388.9 1021.7 L389.3 1022.8 L389.7 1023.1 L390.1 1023.1 L390.5 1023.5 L390.9 1023.6 L391.3 1023.6 L391.7 1023.3 L392.1 1023.3 L392.5 1023.4 L392.9 1023.4 L393.3 1023.8 L393.7 1023.7 L394.1 1023.5 L394.5 1022.4 L394.9 1020.8 L395.3 1018.9 L395.7 1016.9 L396.1 1015.5 L396.5 1014.5 L396.9 1014.3 L397.0 1014.3 L397.3 1014.7 L397.7 1014.8 L398.1 1015.3 L398.5 1016.8 L398.9 1017.9 L399.3 1019.5 L399.7 1021.1 L400.1 1022.4 L400.5 1023.3 L400.9 1024.4 L401.3 1024.4 L401.7 1024.7 L402.1 1024.6 L402.5 1024.9 L402.9 1024.6 L403.3 1025.0 L403.7 1024.7 L404.1 1024.7 L404.5 1024.6 L404.9 1024.3 L405.3 1024.5 L405.7 1024.2 L406.1 1023.9 L406.5 1023.2 L406.9 1022.6 L407.3 1022.2 L407.7 1021.6 L408.1 1020.6 L408.5 1019.9 L408.9 1018.9 L409.3 1018.6 L409.7 1018.3 L410.0 1018.4 L410.1 1018.4 L410.5 1018.6 L410.9 1018.4 L411.3 1019.3 L411.7 1020.3 L412.1 1020.8 L412.5 1021.5 L412.9 1022.1 L413.3 1021.9 L413.7 1022.3 L414.1 1022.3 L414.5 1021.8 L414.9 1022.1 L415.3 1022.0 L415.7 1021.7 L416.1 1021.4 L416.5 1020.8 L416.9 1020.2 L417.3 1018.5 L417.7 1017.1 L418.1 1015.3 L418.5 1013.1 L418.9 1011.4 L419.3 1009.1 L419.7 1007.4 L420.1 1005.2 L420.3 1004.3 L420.5 1006.2 L420.9 1010.8 L421.3 1014.9 L421.7 1018.5 L422.1 1021.9 L422.5 1023.4 L422.9 1024.4 L423.3 1024.2 L423.7 1024.3 L424.1 1024.7 L424.5 1024.7 L424.9 1024.4 L425.3 1024.5 L425.7 1024.6 L426.1 1024.6 L426.5 1024.9 L426.9 1024.8 L427.3 1025.3 L427.7 1025.3 L428.1 1025.3 L428.5 1025.5 L428.9 1025.6 L429.3 1025.8 L429.7 1025.6 L430.1 1025.5 L430.5 1025.6 L430.9 1025.4 L431.3 1025.6 L431.7 1025.8 L432.1 1026.1 L432.5 1026.0 L432.9 1025.8 L433.3 1025.7 L433.7 1025.3 L434.1 1025.3 L434.5 1025.3 L434.9 1025.5 L435.3 1025.2 L435.7 1025.3 L436.1 1025.4 L436.5 1025.6 L436.9 1025.7 L437.3 1025.6 L437.7 1025.3 L438.1 1025.6 L438.5 1025.8 L438.9 1025.7 L439.3 1025.5 L439.7 1025.5 L440.1 1025.3 L440.5 1025.5 L440.9 1025.7 L441.3 1025.5 L441.7 1025.5 L442.1 1025.5 L442.5 1025.1 L442.9 1025.4 L443.3 1025.1 L443.7 1023.9 L444.1 1022.6 L444.5 1019.5 L444.9 1016.5 L445.3 1012.8 L445.7 1008.8 L446.1 1005.3 L446.5 1008.8 L446.9 1012.6 L447.3 1016.2 L447.7 1019.8 L448.1 1022.7 L448.5 1024.1 L448.9 1024.8 L449.3 1025.0 L449.7 1025.0 L450.1 1024.8 L450.5 1025.1 L450.9 1025.3 L451.3 1025.2 L451.7 1025.0 L452.1 1024.7 L452.5 1025.0 L452.9 1024.7 L453.3 1025.0 L453.7 1024.7 L454.1 1024.8 L454.5 1025.0 L454.9 1024.6 L455.3 1024.7 L455.7 1024.5 L456.1 1024.3 L456.5 1024.4 L456.9 1024.8 L457.3 1024.9 L457.7 1024.7 L458.1 1024.4 L458.5 1024.5 L458.9 1024.5 L459.3 1024.3 L459.7 1024.3 L460.1 1024.4 L460.5 1023.9 L460.9 1023.8 L461.3 1023.9 L461.7 1023.0 L462.1 1022.2 L462.5 1021.5 L462.9 1020.5 L463.3 1019.6 L463.7 1017.8 L464.1 1016.3 L464.5 1012.8 L464.9 1009.5 L465.3 1004.9 L465.7 1001.0 L466.1 996.6 L466.3 994.9 L466.5 996.3 L466.9 999.1 L467.3 1001.9 L467.7 1004.7 L468.1 1006.5 L468.5 1007.4 L468.9 1007.5 L469.3 1007.0 L469.7 1006.4 L470.1 1005.6 L470.5 1004.8 L470.9 1004.7 L471.3 1005.3 L471.7 1006.0 L472.1 1006.8 L472.5 1006.9 L472.9 1006.0 L473.3 1004.5 L473.7 1001.1 L474.1 996.0 L474.5 990.0 L474.9 984.6 L475.2 980.6 L475.3 982.1 L475.7 988.4 L476.1 994.9 L476.5 1001.0 L476.9 1006.5 L477.3 1010.8 L477.7 1013.3 L478.1 1015.5 L478.5 1017.0 L478.9 1017.6 L479.3 1018.0 L479.7 1019.0 L480.1 1019.7 L480.5 1020.2 L480.9 1020.7 L481.3 1020.8 L481.7 1020.8 L482.1 1020.8 L482.5 1021.4 L482.9 1021.6 L483.3 1021.5 L483.7 1021.7 L484.1 1021.4 L484.5 1021.2 L484.9 1020.5 L485.3 1020.4 L485.7 1019.9 L486.1 1019.7 L486.5 1018.9 L486.9 1018.8 L487.3 1018.1 L487.7 1017.9 L488.1 1017.8 L488.5 1016.9 L488.9 1016.3 L489.3 1015.7 L489.7 1015.2 L490.1 1014.3 L490.5 1014.1 L490.9 1013.5 L491.3 1012.8 L491.7 1012.3 L492.0 1012.2 L492.1 1011.8 L492.5 1011.7 L492.9 1012.2 L493.3 1012.2 L493.7 1012.5 L494.1 1012.8 L494.5 1013.0 L494.9 1012.5 L495.3 1012.0 L495.7 1011.6 L496.1 1011.8 L496.5 1012.1 L496.9 1011.8 L497.3 1011.8 L497.7 1011.2 L498.1 1010.0 L498.5 1008.2 L498.9 1006.1 L499.3 1004.1 L499.7 1001.6 L499.8 1001.2 L500.1 1002.4 L500.5 1004.6 L500.9 1006.2 L501.3 1008.0 L501.7 1010.2 L502.1 1011.5 L502.5 1012.7 L502.9 1013.3 L503.3 1013.8 L503.7 1013.6 L504.1 1013.9 L504.5 1014.3 L504.9 1014.2 L505.3 1014.1 L505.7 1014.2 L506.1 1014.2 L506.5 1013.6 L506.9 1012.6 L507.3 1011.7 L507.7 1010.8 L508.1 1010.3 L508.5 1009.6 L508.9 1008.5 L509.3 1007.2 L509.7 1005.6 L510.1 1002.9 L510.5 1000.0 L510.9 997.4 L511.3 995.1 L511.7 985.7 L512.1 975.6 L512.5 959.9 L512.9 937.6 L513.3 912.8 L513.7 884.1 L514.1 855.6 L514.5 823.4 L514.9 789.7 L515.3 743.6 L515.5 718.2 L515.7 756.7 L516.1 765.7 L516.5 765.4 L516.9 768.0 L517.3 770.8 L517.7 773.1 L518.1 775.4 L518.5 778.0 L518.9 780.2 L519.3 782.9 L519.7 785.5 L520.1 823.0 L520.5 870.4 L520.9 907.4 L521.3 938.4 L521.7 953.5 L522.1 968.1 L522.5 982.6 L522.9 998.3 L523.3 991.6 L523.7 985.5 L524.1 979.7 L524.5 969.1 L524.9 956.6 L525.3 944.2 L525.7 922.2 L526.1 898.9 L526.5 912.0 L526.9 927.7 L527.3 945.0 L527.7 962.9 L528.1 973.6 L528.5 974.0 L528.9 974.1 L529.3 974.5 L529.7 966.6 L530.1 954.8 L530.5 943.0 L530.9 920.3 L531.3 892.5 L531.6 866.0 L531.7 869.9 L532.1 884.6 L532.5 899.1 L532.9 917.7 L533.3 936.7 L533.7 955.6 L534.1 970.3 L534.5 981.1 L534.9 992.1 L535.3 1003.3 L535.7 1002.7 L536.1 995.3 L536.5 988.1 L536.9 980.8 L537.3 973.9 L537.7 966.4 L538.1 959.6 L538.5 952.3 L538.9 945.1 L539.3 938.1 L539.7 930.6 L540.0 925.1 L540.1 927.6 L540.5 936.9 L540.9 946.5 L541.3 956.2 L541.7 964.6 L542.1 969.6 L542.5 974.9 L542.9 979.8 L543.3 985.3 L543.7 990.2 L544.1 995.3 L544.5 997.6 L544.9 999.4 L545.3 1001.1 L545.7 1002.6 L546.1 1003.6 L546.5 1005.2 L546.9 1006.7 L547.3 1007.3 L547.7 1008.5 L548.1 1008.9 L548.5 1010.0 L548.9 1011.2 L549.3 1012.4 L549.7 1012.9 L550.1 1013.7 L550.5 1014.3 L550.9 1014.3 L551.3 1014.7 L551.7 1015.5 L552.1 1015.5 L552.5 1015.9 L552.9 1016.2 L553.3 1016.6 L553.7 1016.7 L554.1 1016.9 L554.5 1017.8 L554.9 1018.1 L555.3 1018.4 L555.7 1017.6 L556.1 1016.2 L556.5 1015.1 L556.9 1013.7 L557.3 1012.1 L557.7 1010.7 L558.1 1008.6 L558.5 1005.9 L558.9 1003.6 L559.3 1000.5 L559.7 997.1 L560.1 994.2 L560.5 991.3 L560.7 989.5 L560.9 990.1 L561.3 991.3 L561.7 992.6 L562.1 993.5 L562.5 994.4 L562.9 994.7 L563.3 993.9 L563.7 993.6 L564.1 992.9 L564.5 994.1 L564.9 994.6 L565.3 994.8 L565.7 994.2 L566.1 993.2 L566.5 991.9 L566.9 990.8 L567.3 989.7 L567.7 993.6 L568.1 997.2 L568.5 1001.0 L568.9 1005.0 L569.3 1008.0 L569.7 1010.4 L570.1 1011.9 L570.5 1013.5 L570.9 1013.0 L571.3 1013.0 L571.7 1012.6 L572.1 1012.2 L572.5 1011.7 L572.9 1011.5 L573.3 1011.3 L573.7 1011.2 L574.1 1011.3 L574.5 1010.7 L574.9 1009.7 L575.3 1009.0 L575.7 1008.1 L576.1 1007.6 L576.5 1006.4 L576.9 1005.6 L577.3 1005.4 L577.7 1005.0 L578.1 1004.0 L578.3 1003.8 L578.5 1003.9 L578.9 1003.8 L579.3 1003.9 L579.7 1004.3 L580.1 1005.2 L580.5 1005.6 L580.9 1005.7 L581.3 1006.2 L581.7 1006.0 L582.1 1005.9 L582.5 1006.0 L582.9 1006.4 L583.3 1006.0 L583.7 1005.5 L584.1 1004.6 L584.5 1003.0 L584.9 1000.3 L585.3 997.8 L585.7 994.9 L586.0 993.0 L586.1 993.8 L586.5 996.5 L586.9 999.4 L587.3 1002.4 L587.7 1004.8 L588.1 1006.7 L588.5 1007.4 L588.9 1008.5 L589.3 1008.3 L589.7 1008.3 L590.1 1008.4 L590.5 1008.7 L590.9 1009.1 L591.3 1009.6 L591.7 1010.4 L592.1 1010.7 L592.5 1011.0 L592.9 1010.7 L593.3 1009.5 L593.7 1008.6 L594.1 1007.5 L594.5 1005.9 L594.7 1005.5 L594.9 1006.4 L595.3 1008.5 L595.7 1010.3 L596.1 1011.8 L596.5 1013.5 L596.9 1014.8 L597.3 1016.4 L597.7 1017.3 L598.1 1017.9 L598.5 1018.8 L598.9 1019.3 L599.3 1019.9 L599.7 1020.3 L600.1 1020.7 L600.5 1021.3 L600.9 1021.9 L601.3 1022.2 L601.7 1022.5 L602.1 1022.4 L602.5 1022.3 L602.9 1022.4 L603.3 1022.5 L603.7 1022.5 L604.1 1022.7 L604.5 1022.9 L604.9 1022.1 L605.3 1021.5 L605.7 1020.4 L606.1 1019.8 L606.5 1019.0 L606.9 1018.1 L607.3 1017.2 L607.7 1016.0 L608.1 1015.2 L608.5 1014.6 L608.9 1014.2 L609.3 1013.8 L609.7 1013.4 L610.0 1012.9 L610.1 1013.2 L610.5 1014.0 L610.9 1014.3 L611.3 1014.5 L611.7 1015.0 L612.1 1015.7 L612.5 1016.8 L612.9 1018.0 L613.3 1019.2 L613.7 1020.0 L614.1 1020.9 L614.5 1021.9 L614.9 1022.6 L615.3 1023.3 L615.7 1024.0 L616.1 1024.4 L616.5 1024.5 L616.9 1024.5 L617.3 1024.9 L617.7 1025.2 L618.1 1025.0 L618.5 1025.4 L618.9 1025.1 L619.3 1025.1 L619.7 1025.5 L620.1 1025.5 L620.5 1025.5 L620.9 1025.9 L621.3 1025.5 L621.7 1025.4 L622.1 1025.4 L622.5 1025.6 L622.9 1025.4 L623.3 1025.2 L623.7 1025.4 L624.1 1025.3 L624.5 1025.1 L624.9 1025.2 L625.3 1023.7 L625.7 1022.1 L626.1 1017.5 L626.5 1012.4 L626.9 1006.5 L627.3 1000.1 L627.7 993.2 L628.0 988.3 L628.1 990.3 L628.5 996.8 L628.9 1003.8 L629.3 1010.7 L629.7 1016.0 L630.1 1021.4 L630.5 1022.9 L630.9 1024.0 L631.3 1024.1 L631.7 1024.0 L632.1 1023.9 L632.5 1023.6 L632.9 1023.4 L633.3 1023.6 L633.7 1023.6 L634.1 1023.4 L634.5 1023.4 L634.9 1023.4 L635.3 1022.9 L635.7 1021.0 L636.1 1018.7 L636.5 1016.5 L636.9 1013.6 L637.3 1008.0 L637.7 1002.8 L638.1 995.2 L638.5 990.9 L638.9 986.8 L639.2 981.9 L639.3 982.1 L639.7 983.9 L640.1 985.6 L640.5 986.8 L640.9 988.8 L641.3 991.0 L641.7 993.2 L642.1 995.0 L642.5 997.2 L642.9 999.5 L643.3 1002.4 L643.7 1006.0 L644.1 1007.9 L644.5 1009.0 L644.9 1009.9 L645.3 1010.8 L645.7 1011.4 L646.1 1012.1 L646.5 1012.3 L646.9 1012.1 L647.3 1012.0 L647.7 1011.8 L648.1 1011.2 L648.5 1011.0 L648.9 1011.0 L649.3 1013.1 L649.7 1018.7 L650.1 1020.6 L650.5 1022.5 L650.9 1023.8 L651.3 1024.9 L651.7 1025.4 L652.1 1026.6 L652.5 1026.8 L652.9 1026.9 L653.3 1026.9 L653.7 1027.3 L654.1 1027.5 L654.5 1027.0 L654.9 1027.4 L655.3 1027.0 L655.7 1026.6 L656.1 1026.6 L656.5 1026.7 L656.9 1026.8 L657.3 1026.2 L657.7 1026.0 L658.1 1025.7 L658.5 1025.8 L658.9 1025.7 L659.3 1025.6 L659.7 1025.2 L660.1 1024.9 L660.5 1024.5 L660.9 1023.5 L661.3 1022.8 L661.7 1022.2 L662.1 1021.7 L662.5 1021.5 L662.9 1020.3 L663.0 1020.3 L663.3 1021.0 L663.7 1021.4 L664.1 1021.7 L664.5 1022.4 L664.9 1022.9 L665.3 1023.9 L665.7 1023.7 L666.1 1023.6 L666.5 1023.2 L666.9 1023.0 L667.3 1022.6 L667.7 1023.1 L668.1 1023.1 L668.5 1023.5 L668.9 1023.6 L669.3 1023.7 L669.7 1023.7 L670.1 1023.3 L670.5 1022.2 L670.9 1020.0 L671.3 1017.7 L671.7 1015.7 L672.1 1013.1 L672.3 1011.7 L672.5 1013.2 L672.9 1016.3 L673.3 1019.7 L673.7 1022.1 L674.1 1024.8 L674.5 1026.2 L674.9 1027.0 L675.3 1027.8 L675.7 1027.9 L676.1 1027.9 L676.5 1028.4 L676.9 1028.8 L677.3 1029.0 L677.7 1029.1 L678.1 1029.6 L678.5 1029.9 L678.9 1030.3 L679.3 1030.0 L679.7 1029.9 L680.1 1029.6 L680.5 1028.6 L680.9 1027.6 L681.3 1026.9 L681.7 1026.0 L682.1 1026.9 L682.5 1027.9 L682.9 1029.1 L683.3 1029.6 L683.7 1030.1 L684.1 1030.0 L684.5 1030.2 L684.9 1030.7 L685.3 1030.3 L685.7 1030.6 L686.1 1030.9 L686.5 1031.0 L686.9 1031.0 L687.3 1030.8 L687.7 1030.8 L688.1 1030.3 L688.5 1029.8 L688.9 1028.4 L689.3 1026.6 L689.7 1024.9 L690.1 1022.4 L690.5 1020.3 L690.9 1017.9 L691.0 1017.7 L691.3 1019.0 L691.7 1021.5 L692.1 1023.7 L692.5 1026.1 L692.9 1027.4 L693.3 1029.4 L693.7 1030.6 L694.1 1031.1 L694.5 1031.8 L694.9 1031.8 L695.3 1031.8 L695.7 1032.3 L696.1 1032.2 L696.5 1032.1 L696.9 1032.3 L697.3 1032.6 L697.7 1032.4 L698.1 1032.6 L698.5 1032.5 L698.9 1032.5 L699.3 1032.2 L699.7 1032.0 L700.1 1031.8 L700.5 1031.3 L700.9 1030.8 L701.3 1029.8 L701.7 1029.2 L702.1 1028.4 L702.5 1028.0 L702.9 1027.7 L703.0 1027.9 L703.3 1027.5 L703.7 1027.9 L704.1 1027.7 L704.5 1027.9 L704.9 1027.9 L705.3 1028.7 L705.7 1028.9 L706.1 1029.5 L706.5 1029.5 L706.9 1029.7 L707.3 1030.2 L707.7 1030.2 L708.1 1030.4 L708.5 1030.7 L708.9 1030.9 L709.3 1030.6 L709.7 1030.5 L710.1 1030.6 L710.5 1031.0 L710.9 1030.7 L711.3 1031.0 L711.7 1031.0 L712.1 1031.1 L712.5 1031.0 L712.9 1031.2 L713.3 1031.4 L713.7 1031.5 L714.1 1031.4 L714.5 1031.2 L714.9 1031.2 L715.3 1030.9 L715.7 1031.2 L716.1 1031.2 L716.5 1031.0 L716.9 1031.0 L717.3 1030.6 L717.7 1029.9 L718.1 1029.1 L718.5 1028.2 L718.9 1026.7 L719.3 1025.7 L719.7 1023.0 L720.1 1020.9 L720.2 1020.3 L720.5 1021.1 L720.9 1022.2 L721.3 1023.5 L721.7 1024.2 L722.1 1025.2 L722.5 1025.9 L722.9 1026.2 L723.3 1026.4 L723.7 1026.9 L724.1 1027.1 L724.5 1027.2 L724.9 1027.8 L725.3 1027.7 L725.7 1028.5 L726.1 1028.6 L726.5 1028.8 L726.9 1029.4 L727.3 1029.5 L727.7 1028.7 L728.1 1027.6 L728.5 1027.2 L728.9 1026.7 L729.0 1026.8 L729.3 1026.6 L729.7 1027.2 L730.1 1027.5 L730.5 1028.1 L730.9 1029.2 L731.3 1029.7 L731.7 1030.3 L732.1 1031.0 L732.5 1030.6 L732.9 1030.6 L733.3 1030.8 L733.7 1030.5 L734.1 1030.7 L734.5 1030.9 L734.9 1030.8 L735.3 1030.6 L735.7 1030.9 L736.1 1031.0 L736.5 1031.0 L736.9 1030.9 L737.3 1031.1 L737.7 1031.1 L738.1 1030.7 L738.5 1030.7 L738.9 1030.6 L739.3 1030.5 L739.7 1030.7 L740.1 1031.0 L740.5 1031.1 L740.9 1030.5 L741.3 1029.7 L741.7 1029.0 L742.1 1028.3 L742.5 1027.1 L742.9 1026.7 L743.3 1025.8 L743.7 1025.9 L743.8 1025.5 L744.1 1025.9 L744.5 1026.6 L744.9 1027.3 L745.3 1028.0 L745.7 1029.4 L746.1 1030.3 L746.5 1030.9 L746.9 1031.7 L747.3 1031.8 L747.7 1031.4 L748.1 1029.9 L748.5 1028.8 L748.9 1027.4 L749.3 1025.3 L749.7 1023.3 L750.1 1021.7 L750.5 1020.4 L750.9 1019.6 L751.3 1018.8 L751.5 1019.0 L751.7 1019.2 L752.1 1019.6 L752.5 1020.1 L752.9 1021.2 L753.3 1022.9 L753.7 1024.5 L754.1 1026.0 L754.5 1027.5 L754.9 1028.8 L755.3 1029.8 L755.7 1031.3 L756.1 1032.1 L756.5 1032.3 L756.9 1032.1 L757.3 1032.1 L757.7 1032.0 L758.1 1032.3 L758.5 1031.9 L758.9 1032.0 L759.3 1031.7 L759.7 1031.8 L760.1 1031.6 L760.5 1031.9 L760.9 1031.6 L761.3 1031.8 L761.7 1031.8 L762.1 1031.6 L762.5 1031.9 L762.9 1031.7 L763.3 1031.9 L763.7 1031.9 L764.1 1031.9 L764.5 1031.8 L764.9 1032.0 L765.3 1032.1 L765.7 1032.3 L766.1 1032.7 L766.5 1032.6 L766.9 1032.8 L767.3 1033.0 L767.7 1032.8 L768.1 1033.0 L768.5 1032.9 L768.9 1033.4 L769.3 1033.2 L769.7 1033.2 L770.1 1033.2 L770.5 1033.0 L770.9 1032.7 L771.3 1032.0 L771.7 1031.5 L772.1 1030.7 L772.5 1030.5 L772.9 1029.4 L773.3 1028.6 L773.7 1028.0 L774.1 1027.5 L774.5 1026.9 L774.9 1026.3 L775.3 1026.3 L775.7 1026.2 L776.1 1025.5 L776.5 1025.5 L776.6 1025.4 L776.9 1025.5 L777.3 1025.9 L777.7 1026.1 L778.1 1026.6 L778.5 1027.0 L778.9 1028.0 L779.3 1028.8 L779.7 1029.6 L780.1 1030.0 L780.5 1030.9 L780.9 1031.4 L781.3 1032.0 L781.7 1032.7 L782.1 1032.7 L782.5 1033.4 L782.9 1033.5 L783.3 1033.7 L783.7 1033.5 L784.1 1033.9 L784.5 1033.6 L784.9 1033.7 L785.3 1033.6 L785.7 1033.8 L786.1 1034.1 L786.5 1033.9 L786.9 1033.9 L787.3 1034.3 L787.7 1034.4 L788.1 1034.6 L788.5 1034.4 L788.9 1034.8 L789.3 1034.8 L789.7 1034.9 L790.1 1034.6 L790.5 1034.7 L790.9 1034.5 L791.3 1035.0 L791.7 1035.2 L792.1 1035.2 L792.5 1034.7 L792.9 1034.7 L793.3 1034.8 L793.7 1034.9 L794.1 1034.6 L794.5 1035.0 L794.9 1034.8 L795.3 1034.8 L795.7 1034.6 L796.1 1034.7 L796.5 1034.5 L796.9 1034.4 L797.3 1034.6 L797.7 1034.5 L798.1 1034.8 L798.5 1034.5 L798.9 1034.5 L799.3 1034.2 L799.7 1034.2 L800.1 1034.3 L800.5 1034.3 L800.9 1034.2 L801.3 1034.4 L801.7 1033.9 L802.1 1034.2 L802.5 1033.8 L802.9 1034.1 L803.3 1033.9 L803.7 1033.8 L804.1 1033.9 L804.5 1034.1 L804.9 1034.2 L805.3 1033.9 L805.7 1033.7 L806.1 1033.7 L806.5 1034.2 L806.9 1034.4 L807.3 1034.6 L807.7 1034.4 L808.1 1034.6 L808.5 1034.5 L808.9 1034.6 L809.3 1034.9 L809.7 1035.4 L810.1 1035.5 L810.5 1035.7 L810.9 1035.3 L811.3 1035.4 L811.7 1035.3 L812.1 1035.4 L812.5 1035.3 L812.9 1035.8 L813.3 1035.5 L813.7 1035.5 L814.1 1035.6 L814.5 1035.7 L814.9 1035.7 L815.3 1035.4 L815.7 1035.2 L816.1 1035.4 L816.5 1035.1 L816.9 1034.9 L817.3 1035.1 L817.7 1034.8 L818.1 1034.8 L818.5 1034.8 L818.9 1034.9 L819.3 1034.8 L819.7 1034.8 L820.1 1034.9 L820.5 1034.6 L820.9 1035.1 L821.3 1034.7 L821.7 1034.9 L822.1 1035.0 L822.5 1034.9 L822.9 1034.8 L823.3 1034.7 L823.7 1034.9 L824.1 1034.9 L824.5 1035.0 L824.9 1034.9 L825.3 1035.2 L825.7 1035.1 L826.1 1034.8 L826.5 1035.0 L826.9 1035.4 L827.3 1035.0 L827.7 1035.3 L828.1 1035.6 L828.5 1035.4 L828.9 1035.6 L829.3 1035.5 L829.7 1035.5 L830.1 1035.8 L830.5 1035.9 L830.9 1035.7 L831.3 1035.9 L831.7 1035.9 L832.1 1036.1 L832.5 1035.8 L832.9 1035.8 L833.3 1035.9 L833.7 1035.9 L834.1 1036.3 L834.5 1036.2 L834.9 1036.4 L835.3 1036.2 L835.7 1036.0 L836.1 1036.2 L836.5 1035.9 L836.9 1036.3 L837.3 1036.3 L837.7 1036.0 L838.1 1035.9 L838.5 1036.2 L838.9 1036.2 L839.3 1036.2 L839.7 1035.8 L840.1 1036.1 L840.5 1035.8 L840.9 1036.1 L841.3 1036.1 L841.7 1036.4 L842.1 1036.3 L842.5 1035.9 L842.9 1036.3 L843.3 1036.3 L843.7 1036.3 L844.1 1035.9 L844.5 1036.3 L844.9 1036.2 L845.3 1036.3 L845.7 1036.6 L846.1 1036.6 L846.5 1036.2 L846.9 1036.5 L847.3 1036.4 L847.7 1036.6 L848.1 1036.4 L848.5 1036.5 L848.9 1036.5 L849.3 1036.3 L849.7 1036.4 L850.1 1036.7 L850.5 1036.4 L850.9 1036.3 L851.3 1036.8 L851.7 1036.8 L852.1 1036.8 L852.5 1036.5 L852.9 1036.4 L853.3 1036.5 L853.7 1037.0 L854.1 1036.9 L854.5 1037.1 L854.9 1036.8 L855.3 1036.8 L855.7 1036.9 L856.1 1037.2 L856.5 1036.8 L856.9 1037.2 L857.3 1037.1 L857.7 1036.8 L858.1 1037.0 L858.5 1037.0 L858.9 1037.2 L859.3 1037.5 L859.7 1037.3 L860.1 1037.4 L860.5 1037.2 L860.9 1037.4 L861.3 1037.1 L861.7 1037.4 L862.1 1037.2 L862.5 1037.4 L862.9 1037.3 L863.3 1037.4 L863.7 1037.3 L864.1 1037.5 L864.5 1037.7 L864.9 1037.8 L865.3 1037.8 L865.7 1037.9 L866.1 1038.2 L866.5 1038.0 L866.9 1038.1 L867.3 1038.1 L867.7 1038.4 L868.1 1038.1 L868.5 1038.2 L868.9 1037.9 L869.3 1037.9 L869.7 1038.1 L870.1 1038.1 L870.5 1037.8 L870.9 1037.6 L871.3 1038.0 L871.7 1037.8 L872.1 1037.9 L872.5 1037.8 L872.9 1037.8 L873.3 1037.8 L873.7 1038.1 L874.1 1038.1 L874.5 1037.8 L874.9 1037.8 L875.3 1037.6 L875.7 1037.9 L876.1 1037.7 L876.5 1037.7 L876.9 1038.1 L877.3 1037.8 L877.7 1038.1 L878.1 1038.2 L878.5 1038.2 L878.9 1038.1 L879.3 1037.9 L879.7 1038.2 L880.1 1038.1 L880.5 1037.9 L880.9 1037.4 L881.3 1037.5 L881.7 1037.1 L882.1 1036.8 L882.5 1036.7 L882.9 1036.6 L883.3 1036.1 L883.7 1036.1 L884.1 1035.8 L884.5 1035.8 L884.9 1035.7 L885.3 1035.6 L885.7 1035.3 L886.1 1035.5 L886.5 1035.5 L886.9 1035.1 L887.0 1035.4 L887.3 1035.5 L887.7 1035.4 L888.1 1035.5 L888.5 1035.5 L888.9 1036.1 L889.3 1036.4 L889.7 1036.9 L890.1 1037.3 L890.5 1037.7 L890.9 1038.3 L891.3 1038.6 L891.7 1038.9 L892.1 1039.2 L892.5 1039.7 L892.9 1040.2 L893.3 1040.0 L893.7 1040.3 L894.1 1040.4 L894.5 1040.3 L894.9 1040.2 L895.3 1040.3 L895.7 1040.2 L896.1 1040.2 L896.5 1040.4 L896.9 1040.4 L897.3 1040.1 L897.7 1039.9 L898.1 1040.4 L898.5 1040.2 L898.9 1040.4 L899.3 1040.1 L899.7 1040.2 L900.1 1040.2 L900.5 1040.4 L900.9 1040.6 L901.3 1040.3 L901.7 1040.3 L902.1 1040.1 L902.5 1039.9 L902.9 1040.2 L903.3 1039.8 L903.7 1040.1 L904.1 1039.9 L904.5 1039.4 L904.9 1039.7 L905.3 1039.2 L905.7 1039.3 L906.1 1039.0 L906.5 1039.3 L906.9 1038.9 L907.3 1039.1 L907.7 1038.6 L908.1 1038.8 L908.5 1038.5 L908.9 1038.3 L909.3 1038.6 L909.7 1038.0 L910.1 1037.0 L910.5 1036.1 L910.9 1034.8 L911.3 1033.3 L911.7 1031.6 L912.1 1029.6 L912.5 1027.3 L912.9 1025.4 L913.3 1022.8 L913.7 1020.3 L914.1 1017.6 L914.3 1016.6 L914.5 1016.9 L914.9 1017.5 L915.3 1018.0 L915.7 1018.8 L916.1 1019.4 L916.5 1020.0 L916.9 1020.2 L917.3 1019.5 L917.7 1019.0 L918.1 1018.5 L918.5 1018.7 L918.9 1019.3 L919.3 1019.3 L919.7 1019.4 L920.1 1018.3 L920.5 1016.2 L920.9 1014.4 L921.3 1011.4 L921.7 1009.1 L922.1 1006.8 L922.5 1004.5 L922.9 1008.2 L923.3 1012.0 L923.7 1016.0 L924.1 1019.3 L924.5 1022.7 L924.9 1026.5 L925.3 1028.5 L925.7 1029.7 L926.1 1031.5 L926.5 1032.6 L926.9 1032.7 L927.3 1033.1 L927.7 1034.1 L928.1 1034.8 L928.5 1035.3 L928.9 1035.9 L929.3 1036.1 L929.7 1036.2 L930.1 1035.7 L930.5 1035.7 L930.9 1036.1 L931.3 1036.4 L931.7 1036.4 L932.1 1036.2 L932.5 1036.1 L932.9 1036.1 L933.3 1035.9 L933.7 1036.4 L934.1 1036.2 L934.5 1036.4 L934.9 1036.4 L935.3 1036.4 L935.7 1036.6 L936.1 1036.4 L936.5 1035.7 L936.9 1035.5 L937.3 1034.6 L937.7 1033.8 L938.1 1033.0 L938.5 1032.5 L938.9 1032.1 L939.3 1031.7 L939.7 1031.4 L940.0 1031.4 L940.1 1031.3 L940.5 1031.7 L940.9 1031.9 L941.3 1032.6 L941.7 1032.8 L942.1 1033.5 L942.5 1034.6 L942.9 1035.4 L943.3 1036.4 L943.7 1037.0 L944.1 1037.6 L944.5 1038.0 L944.9 1038.2 L945.3 1038.6 L945.7 1038.4 L946.1 1038.4 L946.5 1038.5 L946.9 1038.9 L947.3 1038.6 L947.7 1038.6 L948.1 1038.9 L948.5 1039.1 L948.9 1038.8 L949.3 1038.6 L949.7 1038.9 L950.1 1039.0 L950.5 1038.8 L950.9 1039.1 L951.3 1038.9 L951.7 1038.9 L952.1 1039.1 L952.5 1039.2 L952.9 1039.1 L953.3 1039.3 L953.7 1038.1 L954.1 1037.5 L954.5 1036.7 L954.9 1035.5 L955.3 1035.0 L955.7 1033.6 L956.1 1032.5 L956.5 1032.5 L956.9 1032.4 L957.3 1032.1 L957.7 1032.1 L958.1 1032.7 L958.5 1032.7 L958.9 1033.4 L959.3 1034.6 L959.7 1035.2 L960.1 1035.8 L960.5 1037.0 L960.9 1038.0 L961.3 1038.6 L961.7 1039.5 L962.1 1039.9 L962.5 1040.2 L962.9 1040.1 L963.3 1040.2 L963.7 1040.7 L964.1 1040.4 L964.5 1040.4 L964.9 1040.6 L965.3 1040.5 L965.7 1040.7 L966.1 1040.7 L966.5 1040.8 L966.9 1041.1 L967.3 1041.2 L967.7 1041.3 L968.1 1041.5 L968.5 1041.5 L968.9 1041.7 L969.3 1041.4 L969.7 1041.4 L970.1 1041.3 L970.5 1041.4 L970.9 1041.8 L971.3 1042.0 L971.7 1041.8 L972.1 1041.5 L972.5 1041.5 L972.9 1041.6 L973.3 1041.4 L973.7 1041.3 L974.1 1040.8 L974.5 1039.8 L974.9 1039.1 L975.3 1038.5 L975.7 1037.1 L976.1 1035.8 L976.5 1035.2 L976.9 1034.4 L977.3 1033.3 L977.7 1033.3 L978.1 1032.8 L978.5 1032.2 L978.9 1032.4 L979.3 1032.7 L979.7 1033.3 L980.1 1033.4 L980.5 1033.7 L980.9 1034.6 L981.3 1035.7 L981.7 1036.4 L982.1 1036.9 L982.5 1037.5 L982.9 1037.8 L983.3 1038.1 L983.7 1038.7 L984.1 1039.1 L984.5 1039.7 L984.9 1039.8 L985.3 1039.7 L985.7 1039.7 L986.1 1039.8 L986.5 1039.6 L986.9 1039.6 L987.3 1040.0 L987.7 1039.9 L988.1 1039.9 L988.5 1040.0 L988.9 1040.0 L989.3 1040.0 L989.7 1040.5 L990.1 1040.3 L990.5 1040.7 L990.9 1040.8 L991.3 1041.0 L991.7 1040.6 L992.1 1040.8 L992.5 1041.1 L992.9 1040.8 L993.3 1040.7 L993.7 1041.0 L994.1 1040.8 L994.5 1040.9 L994.9 1040.7 L995.3 1041.1 L995.7 1040.9 L996.1 1040.7 L996.5 1041.0 L996.9 1040.8 L997.3 1040.9 L997.7 1040.9 L998.1 1041.2 L998.5 1041.0 L998.9 1040.8 L999.3 1040.6 L999.7 1040.8 L1000.1 1040.7 L1000.5 1040.9 L1000.9 1041.0 L1001.3 1040.9 L1001.7 1040.7 L1002.1 1040.9 L1002.5 1040.9 L1002.9 1041.0 L1003.3 1041.3 L1003.7 1040.9 L1004.1 1040.9 L1004.5 1040.7 L1004.9 1041.1 L1005.3 1040.8 L1005.7 1041.1 L1006.1 1041.2 L1006.5 1040.9 L1006.9 1041.2 L1007.3 1041.1 L1007.7 1041.0 L1008.1 1041.1 L1008.5 1041.4 L1008.9 1041.2 L1009.3 1041.2 L1009.7 1041.0 L1010.1 1041.3 L1010.5 1041.2 L1010.9 1041.1 L1011.3 1041.0 L1011.7 1040.9 L1012.1 1041.3 L1012.5 1041.4 L1012.9 1041.5 L1013.3 1041.5 L1013.7 1041.4 L1014.1 1041.4 L1014.5 1041.4 L1014.9 1041.4 L1015.3 1041.4 L1015.7 1041.0 L1016.1 1041.3 L1016.5 1041.0 L1016.9 1040.8 L1017.3 1041.2 L1017.7 1040.7 L1018.1 1040.8 L1018.5 1040.7 L1018.9 1040.9 L1019.3 1040.8 L1019.7 1040.9 L1020.1 1040.9 L1020.5 1040.7 L1020.9 1040.3 L1021.3 1040.5 L1021.7 1040.2 L1022.1 1040.7 L1022.5 1040.7 L1022.9 1040.3 L1023.3 1040.2 L1023.7 1040.4 L1024.1 1040.5 L1024.5 1040.6 L1024.9 1040.4 L1025.3 1040.1 L1025.7 1040.3 L1026.1 1040.0 L1026.5 1040.3 L1026.9 1040.4 L1027.3 1040.4 L1027.7 1040.5 L1028.1 1040.3 L1028.5 1040.5 L1028.9 1040.4 L1029.3 1040.1 L1029.7 1039.9 L1030.1 1039.8 L1030.5 1039.5 L1030.9 1039.5 L1031.3 1039.8 L1031.7 1039.6 L1032.1 1039.7 L1032.5 1039.8 L1032.9 1039.7 L1033.3 1039.4 L1033.7 1039.2 L1034.1 1039.0 L1034.5 1038.8 L1034.9 1038.9 L1035.3 1038.8 L1035.7 1039.0 L1036.1 1038.6 L1036.5 1038.8 L1036.9 1038.8 L1037.3 1038.4 L1037.7 1038.2 L1038.0 1038.1 L1038.1 1038.3 L1038.5 1038.3 L1038.9 1038.3 L1039.3 1038.3 L1039.7 1038.4 L1040.1 1038.5 L1040.5 1038.3 L1040.9 1038.7 L1041.3 1038.9 L1041.7 1039.0 L1042.1 1039.4 L1042.5 1039.4 L1042.9 1039.6 L1043.3 1040.0 L1043.7 1040.2 L1044.1 1040.4 L1044.5 1040.6 L1044.9 1040.7 L1045.3 1041.1 L1045.7 1041.5 L1046.1 1042.0 L1046.5 1042.1 L1046.9 1042.1 L1047.3 1042.3 L1047.7 1042.3 L1048.1 1042.6 L1048.5 1042.9 L1048.9 1042.5 L1049.3 1042.5 L1049.7 1042.7 L1050.1 1042.7 L1050.5 1042.6 L1050.9 1042.5 L1051.3 1042.6 L1051.7 1042.6 L1052.1 1042.1 L1052.5 1042.1 L1052.9 1042.3 L1053.3 1042.0 L1053.7 1041.7 L1054.1 1041.9 L1054.5 1041.4 L1054.9 1041.3 L1055.3 1041.5 L1055.7 1041.4 L1056.1 1041.6 L1056.5 1041.6 L1056.9 1041.4 L1057.3 1041.6 L1057.7 1041.6 L1058.1 1041.7 L1058.5 1041.6 L1058.9 1041.6 L1059.3 1041.5 L1059.7 1041.7 L1060.1 1042.1 L1060.5 1042.3 L1060.9 1041.9 L1061.3 1041.8 L1061.7 1041.9 L1062.1 1042.2 L1062.5 1042.2 L1062.9 1042.0 L1063.3 1042.1 L1063.7 1042.2 L1064.1 1042.4 L1064.5 1042.2 L1064.9 1042.3 L1065.3 1042.3 L1065.7 1042.2 L1066.1 1041.9 L1066.5 1042.1 L1066.9 1041.8 L1067.3 1041.7 L1067.7 1041.8 L1068.1 1041.6 L1068.5 1041.5 L1068.9 1041.7 L1069.3 1041.8 L1069.7 1041.6 L1070.1 1042.0 L1070.5 1042.1 L1070.9 1041.9 L1071.3 1041.9 L1071.7 1041.7 L1072.1 1042.0 L1072.5 1041.6 L1072.9 1041.5 L1073.3 1041.4 L1073.7 1041.8 L1074.1 1041.6 L1074.5 1041.5 L1074.9 1041.4 L1075.3 1041.7 L1075.7 1041.3 L1076.1 1041.5 L1076.5 1041.5 L1076.9 1041.4 L1077.3 1041.3 L1077.7 1041.3 L1078.1 1041.3 L1078.5 1041.2 L1078.9 1041.3 L1079.3 1041.2 L1079.7 1041.1 L1080.1 1041.4 L1080.5 1041.2 L1080.9 1041.2 L1081.3 1041.4 L1081.7 1041.2 L1082.1 1041.1 L1082.5 1041.4 L1082.9 1041.5 L1083.3 1041.4 L1083.7 1041.2 L1084.1 1041.3 L1084.5 1041.3 L1084.9 1041.1 L1085.3 1041.3 L1085.7 1041.5 L1086.1 1041.4 L1086.5 1041.5 L1086.9 1041.4 L1087.3 1041.3 L1087.7 1040.8 L1088.1 1040.8 L1088.5 1040.5 L1088.9 1040.5 L1089.3 1039.9 L1089.7 1039.8 L1090.1 1039.1 L1090.5 1038.9 L1090.9 1038.7 L1091.3 1038.0 L1091.7 1038.0 L1092.1 1037.3 L1092.5 1036.9 L1092.9 1036.8 L1093.3 1036.0 L1093.7 1036.1 L1094.1 1035.6 L1094.5 1035.6 L1094.9 1035.6 L1095.3 1035.5 L1095.7 1035.1 L1096.0 1035.0 L1096.1 1035.1 L1096.5 1035.3 L1096.9 1035.5 L1097.3 1035.5 L1097.7 1035.4 L1098.1 1035.8 L1098.5 1035.9 L1098.9 1036.0 L1099.3 1036.5 L1099.7 1036.4 L1100.1 1037.1 L1100.5 1037.3 L1100.9 1037.9 L1101.3 1038.5 L1101.7 1038.4 L1102.1 1038.9 L1102.5 1039.3 L1102.9 1039.7 L1103.3 1039.9 L1103.7 1040.4 L1104.1 1040.9 L1104.5 1041.1 L1104.9 1041.1 L1105.3 1041.7 L1105.7 1041.8 L1106.1 1041.8 L1106.5 1042.3 L1106.9 1042.6 L1107.3 1042.7 L1107.7 1043.0 L1108.1 1042.9 L1108.5 1043.1 L1108.9 1042.9 L1109.3 1043.1 L1109.7 1042.7 L1110.1 1042.8 L1110.5 1043.1 L1110.9 1043.1 L1111.3 1043.3 L1111.7 1043.0 L1112.1 1042.9 L1112.5 1042.9 L1112.9 1043.0 L1113.3 1042.8 L1113.7 1042.9 L1114.1 1043.1 L1114.5 1042.9 L1114.9 1043.0 L1115.3 1043.3 L1115.7 1043.5 L1116.1 1043.2 L1116.5 1043.0 L1116.9 1043.0 L1117.3 1043.0 L1117.7 1043.4 L1118.1 1043.5 L1118.5 1043.3 L1118.9 1043.4 L1119.3 1043.5 L1119.7 1043.2 L1120.1 1043.5 L1120.5 1043.7 L1120.9 1043.3 L1121.3 1043.5 L1121.7 1043.5 L1122.1 1043.3 L1122.5 1043.6 L1122.9 1043.2 L1123.3 1043.3 L1123.7 1043.2 L1124.1 1043.2 L1124.5 1043.4 L1124.9 1043.3 L1125.3 1043.3 L1125.7 1043.6 L1126.1 1043.2 L1126.5 1043.1 L1126.9 1043.3 L1127.3 1043.1 L1127.7 1043.5 L1128.1 1043.2 L1128.5 1043.2 L1128.9 1043.2 L1129.3 1043.4 L1129.7 1043.5 L1130.1 1043.3 L1130.5 1043.0 L1130.9 1043.0 L1131.3 1043.1 L1131.7 1042.9 L1132.1 1043.2 L1132.5 1043.3 L1132.9 1042.9 L1133.3 1042.9 L1133.7 1042.8 L1134.1 1043.1 L1134.5 1042.8 L1134.9 1043.1 L1135.3 1042.9 L1135.7 1043.3 L1136.1 1043.3 L1136.5 1043.4 L1136.9 1043.2 L1137.3 1043.2 L1137.7 1043.4 L1138.1 1043.9 L1138.5 1043.8 L1138.9 1044.0 L1139.3 1043.6 L1139.7 1043.6 L1140.1 1043.5 L1140.5 1043.9 L1140.9 1043.7 L1141.3 1043.7 L1141.7 1043.9 L1142.1 1043.9 L1142.5 1043.7 L1142.9 1043.6 L1143.3 1043.4 L1143.7 1043.5 L1144.1 1043.3 L1144.5 1043.2 L1144.9 1043.0 L1145.3 1043.0 L1145.7 1042.9 L1146.1 1042.7 L1146.5 1042.8 L1146.9 1042.9 L1147.3 1042.8 L1147.7 1042.7 L1148.1 1043.1 L1148.5 1042.9 L1148.9 1042.9 L1149.3 1042.8 L1149.7 1043.1 L1150.1 1043.1 L1150.5 1043.0 L1150.9 1043.0 L1151.3 1043.0 L1151.7 1042.9 L1152.1 1042.8 L1152.5 1042.7 L1152.9 1042.8 L1153.3 1042.7 L1153.7 1042.8 L1154.1 1042.8 L1154.5 1043.0 L1154.9 1043.1 L1155.3 1042.7 L1155.7 1042.5 L1156.1 1042.7 L1156.5 1042.6 L1156.9 1043.0 L1157.3 1043.1 L1157.7 1042.9 L1158.1 1042.9 L1158.5 1043.3 L1158.9 1043.4 L1159.3 1043.4 L1159.7 1043.4 L1160.1 1043.5 L1160.5 1043.3 L1160.9 1043.3 L1161.3 1043.3 L1161.7 1043.6 L1162.1 1043.7 L1162.5 1043.7 L1162.9 1043.7 L1163.3 1043.2 L1163.7 1043.2 L1164.1 1043.6 L1164.5 1043.5 L1164.9 1043.5 L1165.3 1043.4 L1165.7 1043.7 L1166.1 1043.6 L1166.5 1043.9 L1166.9 1043.4 L1167.3 1043.9 L1167.7 1043.4 L1168.1 1043.4 L1168.5 1043.5 L1168.9 1043.7 L1169.3 1043.5 L1169.7 1043.6 L1170.1 1043.9 L1170.5 1043.7 L1170.9 1043.8 L1171.3 1043.7 L1171.7 1043.6 L1172.1 1043.3 L1172.5 1043.4 L1172.9 1043.6 L1173.3 1043.6 L1173.7 1043.2 L1174.1 1043.3 L1174.5 1043.3 L1174.9 1043.2 L1175.3 1043.3 L1175.7 1043.4 L1176.1 1043.1 L1176.5 1043.1 L1176.9 1043.4 L1177.3 1043.2 L1177.7 1043.1 L1178.1 1043.5 L1178.5 1043.3 L1178.9 1043.7 L1179.3 1043.6 L1179.7 1043.3 L1180.1 1043.5 L1180.5 1043.3 L1180.9 1043.6 L1181.3 1043.7 L1181.7 1043.7 L1182.1 1043.3 L1182.5 1043.1 L1182.9 1043.5 L1183.3 1043.2 L1183.7 1043.2 L1184.1 1043.1 L1184.5 1043.1 L1184.9 1043.3 L1185.3 1043.7 L1185.7 1043.4 L1186.1 1043.3 L1186.5 1043.6 L1186.9 1043.3 L1187.3 1043.5 L1187.7 1043.5 L1188.1 1043.7 L1188.5 1043.2 L1188.9 1043.4 L1189.3 1043.3 L1189.7 1043.6 L1190.1 1043.3 L1190.5 1043.5 L1190.9 1043.2 L1191.3 1043.3 L1191.7 1043.7 L1192.1 1043.4 L1192.5 1043.3 L1192.9 1043.7 L1193.3 1043.7 L1193.7 1043.3 L1194.1 1043.3 L1194.5 1043.3 L1194.9 1043.4 L1195.3 1043.7 L1195.7 1043.7 L1196.1 1043.9 L1196.5 1043.7 L1196.9 1043.7 L1197.3 1043.4 L1197.7 1043.5 L1198.1 1043.4 L1198.5 1043.0 L1198.9 1043.1 L1199.3 1043.0 L1199.7 1043.0 L1200.1 1042.7 L1200.5 1042.5 L1200.9 1043.0 L1201.3 1042.7 L1201.7 1042.5 L1202.1 1042.3 L1202.5 1042.5 L1202.9 1042.7 L1203.3 1042.3 L1203.7 1042.3 L1204.1 1042.3 L1204.5 1042.5 L1204.9 1042.4 L1205.3 1042.2 L1205.7 1042.1 L1206.1 1042.4 L1206.5 1042.1 L1206.9 1042.5 L1207.3 1042.1 L1207.7 1042.1 L1208.1 1042.3 L1208.5 1042.6 L1208.9 1042.6 L1209.3 1042.6 L1209.7 1042.7 L1210.1 1042.7 L1210.5 1042.3 L1210.9 1042.6 L1211.3 1042.4 L1211.7 1042.3 L1212.1 1042.3 L1212.5 1042.3 L1212.9 1042.9 L1213.3 1042.8 L1213.7 1042.7 L1214.1 1042.7 L1214.5 1043.2 L1214.9 1043.3 L1215.3 1043.5 L1215.7 1043.1 L1216.1 1043.0 L1216.5 1043.1 L1216.9 1043.1 L1217.3 1043.0 L1217.7 1043.1 L1218.1 1043.3 L1218.5 1043.1 L1218.9 1043.1 L1219.3 1043.3 L1219.7 1043.2 L1220.1 1043.1 L1220.5 1043.3 L1220.9 1043.3 L1221.3 1043.1 L1221.7 1042.9 L1222.1 1042.5 L1222.5 1042.5 L1222.9 1042.1 L1223.3 1042.0 L1223.7 1041.5 L1224.1 1041.7 L1224.5 1041.3 L1224.9 1040.9 L1225.3 1040.6 L1225.7 1040.5 L1226.1 1039.9 L1226.5 1039.7 L1226.9 1039.8 L1227.3 1039.5 L1227.7 1039.4 L1228.0 1039.5 L1228.1 1039.0 L1228.5 1039.0 L1228.9 1039.1 L1229.3 1039.4 L1229.7 1039.5 L1230.1 1039.7 L1230.5 1040.1 L1230.9 1039.9 L1231.3 1040.2 L1231.7 1040.7 L1232.1 1041.0 L1232.5 1040.8 L1232.9 1041.4 L1233.3 1041.5 L1233.7 1041.8 L1234.1 1041.6 L1234.5 1041.6 L1234.9 1041.8 L1235.3 1041.8 L1235.7 1041.6 L1236.1 1041.7 L1236.5 1041.8 L1236.9 1041.7 L1237.3 1041.5 L1237.7 1041.6 L1238.1 1041.1 L1238.5 1041.1 L1238.9 1041.2 L1239.3 1040.9 L1239.7 1041.2 L1240.1 1040.9 L1240.5 1041.1 L1240.9 1040.9 L1241.3 1040.8 L1241.7 1041.0 L1242.1 1040.7 L1242.5 1040.8 L1242.9 1041.0 L1243.3 1041.1 L1243.7 1040.7 L1244.1 1040.5 L1244.5 1040.4 L1244.9 1039.9 L1245.3 1039.9 L1245.7 1039.3 L1246.1 1039.2 L1246.5 1038.6 L1246.9 1038.0 L1247.3 1037.5 L1247.7 1037.0 L1248.1 1036.8 L1248.5 1036.5 L1248.9 1036.7 L1249.3 1036.5 L1249.7 1035.9 L1250.0 1036.0 L1250.1 1035.8 L1250.5 1036.0 L1250.9 1036.2 L1251.3 1036.4 L1251.7 1036.8 L1252.1 1036.9 L1252.5 1037.1 L1252.9 1037.6 L1253.3 1037.9 L1253.7 1038.4 L1254.1 1038.6 L1254.5 1039.0 L1254.9 1039.0 L1255.3 1039.3 L1255.7 1039.5 L1256.1 1039.1 L1256.5 1039.2 L1256.9 1039.0 L1257.3 1038.8 L1257.7 1039.0 L1258.1 1039.0 L1258.5 1039.4 L1258.9 1039.5 L1259.3 1039.6 L1259.7 1039.8 L1260.1 1039.1 L1260.5 1038.8 L1260.9 1038.5 L1261.3 1038.6 L1261.7 1038.6 L1262.1 1038.3 L1262.5 1037.9 L1262.9 1037.7 L1263.3 1037.4 L1263.7 1037.1 L1264.1 1037.3 L1264.5 1037.0 L1264.9 1037.2 L1265.3 1037.3 L1265.7 1037.5 L1266.1 1037.7 L1266.5 1038.2 L1266.9 1038.5 L1267.3 1039.1 L1267.7 1039.7 L1268.1 1040.0 L1268.5 1040.2 L1268.9 1040.9 L1269.3 1041.4 L1269.7 1041.9 L1270.1 1042.1 L1270.5 1042.5 L1270.9 1042.8 L1271.3 1042.9 L1271.7 1043.2 L1272.1 1043.0 L1272.5 1043.3 L1272.9 1043.4 L1273.3 1043.4 L1273.7 1043.2 L1274.1 1043.4 L1274.5 1043.4 L1274.9 1043.7 L1275.3 1043.7 L1275.7 1043.7 L1276.1 1043.4 L1276.5 1043.3 L1276.9 1043.6 L1277.3 1043.7 L1277.7 1043.9 L1278.1 1043.8 L1278.5 1043.5 L1278.9 1043.5 L1279.3 1043.5 L1279.7 1043.7 L1280.1 1043.5 L1280.5 1043.8 L1280.9 1043.6 L1281.3 1043.4 L1281.7 1043.3 L1282.1 1043.1 L1282.5 1043.3 L1282.9 1042.7 L1283.3 1042.7 L1283.7 1042.3 L1284.1 1042.5 L1284.5 1042.1 L1284.9 1041.8 L1285.3 1041.7 L1285.7 1041.7 L1286.1 1041.7 L1286.5 1041.4 L1286.9 1041.2 L1287.3 1041.1 L1287.7 1041.3 L1288.0 1040.9 L1288.1 1040.7 L1288.5 1041.1 L1288.9 1041.0 L1289.3 1040.7 L1289.7 1040.6 L1290.1 1040.9 L1290.5 1041.0 L1290.9 1040.7 L1291.3 1041.0 L1291.7 1040.8 L1292.1 1040.9 L1292.5 1041.1 L1292.9 1040.8 L1293.3 1041.3 L1293.7 1041.1 L1294.1 1041.0 L1294.5 1041.4 L1294.9 1041.3 L1295.3 1041.1 L1295.7 1041.5 L1296.1 1041.5 L1296.5 1041.8 L1296.9 1041.8 L1297.3 1041.5 L1297.7 1041.4 L1298.1 1041.7 L1298.5 1041.8 L1298.9 1041.7 L1299.3 1042.1 L1299.7 1041.9 L1300.1 1042.1 L1300.5 1041.9 L1300.9 1042.4 L1301.3 1042.5 L1301.7 1042.4 L1302.1 1042.2 L1302.5 1042.4 L1302.9 1042.6 L1303.3 1042.6 L1303.7 1042.2 L1304.1 1042.3 L1304.5 1042.2 L1304.9 1042.4 L1305.3 1042.7 L1305.7 1042.7 L1306.1 1042.4 L1306.5 1042.5 L1306.9 1042.4 L1307.3 1042.1 L1307.7 1042.3 L1308.1 1042.2 L1308.5 1041.8 L1308.9 1041.6 L1309.3 1041.6 L1309.7 1041.5 L1310.1 1041.2 L1310.5 1040.7 L1310.9 1040.4 L1311.3 1040.2 L1311.7 1040.3 L1312.1 1040.0 L1312.5 1039.8 L1312.9 1039.4 L1313.3 1039.2 L1313.7 1039.1 L1314.1 1039.4 L1314.5 1039.3 L1314.9 1038.9 L1315.3 1039.1 L1315.7 1039.0 L1316.0 1039.0 L1316.1 1039.1 L1316.5 1039.1 L1316.9 1039.3 L1317.3 1039.5 L1317.7 1039.3 L1318.1 1039.4 L1318.5 1039.4 L1318.9 1039.4 L1319.3 1039.5 L1319.7 1039.7 L1320.1 1039.5 L1320.5 1039.6 L1320.9 1040.1 L1321.3 1040.4 L1321.7 1040.5 L1322.1 1040.8 L1322.5 1040.8 L1322.9 1041.1 L1323.3 1041.2 L1323.7 1041.4 L1324.1 1041.6 L1324.5 1042.3 L1324.9 1042.7 L1325.3 1042.6 L1325.7 1042.8 L1326.1 1042.9 L1326.5 1043.1 L1326.9 1043.7 L1327.3 1044.2 L1327.7 1044.0 L1328.1 1044.2 L1328.5 1044.7 L1328.9 1044.7 L1329.3 1045.1 L1329.7 1044.9 L1330.1 1044.9 L1330.5 1044.8 L1330.9 1044.7 L1331.3 1044.8 L1331.7 1044.7 L1332.1 1044.9 L1332.5 1044.5 L1332.9 1044.7 L1333.3 1044.8 L1333.7 1044.5 L1334.1 1044.3 L1334.5 1044.1 L1334.9 1044.0 L1335.3 1044.4 L1335.7 1044.5 L1336.1 1044.1 L1336.5 1044.3 L1336.9 1044.5 L1337.3 1044.5 L1337.7 1044.3 L1338.1 1044.5 L1338.5 1044.6 L1338.9 1045.1 L1339.3 1044.9 L1339.7 1045.2 L1340.1 1045.4 L1340.5 1045.3 L1340.9 1045.0 L1341.3 1045.4 L1341.7 1045.1 L1342.1 1045.4 L1342.5 1045.2 L1342.9 1045.2 L1343.3 1045.3 L1343.7 1045.3 L1344.1 1045.7 L1344.5 1045.6 L1344.9 1045.8 L1345.3 1045.9 L1345.7 1045.8 L1346.1 1045.8 L1346.5 1045.6 L1346.9 1045.8 L1347.3 1045.8 L1347.7 1045.5 L1348.1 1045.7 L1348.5 1045.6 L1348.9 1045.7 L1349.3 1045.8 L1349.7 1045.9 L1350.1 1045.8 L1350.5 1045.9 L1350.9 1046.0 L1351.3 1045.5 L1351.7 1045.4 L1352.1 1045.4 L1352.5 1045.4 L1352.9 1045.9 L1353.3 1045.7 L1353.7 1045.7 L1354.1 1045.7 L1354.5 1045.8 L1354.9 1045.7 L1355.3 1045.9 L1355.7 1045.8 L1356.1 1046.0 L1356.5 1046.1 L1356.9 1045.6 L1357.3 1045.8 L1357.7 1045.6 L1358.1 1046.0 L1358.5 1045.6 L1358.9 1045.7 L1359.3 1045.9 L1359.7 1045.9 L1360.1 1046.0 L1360.5 1045.8 L1360.9 1045.8 L1361.3 1045.6 L1361.7 1045.7 L1362.1 1045.6 L1362.5 1045.8 L1362.9 1045.5 L1363.3 1045.5 L1363.7 1045.5 L1364.1 1045.7 L1364.5 1045.8 L1364.9 1045.5 L1365.3 1046.0 L1365.7 1046.1 L1366.1 1045.8 L1366.5 1045.6 L1366.9 1046.0 L1367.3 1046.2 L1367.7 1045.8 L1368.1 1046.0 L1368.5 1046.1 L1368.9 1046.2 L1369.3 1045.8 L1369.7 1045.6 L1370.1 1045.6 L1370.5 1045.7 L1370.9 1046.1 L1371.3 1046.2 L1371.7 1046.0 L1372.1 1045.7 L1372.5 1045.8 L1372.9 1045.8 L1373.3 1046.0 L1373.7 1046.1 L1374.1 1046.2 L1374.5 1046.0 L1374.9 1046.0 L1375.3 1046.0 L1375.7 1046.0 L1376.1 1046.0 L1376.5 1046.2 L1376.9 1046.3 L1377.3 1046.1 L1377.7 1046.2 L1378.1 1046.0 L1378.5 1045.9 L1378.9 1046.1 L1379.3 1046.1 L1379.7 1045.9 L1380.1 1045.9 L1380.5 1046.2 L1380.9 1046.6 L1381.3 1046.6 L1381.7 1046.2 L1382.1 1046.3 L1382.5 1046.3 L1382.9 1046.3 L1383.3 1046.3 L1383.7 1046.5 L1384.1 1046.8 L1384.5 1046.6 L1384.9 1046.4 L1385.3 1046.3 L1385.7 1046.3 L1386.1 1046.7 L1386.5 1046.5 L1386.9 1046.7 L1387.3 1046.8 L1387.7 1046.3 L1388.1 1046.2 L1388.5 1046.2 L1388.9 1046.4 L1389.3 1046.4 L1389.7 1046.1 L1390.1 1046.1 L1390.5 1046.0 L1390.9 1045.9 L1391.3 1046.1 L1391.7 1045.8 L1392.1 1046.0 L1392.5 1046.1 L1392.9 1046.0 L1393.3 1046.2 L1393.7 1046.2 L1394.1 1045.7 L1394.5 1046.1 L1394.9 1045.8 L1395.3 1046.0 L1395.7 1045.7 L1396.1 1045.7 L1396.5 1045.8 L1396.9 1046.1 L1397.3 1046.1 L1397.7 1045.8 L1398.1 1046.2 L1398.5 1046.3 L1398.9 1046.1 L1399.3 1045.7 L1399.7 1045.8 L1400.1 1045.8 L1400.5 1045.8 L1400.9 1046.2 L1401.3 1046.1 L1401.7 1046.2 L1402.1 1045.8 L1402.5 1045.8 L1402.9 1046.1 L1403.3 1046.0 L1403.7 1045.9 L1404.1 1045.8 L1404.5 1045.8 L1404.9 1046.0 L1405.3 1046.2 L1405.7 1046.1 L1406.1 1046.2 L1406.5 1046.1 L1406.9 1045.9 L1407.3 1046.3 L1407.7 1046.2 L1408.1 1046.3 L1408.5 1046.3 L1408.9 1046.2 L1409.3 1046.1 L1409.7 1046.2 L1410.1 1046.3 L1410.5 1046.2 L1410.9 1046.1 L1411.3 1046.4 L1411.7 1046.2 L1412.1 1046.7 L1412.5 1046.6 L1412.9 1046.6 L1413.3 1046.7 L1413.7 1046.4 L1414.1 1046.4 L1414.5 1046.8 L1414.9 1046.7 L1415.3 1046.7 L1415.7 1046.6 L1416.1 1046.7 L1416.5 1046.6 L1416.9 1046.7 L1417.3 1046.7 L1417.7 1046.7 L1418.1 1046.6 L1418.5 1046.5 L1418.9 1046.3 L1419.3 1046.3 L1419.7 1046.3 L1420.1 1046.3 L1420.5 1046.4 L1420.9 1046.5 L1421.3 1046.1 L1421.7 1046.4 L1422.1 1046.4 L1422.5 1046.4 L1422.9 1046.7 L1423.3 1046.2 L1423.7 1046.4 L1424.1 1046.4 L1424.5 1046.8 L1424.9 1046.5 L1425.3 1046.7 L1425.7 1046.5 L1426.1 1046.9 L1426.5 1046.8 L1426.9 1047.0 L1427.3 1046.8 L1427.7 1047.1 L1428.1 1046.6 L1428.5 1046.7 L1428.9 1047.0 L1429.3 1047.2 L1429.7 1047.2 L1430.1 1046.9 L1430.5 1046.7 L1430.9 1047.0 L1431.3 1047.1 L1431.7 1046.8 L1432.1 1047.2 L1432.5 1047.1 L1432.9 1046.8 L1433.3 1046.9 L1433.7 1046.9 L1434.1 1046.8 L1434.5 1047.2 L1434.9 1047.3 L1435.3 1046.8 L1435.7 1046.9 L1436.1 1046.7 L1436.5 1046.9 L1436.9 1046.5 L1437.3 1046.5 L1437.7 1046.5 L1438.1 1046.5 L1438.5 1046.4 L1438.9 1046.4 L1439.3 1046.5 L1439.7 1046.5 L1440.1 1046.4 L1440.5 1046.3 L1440.9 1045.8 L1441.3 1045.7 L1441.7 1045.7 L1442.1 1045.8 L1442.5 1045.8 L1442.9 1045.6 L1443.3 1045.8 L1443.7 1045.5 L1444.1 1045.2 L1444.5 1045.1 L1444.9 1045.1 L1445.3 1045.4 L1445.7 1045.6 L1446.1 1045.1 L1446.5 1045.1 L1446.9 1045.0 L1447.3 1045.4 L1447.7 1045.5 L1448.1 1045.2 L1448.5 1045.0 L1448.9 1045.4 L1449.3 1045.6 L1449.7 1045.5 L1450.1 1045.3 L1450.5 1045.4 L1450.9 1045.4 L1451.3 1045.3 L1451.7 1045.1 L1452.1 1045.2 L1452.5 1045.4 L1452.9 1045.2 L1453.3 1045.4 L1453.7 1045.2 L1454.1 1045.6 L1454.5 1045.3 L1454.9 1045.3 L1455.3 1045.8 L1455.7 1045.9 L1456.1 1046.0 L1456.5 1046.1 L1456.9 1046.1 L1457.3 1046.2 L1457.7 1046.1 L1458.1 1045.8 L1458.5 1046.2 L1458.9 1046.4 L1459.3 1046.6 L1459.7 1046.2 L1460.1 1046.1 L1460.5 1046.5 L1460.9 1046.6 L1461.3 1046.8 L1461.7 1047.0 L1462.1 1046.7 L1462.5 1046.8 L1462.9 1046.8 L1463.3 1046.9 L1463.7 1046.7 L1464.1 1046.8 L1464.5 1046.5 L1464.9 1046.9 L1465.3 1046.9 L1465.7 1046.9 L1466.1 1046.7 L1466.5 1046.5 L1466.9 1046.6 L1467.3 1046.8 L1467.7 1046.7 L1468.1 1046.4 L1468.5 1046.3 L1468.9 1046.5 L1469.3 1046.4 L1469.7 1046.4 L1470.1 1046.3 L1470.5 1046.4 L1470.9 1046.6 L1471.3 1046.7 L1471.7 1046.5 L1472.1 1046.0 L1472.5 1046.3 L1472.9 1046.2 L1473.3 1046.2 L1473.7 1046.1 L1474.1 1045.8 L1474.5 1045.7 L1474.9 1045.5 L1475.3 1045.7 L1475.7 1045.4 L1476.1 1045.7 L1476.5 1045.9 L1476.9 1045.8 L1477.3 1045.8 L1477.7 1045.9 L1478.1 1046.1 L1478.5 1046.1 L1478.9 1046.2 L1479.3 1046.0 L1479.7 1045.7 L1480.1 1046.0 L1480.5 1046.1 L1480.9 1046.3 L1481.3 1046.3 L1481.7 1046.1 L1482.1 1045.9 L1482.5 1046.3 L1482.9 1046.3 L1483.3 1046.5 L1483.7 1046.3 L1484.1 1046.3 L1484.5 1046.3 L1484.9 1046.4 L1485.3 1046.1 L1485.7 1046.3 L1486.1 1046.0 L1486.5 1045.7 L1486.9 1045.8 L1487.3 1045.9 L1487.7 1046.3 L1488.1 1046.0 L1488.5 1045.9 L1488.9 1046.1 L1489.3 1045.8 L1489.7 1045.8 L1490.1 1045.8 L1490.5 1045.7 L1490.9 1045.9 L1491.3 1045.8 L1491.7 1046.0 L1492.1 1045.8 L1492.5 1046.1 L1492.9 1045.7 L1493.3 1045.8 L1493.7 1045.6 L1494.1 1045.4 L1494.5 1045.5 L1494.9 1045.9 L1495.3 1045.6 L1495.7 1045.7 L1496.1 1045.7 L1496.5 1045.6 L1496.9 1045.7 L1497.3 1045.5 L1497.7 1045.6 L1498.1 1045.6 L1498.5 1045.9 L1498.9 1046.0 L1499.3 1046.0 L1499.7 1045.9 L1500.1 1046.1 L1500.5 1046.1 L1500.9 1045.6 L1501.3 1045.6 L1501.7 1045.9 L1502.1 1046.1 L1502.5 1046.2 L1502.9 1046.1 L1503.3 1045.8 L1503.7 1045.9 L1504.1 1046.0 L1504.5 1046.0 L1504.9 1045.7 L1505.3 1046.1 L1505.7 1046.0 L1506.1 1045.8 L1506.5 1046.1 L1506.9 1045.9 L1507.3 1045.6 L1507.7 1045.8 L1508.1 1045.6 L1508.5 1045.5 L1508.9 1045.5 L1509.3 1045.6 L1509.7 1045.5 L1510.1 1045.6 L1510.5 1045.8 L1510.9 1045.9 L1511.3 1045.9 L1511.7 1045.9 L1512.1 1045.5 L1512.5 1045.7 L1512.9 1045.4 L1513.3 1045.6 L1513.7 1045.4 L1514.1 1045.4 L1514.5 1045.9 L1514.9 1045.7 L1515.3 1046.0 L1515.7 1046.0 L1516.1 1045.7 L1516.5 1046.1 L1516.9 1045.8 L1517.3 1046.3 L1517.7 1046.4 L1518.1 1046.2 L1518.5 1046.0 L1518.9 1045.6 L1519.3 1045.8 L1519.7 1045.3 L1520.1 1045.4 L1520.5 1045.5 L1520.9 1045.3 L1521.3 1044.8 L1521.7 1044.8 L1522.1 1044.7 L1522.5 1044.3 L1522.9 1044.2 L1523.3 1044.0 L1523.7 1043.6 L1524.1 1043.5 L1524.5 1043.2 L1524.9 1043.1 L1525.3 1043.3 L1525.7 1043.1 L1526.1 1043.2 L1526.5 1042.9 L1526.9 1042.7 L1527.0 1042.5 L1527.3 1043.1 L1527.7 1043.2 L1528.1 1043.4 L1528.5 1043.3 L1528.9 1043.0 L1529.3 1043.1 L1529.7 1043.2 L1530.1 1043.7 L1530.5 1044.0 L1530.9 1044.5 L1531.3 1044.4 L1531.7 1044.5 L1532.1 1044.7 L1532.5 1044.8 L1532.9 1044.9 L1533.3 1045.4 L1533.7 1045.6 L1534.1 1045.8 L1534.5 1046.3 L1534.9 1046.2 L1535.3 1046.6 L1535.7 1046.5 L1536.1 1046.3 L1536.5 1046.2 L1536.9 1046.6 L1537.3 1046.9 L1537.7 1046.5 L1538.1 1046.8 L1538.5 1046.6 L1538.9 1046.8 L1539.3 1047.0 L1539.7 1047.0 L1540.1 1046.6 L1540.5 1046.4 L1540.9 1046.8 L1541.3 1046.8 L1541.7 1046.8 L1542.1 1046.4 L1542.5 1046.0 L1542.9 1045.9 L1543.3 1046.1 L1543.7 1045.6 L1544.1 1045.5 L1544.5 1045.2 L1544.9 1045.6 L1545.3 1045.3 L1545.7 1045.0 L1546.1 1045.0 L1546.5 1044.9 L1546.9 1045.0 L1547.3 1045.1 L1547.7 1045.2" fill="none" stroke="#000000" stroke-width="7.0" stroke-linejoin="round" stroke-linecap="butt" shape-rendering="crispEdges"/>
<polygon points="821.6,648.5 836.4,667.3 821.6,686 806.8,667.3" fill="#000"/>
<g font-family="'Liberation Serif', 'Times New Roman', serif" font-weight="bold" fill="#000">
<text x="280.8" y="1139.5" font-size="61.5" text-anchor="middle">10</text>
<text x="462.3" y="1139.5" font-size="61.5" text-anchor="middle">20</text>
<text x="643.8" y="1139.5" font-size="61.5" text-anchor="middle">30</text>
<text x="825.4" y="1139.5" font-size="61.5" text-anchor="middle">40</text>
<text x="1006.9" y="1139.5" font-size="61.5" text-anchor="middle">50</text>
<text x="1188.4" y="1139.5" font-size="61.5" text-anchor="middle">60</text>
<text x="1370.0" y="1139.5" font-size="61.5" text-anchor="middle">70</text>
<text x="1551.5" y="1139.5" font-size="61.5" text-anchor="middle">80</text>
<text x="1105" y="318" font-size="67" textLength="388" lengthAdjust="spacing" style="font-kerning:none">Co/ZSM-5-AT</text>
<text x="1128" y="673" font-size="67" textLength="369.5" lengthAdjust="spacing" style="font-kerning:none">Pt/ZSM-5-AT</text>
<text x="1001" y="985.5" font-size="67" textLength="508.5" lengthAdjust="spacing" style="font-kerning:none">Pt8Co1/ZSM-5-AT</text>
<text x="754.3" y="625.7" font-size="51.5">Pt(111)</text>
<text transform="translate(80.5,830.5) rotate(-90)" font-size="71.2">Intensity (a.u.)</text>
</g>
<g font-family="'Liberation Sans', Arial, sans-serif" fill="#000">
<text x="772.9" y="1248" font-weight="bold" font-size="70">2</text>
<text transform="translate(811.6,1250) scale(1.116,1)" font-weight="bold" font-style="italic" font-size="65">θ</text>
<text font-size="67.3" y="1247.5"><tspan x="875.7">(</tspan><tspan x="895.8" y="1259.2" font-size="86">°</tspan><tspan x="927.6" y="1247.5"> )</tspan></text>
</g>
</svg>
</body></html>
